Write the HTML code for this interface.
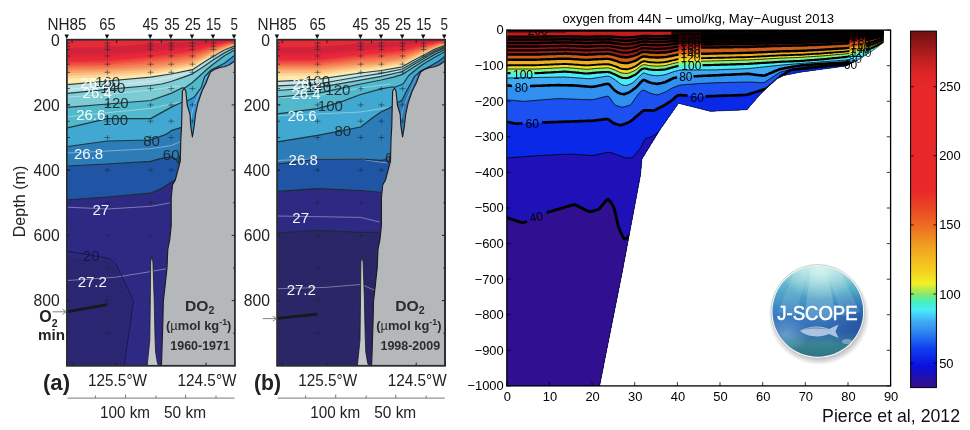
<!DOCTYPE html>
<html><head><meta charset="utf-8"><title>DO2 sections</title>
<style>
html,body{margin:0;padding:0;background:#fff;}
body{width:970px;height:430px;overflow:hidden;font-family:'Liberation Sans', sans-serif;}
svg{display:block;font-family:'Liberation Sans', sans-serif;}
</style></head>
<body>
<svg width="970" height="430" viewBox="0 0 970 430">
<rect width="970" height="430" fill="#fff"/>
<clipPath id="clipa"><rect x="66.9" y="39.7" width="168.0" height="326.1"/></clipPath>
<g clip-path="url(#clipa)">
<rect x="66.9" y="39.7" width="168.0" height="326.1" fill="#e62a38"/>
<polygon points="66.9,48.0 67.4,48.0 107.4,47.3 150.6,43.8 171.2,42.7 192.4,41.5 213.4,40.5 234.7,40.0 235.1,40.0 235.1,365.8 66.9,365.8" fill="#d2213a"/>
<polygon points="66.9,54.5 67.4,54.5 107.4,53.8 150.6,50.5 171.2,48.3 192.4,45.5 213.4,42.3 234.7,40.2 235.1,40.2 235.1,365.8 66.9,365.8" fill="#dc2439"/>
<polygon points="66.9,57.0 67.4,57.0 107.4,56.3 150.6,52.5 171.2,50.0 192.4,47.0 213.4,43.2 234.7,40.4 235.1,40.4 235.1,365.8 66.9,365.8" fill="#e8283a"/>
<polygon points="66.9,61.5 67.4,61.5 107.4,60.8 150.6,56.5 171.2,54.0 192.4,51.0 213.4,45.3 234.7,40.9 235.1,40.9 235.1,365.8 66.9,365.8" fill="#ec3c3d"/>
<polygon points="66.9,63.5 67.4,63.5 107.4,62.8 150.6,58.5 171.2,56.0 192.4,53.0 213.4,46.7 234.7,41.4 235.1,41.4 235.1,365.8 66.9,365.8" fill="#ef5243"/>
<polygon points="66.9,65.5 67.4,65.5 107.4,64.8 150.6,60.8 171.2,58.2 192.4,55.0 213.4,48.0 234.7,41.9 235.1,41.9 235.1,365.8 66.9,365.8" fill="#f26848"/>
<polygon points="66.9,67.3 67.4,67.3 107.4,66.5 150.6,63.0 171.2,60.4 192.4,57.0 213.4,49.3 234.7,42.5 235.1,42.5 235.1,365.8 66.9,365.8" fill="#f47c52"/>
<polygon points="66.9,69.0 67.4,69.0 107.4,68.2 150.6,65.3 171.2,62.6 192.4,59.0 213.4,50.5 234.7,43.1 235.1,43.1 235.1,365.8 66.9,365.8" fill="#f68f5c"/>
<polygon points="66.9,71.0 67.4,71.0 107.4,70.0 150.6,67.5 171.2,64.8 192.4,61.0 213.4,51.8 234.7,43.7 235.1,43.7 235.1,365.8 66.9,365.8" fill="#f8a76c"/>
<polygon points="66.9,73.2 67.4,73.2 107.4,72.0 150.6,69.8 171.2,66.8 192.4,63.0 213.4,53.0 234.7,44.3 235.1,44.3 235.1,365.8 66.9,365.8" fill="#fabf80"/>
<polygon points="66.9,75.8 67.4,75.8 107.4,74.3 150.6,72.0 171.2,68.8 192.4,65.0 213.4,54.2 234.7,44.8 235.1,44.8 235.1,365.8 66.9,365.8" fill="#fcd696"/>
<polygon points="66.9,78.5 67.4,78.5 107.4,77.0 150.6,74.3 171.2,70.8 192.4,66.8 213.4,55.2 234.7,45.4 235.1,45.4 235.1,365.8 66.9,365.8" fill="#fdeaac"/>
<polygon points="66.9,84.7 67.4,84.7 107.4,81.0 150.6,77.2 171.0,74.0 192.4,69.7 202.3,63.3 213.4,56.3 224.4,50.0 234.7,45.9 235.1,45.9 235.1,365.8 66.9,365.8" fill="#b2dfe2"/>
<polygon points="66.9,93.4 67.4,93.4 107.4,89.4 150.6,85.5 161.6,84.0 171.0,81.5 183.7,77.2 192.4,73.8 202.3,67.4 213.4,59.8 224.4,52.9 234.7,47.6 235.1,47.6 235.1,365.8 66.9,365.8" fill="#7ccbd5"/>
<polygon points="66.9,107.4 67.4,107.4 107.4,104.0 150.6,100.5 171.0,93.4 181.4,88.2 185.5,87.6 192.4,82.5 198.8,76.7 205.8,70.3 213.4,63.9 224.4,55.8 234.7,50.0 235.1,50.0 235.1,365.8 66.9,365.8" fill="#52b9cc"/>
<polygon points="66.9,127.9 67.4,127.9 107.4,118.6 150.6,118.6 171.0,107.4 180.8,102.7 187.2,101.0 194.2,97.0 201.2,87.6 204.7,76.5 205.8,75.5 210.5,70.3 217.4,66.8 224.4,63.3 234.7,55.2 235.1,55.2 235.1,365.8 66.9,365.8" fill="#41a9d1"/>
<polygon points="67.4,146.5 107.4,141.0 150.6,140.0 166.0,134.4 171.2,130.7 180.0,127.9 183.0,127.0 184.0,127.0 184.0,365.8 66.9,365.8" fill="#2c7cb8"/>
<polygon points="67.4,166.0 107.4,164.0 150.6,161.4 160.4,158.6 171.2,156.7 176.2,159.5 178.0,163.0 179.3,158.0 181.0,154.0 184.0,154.0 184.0,365.8 66.9,365.8" fill="#2055a5"/>
<polygon points="67.4,199.8 107.4,197.0 150.6,193.2 161.3,188.6 173.4,181.0 177.0,178.5 184.0,178.5 184.0,365.8 66.9,365.8" fill="#2e2a84"/>
<polygon points="187.2,101.0 194.2,97.0 201.2,87.6 204.7,76.5 210.5,70.3 217.4,66.8 224.4,63.3 234.7,55.2 234.7,70.0 200.0,140.0 187.0,140.0" fill="#2f95d3"/>
<polygon points="67.4,251.2 84.2,254.0 109.3,258.6 115.8,264.2 133.4,300.4 130.7,320.0 124.2,365.5 67.4,365.5" fill="#2c287c"/>
<polygon points="67.4,257.7 107.4,260.5 113.9,265.1 131.6,301.4 128.8,320.0 122.0,365.5 67.4,365.5" fill="#2a2672"/>
<polyline points="67.4,89.5 107.4,86.0 150.6,81.5 190.0,73.0" fill="none" stroke="#ffffff" stroke-width="0.9" stroke-linejoin="round" stroke-opacity="0.42"/>
<polyline points="67.4,97.0 107.0,94.5 150.6,90.0 180.0,86.0" fill="none" stroke="#ffffff" stroke-width="0.9" stroke-linejoin="round" stroke-opacity="0.42"/>
<polyline points="67.4,116.7 150.6,108.4 181.0,101.9" fill="none" stroke="#ffffff" stroke-width="0.9" stroke-linejoin="round" stroke-opacity="0.42"/>
<polyline points="67.4,153.0 107.4,151.0 150.6,148.7 171.2,145.6 180.0,141.8" fill="none" stroke="#ffffff" stroke-width="0.9" stroke-linejoin="round" stroke-opacity="0.42"/>
<polyline points="67.4,207.2 107.4,209.0 150.6,206.3 169.7,203.0" fill="none" stroke="#ffffff" stroke-width="0.9" stroke-linejoin="round" stroke-opacity="0.42"/>
<polyline points="67.4,280.5 115.8,277.2 150.6,271.6 166.0,268.8" fill="none" stroke="#ffffff" stroke-width="0.9" stroke-linejoin="round" stroke-opacity="0.42"/>
<polyline points="190.5,120.0 193.0,108.0 198.0,96.0 203.0,84.0 207.0,75.0" fill="none" stroke="#ffffff" stroke-width="0.8" stroke-linejoin="round" stroke-opacity="0.45"/>
<polyline points="67.4,84.7 107.4,81.0 150.6,77.2 171.0,74.0 192.4,69.7 202.3,63.3 213.4,56.3 224.4,50.0 234.7,45.9" fill="none" stroke="#1e2a30" stroke-width="1.25" stroke-linejoin="round" stroke-opacity="0.9"/>
<polyline points="67.4,93.4 107.4,89.4 150.6,85.5 161.6,84.0 171.0,81.5 183.7,77.2 192.4,73.8 202.3,67.4 213.4,59.8 224.4,52.9 234.7,47.6" fill="none" stroke="#1e2a30" stroke-width="1.25" stroke-linejoin="round" stroke-opacity="0.9"/>
<polyline points="67.4,107.4 107.4,104.0 150.6,100.5 171.0,93.4 181.4,88.2 185.5,87.6 192.4,82.5 198.8,76.7 205.8,70.3 213.4,63.9 224.4,55.8 234.7,50.0" fill="none" stroke="#1e2a30" stroke-width="1.25" stroke-linejoin="round" stroke-opacity="0.9"/>
<polyline points="67.4,127.9 107.4,118.6 150.6,118.6 171.0,107.4 180.8,102.7 187.2,101.0 194.2,97.0 201.2,87.6 204.7,76.5 205.8,75.5 210.5,70.3 217.4,66.8 224.4,63.3 234.7,55.2" fill="none" stroke="#1e2a30" stroke-width="1.25" stroke-linejoin="round" stroke-opacity="0.9"/>
<polyline points="67.4,146.5 107.4,141.0 150.6,140.0 166.0,134.4 171.2,130.7 180.0,127.9 183.0,127.0" fill="none" stroke="#1e2a30" stroke-width="1.25" stroke-linejoin="round" stroke-opacity="0.9"/>
<polyline points="67.4,166.0 107.4,164.0 150.6,161.4 160.4,158.6 171.2,156.7 176.2,159.5 178.0,163.0 179.3,158.0 181.0,154.0" fill="none" stroke="#1e2a30" stroke-width="1.25" stroke-linejoin="round" stroke-opacity="0.9"/>
<polyline points="67.4,199.8 107.4,197.0 150.6,193.2 161.3,188.6 173.4,181.0 177.0,178.5" fill="none" stroke="#1e2a30" stroke-width="1.25" stroke-linejoin="round" stroke-opacity="0.9"/>
<polyline points="67.4,251.2 84.2,254.0 109.3,258.6 115.8,264.2 133.4,300.4 130.7,320.0 124.2,365.5" fill="none" stroke="#15153a" stroke-width="0.9" stroke-linejoin="round" stroke-opacity="0.9"/>
<path d="M104.4,43.0h6M107.4,40.5v5M104.4,46.2h6M107.4,43.7v5M104.4,49.5h6M107.4,47.0v5M104.4,56.0h6M107.4,53.5v5M104.4,64.2h6M107.4,61.7v5M104.4,72.3h6M107.4,69.8v5M104.4,88.6h6M107.4,86.1v5M104.4,104.9h6M107.4,102.4v5M104.4,121.2h6M107.4,118.7v5M104.4,137.5h6M107.4,135.0v5M104.4,170.1h6M107.4,167.6v5M104.4,202.8h6M107.4,200.2v5M104.4,235.4h6M107.4,232.9v5M104.4,268.0h6M107.4,265.5v5M104.4,300.6h6M107.4,298.1v5M104.4,333.2h6M107.4,330.7v5M147.6,43.0h6M150.6,40.5v5M147.6,46.2h6M150.6,43.7v5M147.6,49.5h6M150.6,47.0v5M147.6,56.0h6M150.6,53.5v5M147.6,64.2h6M150.6,61.7v5M147.6,72.3h6M150.6,69.8v5M147.6,88.6h6M150.6,86.1v5M147.6,104.9h6M150.6,102.4v5M147.6,121.2h6M150.6,118.7v5M147.6,137.5h6M150.6,135.0v5M147.6,170.1h6M150.6,167.6v5M147.6,202.8h6M150.6,200.2v5M147.6,235.4h6M150.6,232.9v5M147.6,268.0h6M150.6,265.5v5M147.6,300.6h6M150.6,298.1v5M147.6,333.2h6M150.6,330.7v5M168.2,43.0h6M171.2,40.5v5M168.2,46.2h6M171.2,43.7v5M168.2,49.5h6M171.2,47.0v5M168.2,56.0h6M171.2,53.5v5M168.2,64.2h6M171.2,61.7v5M168.2,72.3h6M171.2,69.8v5M168.2,88.6h6M171.2,86.1v5M168.2,104.9h6M171.2,102.4v5M168.2,121.2h6M171.2,118.7v5M168.2,137.5h6M171.2,135.0v5M168.2,170.1h6M171.2,167.6v5M189.4,43.0h6M192.4,40.5v5M189.4,46.2h6M192.4,43.7v5M189.4,49.5h6M192.4,47.0v5M189.4,56.0h6M192.4,53.5v5M189.4,64.2h6M192.4,61.7v5M189.4,72.3h6M192.4,69.8v5M189.4,88.6h6M192.4,86.1v5M189.4,104.9h6M192.4,102.4v5M189.4,121.2h6M192.4,118.7v5M210.4,43.0h6M213.4,40.5v5M210.4,46.2h6M213.4,43.7v5M210.4,49.5h6M213.4,47.0v5M210.4,56.0h6M213.4,53.5v5M231.4,43.0h6M234.4,40.5v5" stroke="#1c2630" stroke-width="0.85" stroke-opacity="0.62" fill="none"/>
<path d="M66.9,43.0h3M66.9,46.2h3M66.9,49.5h3M66.9,56.0h3M66.9,64.2h3M66.9,72.3h3M66.9,88.6h3M66.9,104.9h3M66.9,121.2h3M66.9,137.5h3M66.9,170.1h3M66.9,202.8h3M66.9,235.4h3M66.9,268.0h3M66.9,300.6h3M66.9,333.2h3" stroke="#1c2630" stroke-width="0.8" fill="none"/>
<text x="95.2" y="87.3" font-size="15" fill="#1a2228" text-anchor="start" font-weight="normal" fill-opacity="0.9">160</text>
<text x="100.3" y="93.3" font-size="15" fill="#1a2228" text-anchor="start" font-weight="normal" fill-opacity="0.9">140</text>
<text x="103.7" y="108.3" font-size="15" fill="#1a2228" text-anchor="start" font-weight="normal" fill-opacity="0.9">120</text>
<text x="103.0" y="125.3" font-size="15" fill="#1a2228" text-anchor="start" font-weight="normal" fill-opacity="0.9">100</text>
<text x="143.2" y="146.0" font-size="15" fill="#1a2228" text-anchor="start" font-weight="normal" fill-opacity="0.9">80</text>
<text x="162.8" y="160.0" font-size="15" fill="#1a2228" text-anchor="start" font-weight="normal" fill-opacity="0.9">60</text>
<text x="82.8" y="261.4" font-size="15" fill="#14143c" text-anchor="start" font-weight="normal" fill-opacity="0.85">20</text>
<polygon points="234.7,61.0 229.0,65.0 224.4,66.8 219.8,67.4 215.0,69.1 210.5,72.0 208.5,76.5 206.0,83.0 202.0,91.0 198.0,102.7 195.5,114.4 194.2,126.0 192.4,137.0 190.7,126.0 190.0,114.4 187.2,105.0 185.8,91.0 184.3,88.2 182.4,91.0 181.6,126.0 180.8,140.0 180.3,161.0 175.3,180.0 172.5,185.0 171.2,198.0 171.2,225.8 169.7,240.0 167.8,249.3 167.0,268.0 165.0,286.5 163.3,301.4 162.9,320.0 161.7,358.0 161.4,365.5 234.7,365.5" fill="#b5b8bb" stroke="#1c1c1c" stroke-width="1.15" stroke-linejoin="round"/>
<polygon points="147.2,365.5 149.8,340.0 150.3,300.0 150.7,262.0 151.7,256.3 152.9,262.0 154.2,300.0 155.0,337.0 155.6,352.0 157.4,363.0 158.6,365.5" fill="#c4c8cb" stroke="#1c1c1c" stroke-width="0.8" stroke-linejoin="round"/>
<text x="80.3" y="88.2" font-size="15" fill="#ffffff" text-anchor="start" font-weight="normal" fill-opacity="0.95">26.2</text>
<text x="82.6" y="98.0" font-size="15" fill="#ffffff" text-anchor="start" font-weight="normal" fill-opacity="0.95">26.4</text>
<text x="76.2" y="120.4" font-size="15" fill="#ffffff" text-anchor="start" font-weight="normal" fill-opacity="0.95">26.6</text>
<text x="74.0" y="158.6" font-size="15" fill="#ffffff" text-anchor="start" font-weight="normal" fill-opacity="0.95">26.8</text>
<text x="92.5" y="215.0" font-size="15" fill="#ffffff" text-anchor="start" font-weight="normal" fill-opacity="0.95">27</text>
<text x="77.7" y="286.5" font-size="15" fill="#ffffff" text-anchor="start" font-weight="normal" fill-opacity="0.95">27.2</text>
<polyline points="67.4,311.6 107.4,304.7" fill="none" stroke="#17171c" stroke-width="2.8" stroke-linejoin="round" />
</g>
<rect x="66.9" y="39.7" width="168.0" height="326.1" fill="none" stroke="#2a2d30" stroke-width="1.8"/>
<path d="M234.9,104.9h-3.2M66.9,104.9h3.2M234.9,170.1h-3.2M66.9,170.1h3.2M234.9,235.4h-3.2M66.9,235.4h3.2M234.9,300.6h-3.2M66.9,300.6h3.2M234.9,72.3h-1.8M234.9,137.5h-1.8M234.9,202.8h-1.8M234.9,268.0h-1.8M234.9,333.2h-1.8M72.1,39.7v3.4M72.1,365.8v-3.2M116.7,39.7v3.4M116.7,365.8v-3.2M161.3,39.7v3.4M161.3,365.8v-3.2M206.0,39.7v3.4M206.0,365.8v-3.2" stroke="#222" stroke-width="1" fill="none"/>
<path d="M64.5,34.6h4.4l-2.2,4.3zM104.8,34.6h4.4l-2.2,4.3zM148.0,34.6h4.4l-2.2,4.3zM168.6,34.6h4.4l-2.2,4.3zM189.8,34.6h4.4l-2.2,4.3zM210.8,34.6h4.4l-2.2,4.3zM231.8,34.6h4.4l-2.2,4.3z" fill="#111"/>
<text x="47.4" y="29.8" font-size="15.6" fill="#222" text-anchor="start" font-weight="normal" textLength="39.1" lengthAdjust="spacingAndGlyphs" >NH85</text>
<text x="99.3" y="29.8" font-size="15.6" fill="#222" text-anchor="start" font-weight="normal" textLength="16.3" lengthAdjust="spacingAndGlyphs" >65</text>
<text x="142.4" y="29.8" font-size="15.6" fill="#222" text-anchor="start" font-weight="normal" textLength="16.0" lengthAdjust="spacingAndGlyphs" >45</text>
<text x="164.3" y="29.8" font-size="15.6" fill="#222" text-anchor="start" font-weight="normal" textLength="15.5" lengthAdjust="spacingAndGlyphs" >35</text>
<text x="184.7" y="29.8" font-size="15.6" fill="#222" text-anchor="start" font-weight="normal" textLength="16.2" lengthAdjust="spacingAndGlyphs" >25</text>
<text x="206.0" y="29.8" font-size="15.6" fill="#222" text-anchor="start" font-weight="normal" textLength="15.2" lengthAdjust="spacingAndGlyphs" >15</text>
<text x="230.4" y="29.8" font-size="15.6" fill="#222" text-anchor="start" font-weight="normal" textLength="7.5" lengthAdjust="spacingAndGlyphs" >5</text>
<text x="59.8" y="45.5" font-size="15.7" fill="#222" text-anchor="end" font-weight="normal" >0</text>
<text x="59.8" y="110.7" font-size="15.7" fill="#222" text-anchor="end" font-weight="normal" >200</text>
<text x="59.8" y="175.9" font-size="15.7" fill="#222" text-anchor="end" font-weight="normal" >400</text>
<text x="59.8" y="241.2" font-size="15.7" fill="#222" text-anchor="end" font-weight="normal" >600</text>
<text x="59.8" y="306.4" font-size="15.7" fill="#222" text-anchor="end" font-weight="normal" >800</text>
<text x="185.0" y="310.6" font-size="15.4" fill="#2c2c2c" text-anchor="start" font-weight="bold" textLength="29.4" lengthAdjust="spacingAndGlyphs" >DO<tspan font-size="10.5" dy="3.8">2</tspan></text>
<text x="166.0" y="330.1" font-size="12.3" fill="#2c2c2c" text-anchor="start" font-weight="bold" textLength="65.4" lengthAdjust="spacingAndGlyphs" >(<tspan font-weight="normal">µ</tspan>mol kg<tspan font-size="8.5" dy="-5.6">-1</tspan><tspan dy="5.6">)</tspan></text>
<text x="170.3" y="349.5" font-size="12.4" fill="#2c2c2c" text-anchor="start" font-weight="bold" textLength="59.6" lengthAdjust="spacingAndGlyphs" >1960-1971</text>
<text x="43.0" y="390.0" font-size="22" fill="#222" text-anchor="start" font-weight="bold" textLength="27.0" lengthAdjust="spacingAndGlyphs" >(a)</text>
<text x="88.0" y="385.8" font-size="15.6" fill="#222" text-anchor="start" font-weight="normal" textLength="59.0" lengthAdjust="spacingAndGlyphs" >125.5°W</text>
<text x="177.5" y="385.8" font-size="15.6" fill="#222" text-anchor="start" font-weight="normal" textLength="59.0" lengthAdjust="spacingAndGlyphs" >124.5°W</text>
<path d="M67.5,398.1H234.5M95.4,398.1v-2.6M125.5,398.1v-3.4M156.0,398.1v-2.6M185.6,398.1v-3.4M216.0,398.1v-2.6" stroke="#777" stroke-width="1" fill="none"/>
<text x="100.0" y="418.1" font-size="15.6" fill="#222" text-anchor="start" font-weight="normal" textLength="50.0" lengthAdjust="spacingAndGlyphs" >100 km</text>
<text x="164.0" y="418.1" font-size="15.6" fill="#222" text-anchor="start" font-weight="normal" textLength="42.0" lengthAdjust="spacingAndGlyphs" >50 km</text>
<path d="M52.5,311.8H66.3M62.5,309.2L66.3,311.8L62.5,314.4" stroke="#666" stroke-width="0.8" fill="none"/>
<clipPath id="clipb"><rect x="277.1" y="39.7" width="168.0" height="326.1"/></clipPath>
<g clip-path="url(#clipb)">
<rect x="277.1" y="39.7" width="168.0" height="326.1" fill="#e62a38"/>
<polygon points="277.1,47.4 277.6,47.4 317.6,47.0 360.8,43.3 381.4,42.4 402.6,41.4 423.6,40.4 444.9,40.0 445.3,40.0 445.3,365.8 277.1,365.8" fill="#d2213a"/>
<polygon points="277.1,53.4 277.6,53.4 317.6,53.2 360.8,49.2 381.4,47.5 402.6,45.0 423.6,42.1 444.9,40.2 445.3,40.2 445.3,365.8 277.1,365.8" fill="#dc2439"/>
<polygon points="277.1,55.8 277.6,55.8 317.6,55.6 360.8,51.0 381.4,49.0 402.6,46.4 423.6,43.0 444.9,40.3 445.3,40.3 445.3,365.8 277.1,365.8" fill="#e8283a"/>
<polygon points="277.1,59.9 277.6,59.9 317.6,59.9 360.8,54.5 381.4,52.7 402.6,50.1 423.6,44.9 444.9,40.8 445.3,40.8 445.3,365.8 277.1,365.8" fill="#ec3c3d"/>
<polygon points="277.1,61.8 277.6,61.8 317.6,61.8 360.8,56.3 381.4,54.5 402.6,51.9 423.6,46.2 444.9,41.2 445.3,41.2 445.3,365.8 277.1,365.8" fill="#ef5243"/>
<polygon points="277.1,63.7 277.6,63.7 317.6,63.8 360.8,58.4 381.4,56.5 402.6,53.8 423.6,47.5 444.9,41.7 445.3,41.7 445.3,365.8 277.1,365.8" fill="#f26848"/>
<polygon points="277.1,65.3 277.6,65.3 317.6,65.4 360.8,60.3 381.4,58.5 402.6,55.6 423.6,48.7 444.9,42.2 445.3,42.2 445.3,365.8 277.1,365.8" fill="#f47c52"/>
<polygon points="277.1,66.9 277.6,66.9 317.6,67.0 360.8,62.3 381.4,60.4 402.6,57.4 423.6,49.8 444.9,42.8 445.3,42.8 445.3,365.8 277.1,365.8" fill="#f68f5c"/>
<polygon points="277.1,68.8 277.6,68.8 317.6,68.8 360.8,64.3 381.4,62.4 402.6,59.3 423.6,51.0 444.9,43.3 445.3,43.3 445.3,365.8 277.1,365.8" fill="#f8a76c"/>
<polygon points="277.1,70.8 277.6,70.8 317.6,70.7 360.8,66.3 381.4,64.2 402.6,61.1 423.6,52.1 444.9,43.9 445.3,43.9 445.3,365.8 277.1,365.8" fill="#fabf80"/>
<polygon points="277.1,73.2 277.6,73.2 317.6,72.9 360.8,68.3 381.4,66.1 402.6,62.9 423.6,53.2 444.9,44.3 445.3,44.3 445.3,365.8 277.1,365.8" fill="#fcd696"/>
<polygon points="277.1,75.7 277.6,75.7 317.6,75.5 360.8,70.3 381.4,67.9 402.6,64.6 423.6,54.2 444.9,44.8 445.3,44.8 445.3,365.8 277.1,365.8" fill="#fdeaac"/>
<polygon points="277.1,81.3 277.4,81.3 317.4,79.3 360.6,73.0 381.2,70.5 402.4,66.8 412.3,61.0 423.4,55.2 434.4,49.4 444.9,45.3 445.3,45.3 445.3,365.8 277.1,365.8" fill="#c2e7e6"/>
<polygon points="277.1,85.9 277.4,85.9 317.4,84.0 360.6,76.5 381.2,73.4 402.4,69.0 412.3,63.2 423.4,57.0 434.4,51.1 444.9,46.5 445.3,46.5 445.3,365.8 277.1,365.8" fill="#9dd7dc"/>
<polygon points="277.1,90.5 277.4,90.5 317.4,87.6 360.6,80.2 381.2,76.3 402.4,71.5 412.3,65.3 423.4,58.7 434.4,52.5 444.9,47.6 445.3,47.6 445.3,365.8 277.1,365.8" fill="#74c8d4"/>
<polygon points="277.1,97.0 277.4,97.0 317.4,93.3 360.6,84.0 381.2,80.0 393.7,77.2 402.4,74.4 412.3,68.0 423.4,61.0 434.4,54.6 444.9,49.4 445.3,49.4 445.3,365.8 277.1,365.8" fill="#52b9cc"/>
<polygon points="277.1,113.8 277.4,113.8 317.4,108.7 339.0,102.7 360.6,94.5 381.2,88.8 391.4,87.0 395.5,87.0 403.0,84.0 408.8,75.5 415.8,69.7 423.4,64.0 434.4,57.5 444.9,51.7 445.3,51.7 445.3,365.8 277.1,365.8" fill="#41a9d1"/>
<polygon points="277.1,141.8 277.4,141.8 317.4,135.3 360.6,127.0 371.6,118.5 381.0,112.0 390.8,107.4 397.2,102.7 401.9,100.4 406.5,91.0 411.0,83.0 414.7,76.0 415.8,75.5 420.5,71.0 429.8,66.2 439.0,61.0 444.9,56.3 445.3,56.3 445.3,365.8 277.1,365.8" fill="#2c7cb8"/>
<polygon points="277.4,164.2 317.4,159.0 360.6,159.0 381.2,160.4 386.2,159.5 388.7,163.0 389.7,157.0 391.2,154.0 394.2,154.0 394.2,365.8 277.1,365.8" fill="#2055a5"/>
<polygon points="277.4,191.4 317.4,188.6 360.6,190.5 381.2,192.3 388.2,192.5 394.2,192.5 394.2,365.8 277.1,365.8" fill="#2e2a84"/>
<polygon points="277.4,233.2 317.4,230.4 360.6,232.3 381.2,232.3 394.2,232.3 394.2,365.8 277.1,365.8" fill="#2a2668"/>
<polyline points="277.6,89.0 317.6,86.5 360.8,79.0 400.2,71.0" fill="none" stroke="#ffffff" stroke-width="0.9" stroke-linejoin="round" stroke-opacity="0.42"/>
<polyline points="277.4,98.0 317.2,95.5 360.2,88.0 390.2,84.0" fill="none" stroke="#ffffff" stroke-width="0.9" stroke-linejoin="round" stroke-opacity="0.42"/>
<polyline points="277.4,115.8 360.6,112.0 389.0,107.4" fill="none" stroke="#ffffff" stroke-width="0.9" stroke-linejoin="round" stroke-opacity="0.42"/>
<polyline points="277.4,160.4 325.8,158.6 360.6,159.0 381.2,162.3 390.2,163.0" fill="none" stroke="#ffffff" stroke-width="0.9" stroke-linejoin="round" stroke-opacity="0.42"/>
<polyline points="277.4,216.0 360.6,217.4 379.7,222.0" fill="none" stroke="#ffffff" stroke-width="0.9" stroke-linejoin="round" stroke-opacity="0.42"/>
<polyline points="277.4,288.7 325.8,287.4 359.3,284.6 364.0,285.6 374.0,290.0" fill="none" stroke="#ffffff" stroke-width="0.9" stroke-linejoin="round" stroke-opacity="0.42"/>
<polyline points="400.7,120.0 403.2,108.0 408.2,96.0 413.2,84.0 417.2,75.0" fill="none" stroke="#ffffff" stroke-width="0.8" stroke-linejoin="round" stroke-opacity="0.4"/>
<polyline points="277.4,81.3 317.4,79.3 360.6,73.0 381.2,70.5 402.4,66.8 412.3,61.0 423.4,55.2 434.4,49.4 444.9,45.3" fill="none" stroke="#1e2a30" stroke-width="1.25" stroke-linejoin="round" stroke-opacity="0.9"/>
<polyline points="277.4,85.9 317.4,84.0 360.6,76.5 381.2,73.4 402.4,69.0 412.3,63.2 423.4,57.0 434.4,51.1 444.9,46.5" fill="none" stroke="#1e2a30" stroke-width="1.25" stroke-linejoin="round" stroke-opacity="0.9"/>
<polyline points="277.4,90.5 317.4,87.6 360.6,80.2 381.2,76.3 402.4,71.5 412.3,65.3 423.4,58.7 434.4,52.5 444.9,47.6" fill="none" stroke="#1e2a30" stroke-width="1.25" stroke-linejoin="round" stroke-opacity="0.9"/>
<polyline points="277.4,97.0 317.4,93.3 360.6,84.0 381.2,80.0 393.7,77.2 402.4,74.4 412.3,68.0 423.4,61.0 434.4,54.6 444.9,49.4" fill="none" stroke="#1e2a30" stroke-width="1.25" stroke-linejoin="round" stroke-opacity="0.9"/>
<polyline points="277.4,113.8 317.4,108.7 339.0,102.7 360.6,94.5 381.2,88.8 391.4,87.0 395.5,87.0 403.0,84.0 408.8,75.5 415.8,69.7 423.4,64.0 434.4,57.5 444.9,51.7" fill="none" stroke="#1e2a30" stroke-width="1.25" stroke-linejoin="round" stroke-opacity="0.9"/>
<polyline points="277.4,141.8 317.4,135.3 360.6,127.0 371.6,118.5 381.0,112.0 390.8,107.4 397.2,102.7 401.9,100.4 406.5,91.0 411.0,83.0 414.7,76.0 415.8,75.5 420.5,71.0 429.8,66.2 439.0,61.0 444.9,56.3" fill="none" stroke="#1e2a30" stroke-width="1.25" stroke-linejoin="round" stroke-opacity="0.9"/>
<polyline points="277.4,164.2 317.4,159.0 360.6,159.0 381.2,160.4 386.2,159.5 388.7,163.0 389.7,157.0 391.2,154.0" fill="none" stroke="#1e2a30" stroke-width="1.25" stroke-linejoin="round" stroke-opacity="0.9"/>
<polyline points="277.4,191.4 317.4,188.6 360.6,190.5 381.2,192.3 388.2,192.5" fill="none" stroke="#1e2a30" stroke-width="1.25" stroke-linejoin="round" stroke-opacity="0.9"/>
<polyline points="277.4,233.2 317.4,230.4 360.6,232.3 381.2,232.3" fill="none" stroke="#1e2a30" stroke-width="1.25" stroke-linejoin="round" stroke-opacity="0.9"/>
<path d="M314.6,43.0h6M317.6,40.5v5M314.6,46.2h6M317.6,43.7v5M314.6,49.5h6M317.6,47.0v5M314.6,56.0h6M317.6,53.5v5M314.6,64.2h6M317.6,61.7v5M314.6,72.3h6M317.6,69.8v5M314.6,88.6h6M317.6,86.1v5M314.6,104.9h6M317.6,102.4v5M314.6,121.2h6M317.6,118.7v5M314.6,137.5h6M317.6,135.0v5M314.6,170.1h6M317.6,167.6v5M314.6,202.8h6M317.6,200.2v5M314.6,235.4h6M317.6,232.9v5M314.6,268.0h6M317.6,265.5v5M314.6,300.6h6M317.6,298.1v5M314.6,333.2h6M317.6,330.7v5M357.8,43.0h6M360.8,40.5v5M357.8,46.2h6M360.8,43.7v5M357.8,49.5h6M360.8,47.0v5M357.8,56.0h6M360.8,53.5v5M357.8,64.2h6M360.8,61.7v5M357.8,72.3h6M360.8,69.8v5M357.8,88.6h6M360.8,86.1v5M357.8,104.9h6M360.8,102.4v5M357.8,121.2h6M360.8,118.7v5M357.8,137.5h6M360.8,135.0v5M357.8,170.1h6M360.8,167.6v5M357.8,202.8h6M360.8,200.2v5M357.8,235.4h6M360.8,232.9v5M357.8,268.0h6M360.8,265.5v5M357.8,300.6h6M360.8,298.1v5M357.8,333.2h6M360.8,330.7v5M378.4,43.0h6M381.4,40.5v5M378.4,46.2h6M381.4,43.7v5M378.4,49.5h6M381.4,47.0v5M378.4,56.0h6M381.4,53.5v5M378.4,64.2h6M381.4,61.7v5M378.4,72.3h6M381.4,69.8v5M378.4,88.6h6M381.4,86.1v5M378.4,104.9h6M381.4,102.4v5M378.4,121.2h6M381.4,118.7v5M378.4,137.5h6M381.4,135.0v5M378.4,170.1h6M381.4,167.6v5M399.6,43.0h6M402.6,40.5v5M399.6,46.2h6M402.6,43.7v5M399.6,49.5h6M402.6,47.0v5M399.6,56.0h6M402.6,53.5v5M399.6,64.2h6M402.6,61.7v5M399.6,72.3h6M402.6,69.8v5M399.6,88.6h6M402.6,86.1v5M399.6,104.9h6M402.6,102.4v5M399.6,121.2h6M402.6,118.7v5M420.6,43.0h6M423.6,40.5v5M420.6,46.2h6M423.6,43.7v5M420.6,49.5h6M423.6,47.0v5M420.6,56.0h6M423.6,53.5v5M441.6,43.0h6M444.6,40.5v5" stroke="#1c2630" stroke-width="0.85" stroke-opacity="0.62" fill="none"/>
<path d="M277.1,43.0h3M277.1,46.2h3M277.1,49.5h3M277.1,56.0h3M277.1,64.2h3M277.1,72.3h3M277.1,88.6h3M277.1,104.9h3M277.1,121.2h3M277.1,137.5h3M277.1,170.1h3M277.1,202.8h3M277.1,235.4h3M277.1,268.0h3M277.1,300.6h3M277.1,333.2h3" stroke="#1c2630" stroke-width="0.8" fill="none"/>
<text x="305.0" y="86.3" font-size="15" fill="#1a2228" text-anchor="start" font-weight="normal" fill-opacity="0.9">160</text>
<text x="306.0" y="91.5" font-size="15" fill="#1a2228" text-anchor="start" font-weight="normal" fill-opacity="0.9">140</text>
<text x="325.3" y="95.0" font-size="15" fill="#1a2228" text-anchor="start" font-weight="normal" fill-opacity="0.9">120</text>
<text x="317.8" y="111.3" font-size="15" fill="#1a2228" text-anchor="start" font-weight="normal" fill-opacity="0.9">100</text>
<text x="334.5" y="136.3" font-size="15" fill="#1a2228" text-anchor="start" font-weight="normal" fill-opacity="0.9">80</text>
<text x="385.0" y="163.0" font-size="15" fill="#1a2228" text-anchor="start" font-weight="normal" fill-opacity="0.9">60</text>
<polygon points="444.9,61.0 439.2,65.0 434.6,66.8 430.0,67.4 425.2,69.1 420.7,72.0 418.7,76.5 416.2,83.0 412.2,91.0 408.2,102.7 405.7,114.4 404.4,126.0 402.6,137.0 400.9,126.0 400.2,114.4 397.4,105.0 396.0,91.0 394.5,88.2 392.6,91.0 391.8,126.0 391.0,140.0 390.5,161.0 385.5,180.0 382.7,185.0 381.4,198.0 381.4,225.8 379.9,240.0 378.0,249.3 377.2,268.0 375.2,286.5 373.5,301.4 373.1,320.0 371.9,358.0 371.6,365.5 444.9,365.5" fill="#b5b8bb" stroke="#1c1c1c" stroke-width="1.15" stroke-linejoin="round"/>
<polygon points="357.4,365.5 360.0,340.0 360.5,300.0 360.9,262.0 361.9,256.3 363.1,262.0 364.4,300.0 365.2,337.0 365.8,352.0 367.6,363.0 368.8,365.5" fill="#c4c8cb" stroke="#1c1c1c" stroke-width="0.8" stroke-linejoin="round"/>
<text x="292.6" y="88.8" font-size="15" fill="#ffffff" text-anchor="start" font-weight="normal" fill-opacity="0.95">26.2</text>
<text x="291.4" y="99.3" font-size="15" fill="#ffffff" text-anchor="start" font-weight="normal" fill-opacity="0.95">26.4</text>
<text x="287.4" y="121.3" font-size="15" fill="#ffffff" text-anchor="start" font-weight="normal" fill-opacity="0.95">26.6</text>
<text x="288.6" y="165.0" font-size="15" fill="#ffffff" text-anchor="start" font-weight="normal" fill-opacity="0.95">26.8</text>
<text x="292.3" y="223.0" font-size="15" fill="#ffffff" text-anchor="start" font-weight="normal" fill-opacity="0.95">27</text>
<text x="286.7" y="295.2" font-size="15" fill="#ffffff" text-anchor="start" font-weight="normal" fill-opacity="0.95">27.2</text>
<polyline points="277.4,318.4 317.4,314.1" fill="none" stroke="#17171c" stroke-width="2.8" stroke-linejoin="round" />
</g>
<rect x="277.1" y="39.7" width="168.0" height="326.1" fill="none" stroke="#2a2d30" stroke-width="1.8"/>
<path d="M445.1,104.9h-3.2M277.1,104.9h3.2M445.1,170.1h-3.2M277.1,170.1h3.2M445.1,235.4h-3.2M277.1,235.4h3.2M445.1,300.6h-3.2M277.1,300.6h3.2M445.1,72.3h-1.8M445.1,137.5h-1.8M445.1,202.8h-1.8M445.1,268.0h-1.8M445.1,333.2h-1.8M282.3,39.7v3.4M282.3,365.8v-3.2M326.9,39.7v3.4M326.9,365.8v-3.2M371.5,39.7v3.4M371.5,365.8v-3.2M416.2,39.7v3.4M416.2,365.8v-3.2" stroke="#222" stroke-width="1" fill="none"/>
<path d="M274.7,34.6h4.4l-2.2,4.3zM315.0,34.6h4.4l-2.2,4.3zM358.2,34.6h4.4l-2.2,4.3zM378.8,34.6h4.4l-2.2,4.3zM400.0,34.6h4.4l-2.2,4.3zM421.0,34.6h4.4l-2.2,4.3zM442.0,34.6h4.4l-2.2,4.3z" fill="#111"/>
<text x="257.6" y="29.8" font-size="15.6" fill="#222" text-anchor="start" font-weight="normal" textLength="39.1" lengthAdjust="spacingAndGlyphs" >NH85</text>
<text x="309.5" y="29.8" font-size="15.6" fill="#222" text-anchor="start" font-weight="normal" textLength="16.3" lengthAdjust="spacingAndGlyphs" >65</text>
<text x="352.6" y="29.8" font-size="15.6" fill="#222" text-anchor="start" font-weight="normal" textLength="16.0" lengthAdjust="spacingAndGlyphs" >45</text>
<text x="374.5" y="29.8" font-size="15.6" fill="#222" text-anchor="start" font-weight="normal" textLength="15.5" lengthAdjust="spacingAndGlyphs" >35</text>
<text x="394.9" y="29.8" font-size="15.6" fill="#222" text-anchor="start" font-weight="normal" textLength="16.2" lengthAdjust="spacingAndGlyphs" >25</text>
<text x="416.2" y="29.8" font-size="15.6" fill="#222" text-anchor="start" font-weight="normal" textLength="15.2" lengthAdjust="spacingAndGlyphs" >15</text>
<text x="440.6" y="29.8" font-size="15.6" fill="#222" text-anchor="start" font-weight="normal" textLength="7.5" lengthAdjust="spacingAndGlyphs" >5</text>
<text x="270.0" y="45.5" font-size="15.7" fill="#222" text-anchor="end" font-weight="normal" >0</text>
<text x="270.0" y="110.7" font-size="15.7" fill="#222" text-anchor="end" font-weight="normal" >200</text>
<text x="270.0" y="175.9" font-size="15.7" fill="#222" text-anchor="end" font-weight="normal" >400</text>
<text x="270.0" y="241.2" font-size="15.7" fill="#222" text-anchor="end" font-weight="normal" >600</text>
<text x="270.0" y="306.4" font-size="15.7" fill="#222" text-anchor="end" font-weight="normal" >800</text>
<text x="395.2" y="310.6" font-size="15.4" fill="#2c2c2c" text-anchor="start" font-weight="bold" textLength="29.4" lengthAdjust="spacingAndGlyphs" >DO<tspan font-size="10.5" dy="3.8">2</tspan></text>
<text x="376.2" y="330.1" font-size="12.3" fill="#2c2c2c" text-anchor="start" font-weight="bold" textLength="65.4" lengthAdjust="spacingAndGlyphs" >(<tspan font-weight="normal">µ</tspan>mol kg<tspan font-size="8.5" dy="-5.6">-1</tspan><tspan dy="5.6">)</tspan></text>
<text x="380.5" y="349.5" font-size="12.4" fill="#2c2c2c" text-anchor="start" font-weight="bold" textLength="59.6" lengthAdjust="spacingAndGlyphs" >1998-2009</text>
<text x="254.0" y="390.0" font-size="22" fill="#222" text-anchor="start" font-weight="bold" textLength="27.0" lengthAdjust="spacingAndGlyphs" >(b)</text>
<text x="298.2" y="385.8" font-size="15.6" fill="#222" text-anchor="start" font-weight="normal" textLength="59.0" lengthAdjust="spacingAndGlyphs" >125.5°W</text>
<text x="387.7" y="385.8" font-size="15.6" fill="#222" text-anchor="start" font-weight="normal" textLength="59.0" lengthAdjust="spacingAndGlyphs" >124.5°W</text>
<path d="M277.7,398.1H444.7M305.6,398.1v-2.6M335.7,398.1v-3.4M366.2,398.1v-2.6M395.8,398.1v-3.4M426.2,398.1v-2.6" stroke="#777" stroke-width="1" fill="none"/>
<text x="310.2" y="418.1" font-size="15.6" fill="#222" text-anchor="start" font-weight="normal" textLength="50.0" lengthAdjust="spacingAndGlyphs" >100 km</text>
<text x="374.2" y="418.1" font-size="15.6" fill="#222" text-anchor="start" font-weight="normal" textLength="42.0" lengthAdjust="spacingAndGlyphs" >50 km</text>
<path d="M262.7,318.6H276.5M272.7,316.0L276.5,318.6L272.7,321.2" stroke="#666" stroke-width="0.8" fill="none"/>
<text transform="translate(25.2,201.5) rotate(-90)" font-size="15.6" fill="#222" text-anchor="middle" textLength="71.5" lengthAdjust="spacingAndGlyphs">Depth (m)</text>
<text x="39.2" y="322.4" font-size="16" fill="#222" text-anchor="start" font-weight="bold" >O<tspan font-size="10.5" dy="4.2">2</tspan></text>
<text x="38.0" y="340.4" font-size="15" fill="#222" text-anchor="start" font-weight="bold" textLength="27.0" lengthAdjust="spacingAndGlyphs" >min</text>
<clipPath id="water"><polygon points="507.4,30.0 883.4,30.0 883.4,42.4 872.0,51.0 858.0,60.0 846.0,66.0 820.0,69.5 800.0,72.2 783.6,75.5 777.0,78.7 760.5,94.0 746.9,109.7 710.3,111.3 678.5,103.2 659.8,130.0 641.9,159.0 640.5,175.0 622.6,270.0 599.6,385.7 507.4,385.7"/></clipPath>
<g clip-path="url(#water)">
<rect x="507" y="30" width="380" height="356" fill="#c21c1c"/>
<polygon points="506.0,36.6 507.5,36.6 509.0,36.6 510.5,36.6 512.0,36.6 513.5,36.6 515.0,36.6 516.5,36.6 518.0,36.6 519.5,36.6 521.0,36.6 522.5,36.6 524.0,36.6 525.5,36.6 527.0,36.6 528.5,36.6 530.0,36.6 531.5,36.6 533.0,36.6 534.5,36.6 536.0,36.6 537.5,36.6 539.0,36.6 540.5,36.6 542.0,36.5 543.5,36.5 545.0,36.5 546.5,36.5 548.0,36.5 549.5,36.5 551.0,36.5 552.5,36.5 554.0,36.4 555.5,36.4 557.0,36.4 558.5,36.4 560.0,36.4 561.5,36.4 563.0,36.4 564.5,36.4 566.0,36.4 567.5,36.4 569.0,36.4 570.5,36.4 572.0,36.4 573.5,36.5 575.0,36.5 576.5,36.5 578.0,36.5 579.5,36.5 581.0,36.6 582.5,36.6 584.0,36.6 585.5,36.6 587.0,36.6 588.5,36.6 590.0,36.6 591.5,36.6 593.0,36.6 594.5,36.5 596.0,36.5 597.5,36.5 599.0,36.5 600.5,36.5 602.0,36.5 603.5,36.4 605.0,36.4 606.5,36.4 608.0,36.4 609.5,36.5 611.0,36.5 612.5,36.6 614.0,36.7 615.5,36.8 617.0,36.9 618.5,37.1 620.0,37.2 621.5,37.3 623.0,37.3 624.5,37.3 626.0,37.4 627.5,37.3 629.0,37.3 630.5,37.2 632.0,37.1 633.5,37.0 635.0,36.8 636.5,36.7 638.0,36.5 639.5,36.3 641.0,36.1 642.5,35.9 644.0,35.9 645.5,35.9 647.0,35.9 648.5,36.0 650.0,36.0 651.5,36.1 653.0,36.1 654.5,36.1 656.0,36.1 657.5,36.1 659.0,36.1 660.5,36.1 662.0,36.1 663.5,36.1 665.0,36.0 666.5,36.0 668.0,35.9 669.5,35.8 671.0,35.8 672.5,35.7 674.0,35.6 675.5,35.5 677.0,35.4 678.5,35.3 680.0,35.3 681.5,35.2 683.0,35.2 684.5,35.1 686.0,35.1 687.5,35.1 689.0,35.0 690.5,35.0 692.0,34.9 693.5,34.9 695.0,34.9 696.5,34.8 698.0,34.8 699.5,34.8 701.0,34.8 702.5,34.7 704.0,34.7 705.5,34.7 707.0,34.7 708.5,34.7 710.0,34.7 711.5,34.7 713.0,34.7 714.5,34.7 716.0,34.7 717.5,34.7 719.0,34.7 720.5,34.7 722.0,34.7 723.5,34.7 725.0,34.7 726.5,34.6 728.0,34.6 729.5,34.6 731.0,34.6 732.5,34.6 734.0,34.6 735.5,34.6 737.0,34.6 738.5,34.6 740.0,34.6 741.5,34.6 743.0,34.6 744.5,34.6 746.0,34.6 747.5,34.6 749.0,34.5 750.5,34.5 752.0,34.5 753.5,34.5 755.0,34.5 756.5,34.5 758.0,34.5 759.5,34.5 761.0,34.4 762.5,34.4 764.0,34.4 765.5,34.4 767.0,34.4 768.5,34.4 770.0,34.4 771.5,34.4 773.0,34.3 774.5,34.3 776.0,34.3 777.5,34.3 779.0,34.3 780.5,34.3 782.0,34.3 783.5,34.3 785.0,34.2 786.5,34.2 788.0,34.2 789.5,34.2 791.0,34.2 792.5,34.2 794.0,34.2 795.5,34.2 797.0,34.2 798.5,34.2 800.0,34.2 801.5,34.2 803.0,34.1 804.5,34.1 806.0,34.1 807.5,34.1 809.0,34.1 810.5,34.1 812.0,34.0 813.5,34.0 815.0,34.0 816.5,34.0 818.0,34.0 819.5,34.0 821.0,34.0 822.5,33.9 824.0,33.9 825.5,33.9 827.0,33.9 828.5,33.9 830.0,33.8 831.5,33.8 833.0,33.8 834.5,33.8 836.0,33.8 837.5,33.7 839.0,33.7 840.5,33.7 842.0,33.7 843.5,33.7 845.0,33.6 846.5,33.6 848.0,33.6 849.5,33.5 851.0,33.5 852.5,33.4 854.0,33.4 855.5,33.3 857.0,33.3 858.5,33.2 860.0,33.1 861.5,33.0 863.0,32.9 864.5,32.9 866.0,32.8 867.5,32.7 869.0,32.6 870.5,32.5 872.0,32.4 873.5,32.3 875.0,32.2 876.5,32.1 878.0,32.0 879.5,31.9 881.0,31.8 882.5,31.7 884.0,31.6 886.0,31.6 886.0,386.0 507.0,386.0" fill="#861212"/>
<polygon points="506.0,39.6 507.5,39.6 509.0,39.6 510.5,39.6 512.0,39.6 513.5,39.6 515.0,39.6 516.5,39.6 518.0,39.6 519.5,39.6 521.0,39.6 522.5,39.6 524.0,39.6 525.5,39.6 527.0,39.6 528.5,39.6 530.0,39.6 531.5,39.6 533.0,39.6 534.5,39.6 536.0,39.6 537.5,39.6 539.0,39.6 540.5,39.5 542.0,39.5 543.5,39.5 545.0,39.5 546.5,39.5 548.0,39.5 549.5,39.4 551.0,39.4 552.5,39.4 554.0,39.4 555.5,39.4 557.0,39.3 558.5,39.3 560.0,39.3 561.5,39.3 563.0,39.3 564.5,39.3 566.0,39.3 567.5,39.3 569.0,39.3 570.5,39.3 572.0,39.4 573.5,39.4 575.0,39.4 576.5,39.5 578.0,39.5 579.5,39.5 581.0,39.6 582.5,39.6 584.0,39.6 585.5,39.7 587.0,39.7 588.5,39.6 590.0,39.6 591.5,39.6 593.0,39.5 594.5,39.5 596.0,39.5 597.5,39.4 599.0,39.4 600.5,39.4 602.0,39.4 603.5,39.4 605.0,39.4 606.5,39.3 608.0,39.3 609.5,39.4 611.0,39.5 612.5,39.6 614.0,39.8 615.5,39.9 617.0,40.1 618.5,40.3 620.0,40.4 621.5,40.6 623.0,40.6 624.5,40.7 626.0,40.7 627.5,40.7 629.0,40.6 630.5,40.4 632.0,40.3 633.5,40.1 635.0,40.0 636.5,39.7 638.0,39.4 639.5,39.1 641.0,38.8 642.5,38.6 644.0,38.5 645.5,38.6 647.0,38.6 648.5,38.7 650.0,38.8 651.5,38.8 653.0,38.8 654.5,38.9 656.0,38.9 657.5,38.9 659.0,38.9 660.5,38.9 662.0,38.8 663.5,38.8 665.0,38.8 666.5,38.7 668.0,38.6 669.5,38.5 671.0,38.4 672.5,38.3 674.0,38.1 675.5,38.0 677.0,37.9 678.5,37.7 680.0,37.6 681.5,37.6 683.0,37.5 684.5,37.5 686.0,37.4 687.5,37.4 689.0,37.3 690.5,37.3 692.0,37.2 693.5,37.1 695.0,37.1 696.5,37.0 698.0,37.0 699.5,36.9 701.0,36.9 702.5,36.9 704.0,36.9 705.5,36.9 707.0,36.9 708.5,36.9 710.0,36.9 711.5,36.8 713.0,36.8 714.5,36.8 716.0,36.8 717.5,36.8 719.0,36.8 720.5,36.8 722.0,36.8 723.5,36.8 725.0,36.8 726.5,36.8 728.0,36.7 729.5,36.7 731.0,36.7 732.5,36.7 734.0,36.7 735.5,36.7 737.0,36.7 738.5,36.7 740.0,36.7 741.5,36.7 743.0,36.7 744.5,36.7 746.0,36.6 747.5,36.6 749.0,36.6 750.5,36.6 752.0,36.6 753.5,36.6 755.0,36.5 756.5,36.5 758.0,36.5 759.5,36.5 761.0,36.5 762.5,36.4 764.0,36.4 765.5,36.4 767.0,36.4 768.5,36.4 770.0,36.3 771.5,36.3 773.0,36.3 774.5,36.3 776.0,36.3 777.5,36.3 779.0,36.2 780.5,36.2 782.0,36.2 783.5,36.2 785.0,36.2 786.5,36.2 788.0,36.2 789.5,36.1 791.0,36.1 792.5,36.1 794.0,36.1 795.5,36.1 797.0,36.1 798.5,36.1 800.0,36.1 801.5,36.0 803.0,36.0 804.5,36.0 806.0,36.0 807.5,36.0 809.0,35.9 810.5,35.9 812.0,35.9 813.5,35.9 815.0,35.8 816.5,35.8 818.0,35.8 819.5,35.8 821.0,35.7 822.5,35.7 824.0,35.7 825.5,35.7 827.0,35.6 828.5,35.6 830.0,35.6 831.5,35.6 833.0,35.5 834.5,35.5 836.0,35.5 837.5,35.4 839.0,35.4 840.5,35.4 842.0,35.4 843.5,35.3 845.0,35.3 846.5,35.2 848.0,35.2 849.5,35.1 851.0,35.0 852.5,35.0 854.0,34.9 855.5,34.8 857.0,34.7 858.5,34.6 860.0,34.5 861.5,34.4 863.0,34.3 864.5,34.1 866.0,34.0 867.5,33.9 869.0,33.8 870.5,33.6 872.0,33.5 873.5,33.4 875.0,33.2 876.5,33.1 878.0,32.9 879.5,32.8 881.0,32.6 882.5,32.5 884.0,32.4 886.0,32.4 886.0,386.0 507.0,386.0" fill="#8c1313"/>
<polygon points="506.0,42.9 507.5,42.9 509.0,42.9 510.5,42.9 512.0,42.9 513.5,42.9 515.0,42.9 516.5,42.9 518.0,42.9 519.5,42.9 521.0,42.9 522.5,42.9 524.0,42.9 525.5,42.9 527.0,42.9 528.5,42.9 530.0,42.9 531.5,42.9 533.0,42.9 534.5,42.9 536.0,42.9 537.5,42.9 539.0,42.9 540.5,42.8 542.0,42.8 543.5,42.8 545.0,42.8 546.5,42.7 548.0,42.7 549.5,42.7 551.0,42.7 552.5,42.6 554.0,42.6 555.5,42.6 557.0,42.6 558.5,42.5 560.0,42.5 561.5,42.5 563.0,42.5 564.5,42.4 566.0,42.5 567.5,42.5 569.0,42.5 570.5,42.6 572.0,42.6 573.5,42.6 575.0,42.7 576.5,42.7 578.0,42.8 579.5,42.8 581.0,42.8 582.5,42.9 584.0,42.9 585.5,43.0 587.0,43.0 588.5,43.0 590.0,42.9 591.5,42.9 593.0,42.8 594.5,42.8 596.0,42.7 597.5,42.7 599.0,42.7 600.5,42.6 602.0,42.6 603.5,42.6 605.0,42.6 606.5,42.5 608.0,42.5 609.5,42.6 611.0,42.8 612.5,43.0 614.0,43.1 615.5,43.4 617.0,43.6 618.5,43.8 620.0,44.0 621.5,44.2 623.0,44.3 624.5,44.3 626.0,44.4 627.5,44.3 629.0,44.2 630.5,44.0 632.0,43.8 633.5,43.6 635.0,43.4 636.5,43.1 638.0,42.7 639.5,42.2 641.0,41.9 642.5,41.6 644.0,41.5 645.5,41.5 647.0,41.6 648.5,41.7 650.0,41.8 651.5,41.9 653.0,41.9 654.5,41.9 656.0,41.9 657.5,42.0 659.0,41.9 660.5,41.9 662.0,41.9 663.5,41.8 665.0,41.8 666.5,41.7 668.0,41.5 669.5,41.4 671.0,41.3 672.5,41.1 674.0,40.9 675.5,40.8 677.0,40.6 678.5,40.4 680.0,40.3 681.5,40.2 683.0,40.1 684.5,40.0 686.0,40.0 687.5,39.9 689.0,39.8 690.5,39.7 692.0,39.7 693.5,39.6 695.0,39.5 696.5,39.5 698.0,39.4 699.5,39.3 701.0,39.3 702.5,39.3 704.0,39.3 705.5,39.3 707.0,39.2 708.5,39.2 710.0,39.2 711.5,39.2 713.0,39.2 714.5,39.2 716.0,39.2 717.5,39.2 719.0,39.1 720.5,39.1 722.0,39.1 723.5,39.1 725.0,39.1 726.5,39.1 728.0,39.1 729.5,39.1 731.0,39.0 732.5,39.0 734.0,39.0 735.5,39.0 737.0,39.0 738.5,39.0 740.0,39.0 741.5,39.0 743.0,38.9 744.5,38.9 746.0,38.9 747.5,38.9 749.0,38.9 750.5,38.9 752.0,38.8 753.5,38.8 755.0,38.8 756.5,38.8 758.0,38.7 759.5,38.7 761.0,38.7 762.5,38.7 764.0,38.6 765.5,38.6 767.0,38.6 768.5,38.6 770.0,38.5 771.5,38.5 773.0,38.5 774.5,38.5 776.0,38.4 777.5,38.4 779.0,38.4 780.5,38.4 782.0,38.3 783.5,38.3 785.0,38.3 786.5,38.3 788.0,38.3 789.5,38.3 791.0,38.2 792.5,38.2 794.0,38.2 795.5,38.2 797.0,38.2 798.5,38.2 800.0,38.1 801.5,38.1 803.0,38.1 804.5,38.1 806.0,38.0 807.5,38.0 809.0,38.0 810.5,37.9 812.0,37.9 813.5,37.9 815.0,37.9 816.5,37.8 818.0,37.8 819.5,37.8 821.0,37.7 822.5,37.7 824.0,37.7 825.5,37.6 827.0,37.6 828.5,37.5 830.0,37.5 831.5,37.5 833.0,37.4 834.5,37.4 836.0,37.3 837.5,37.3 839.0,37.3 840.5,37.2 842.0,37.2 843.5,37.2 845.0,37.1 846.5,37.1 848.0,37.0 849.5,36.9 851.0,36.8 852.5,36.7 854.0,36.6 855.5,36.5 857.0,36.4 858.5,36.2 860.0,36.1 861.5,35.9 863.0,35.7 864.5,35.6 866.0,35.4 867.5,35.2 869.0,35.1 870.5,34.9 872.0,34.7 873.5,34.5 875.0,34.3 876.5,34.1 878.0,33.9 879.5,33.7 881.0,33.5 882.5,33.4 884.0,33.2 886.0,33.2 886.0,386.0 507.0,386.0" fill="#961515"/>
<polygon points="506.0,46.5 507.5,46.5 509.0,46.5 510.5,46.5 512.0,46.5 513.5,46.5 515.0,46.5 516.5,46.5 518.0,46.5 519.5,46.5 521.0,46.5 522.5,46.5 524.0,46.5 525.5,46.5 527.0,46.5 528.5,46.5 530.0,46.5 531.5,46.5 533.0,46.5 534.5,46.5 536.0,46.5 537.5,46.5 539.0,46.4 540.5,46.4 542.0,46.4 543.5,46.3 545.0,46.3 546.5,46.3 548.0,46.2 549.5,46.2 551.0,46.2 552.5,46.2 554.0,46.1 555.5,46.1 557.0,46.1 558.5,46.0 560.0,46.0 561.5,46.0 563.0,45.9 564.5,45.9 566.0,45.9 567.5,46.0 569.0,46.0 570.5,46.1 572.0,46.1 573.5,46.1 575.0,46.2 576.5,46.3 578.0,46.3 579.5,46.4 581.0,46.4 582.5,46.5 584.0,46.6 585.5,46.6 587.0,46.6 588.5,46.6 590.0,46.5 591.5,46.5 593.0,46.4 594.5,46.3 596.0,46.3 597.5,46.2 599.0,46.2 600.5,46.2 602.0,46.1 603.5,46.1 605.0,46.1 606.5,46.0 608.0,46.1 609.5,46.2 611.0,46.4 612.5,46.6 614.0,46.8 615.5,47.1 617.0,47.4 618.5,47.6 620.0,47.9 621.5,48.2 623.0,48.3 624.5,48.3 626.0,48.4 627.5,48.4 629.0,48.2 630.5,47.9 632.0,47.7 633.5,47.4 635.0,47.1 636.5,46.7 638.0,46.2 639.5,45.7 641.0,45.2 642.5,44.8 644.0,44.7 645.5,44.7 647.0,44.8 648.5,45.0 650.0,45.1 651.5,45.2 653.0,45.2 654.5,45.2 656.0,45.3 657.5,45.3 659.0,45.3 660.5,45.2 662.0,45.2 663.5,45.1 665.0,45.1 666.5,44.9 668.0,44.8 669.5,44.6 671.0,44.4 672.5,44.2 674.0,44.0 675.5,43.8 677.0,43.5 678.5,43.3 680.0,43.1 681.5,43.0 683.0,42.9 684.5,42.8 686.0,42.7 687.5,42.6 689.0,42.6 690.5,42.5 692.0,42.4 693.5,42.3 695.0,42.2 696.5,42.1 698.0,42.0 699.5,41.9 701.0,41.9 702.5,41.9 704.0,41.8 705.5,41.8 707.0,41.8 708.5,41.8 710.0,41.8 711.5,41.8 713.0,41.8 714.5,41.7 716.0,41.7 717.5,41.7 719.0,41.7 720.5,41.7 722.0,41.7 723.5,41.6 725.0,41.6 726.5,41.6 728.0,41.6 729.5,41.6 731.0,41.6 732.5,41.6 734.0,41.5 735.5,41.5 737.0,41.5 738.5,41.5 740.0,41.5 741.5,41.5 743.0,41.4 744.5,41.4 746.0,41.4 747.5,41.4 749.0,41.4 750.5,41.3 752.0,41.3 753.5,41.3 755.0,41.2 756.5,41.2 758.0,41.2 759.5,41.1 761.0,41.1 762.5,41.1 764.0,41.0 765.5,41.0 767.0,41.0 768.5,40.9 770.0,40.9 771.5,40.9 773.0,40.8 774.5,40.8 776.0,40.8 777.5,40.7 779.0,40.7 780.5,40.7 782.0,40.7 783.5,40.6 785.0,40.6 786.5,40.6 788.0,40.6 789.5,40.6 791.0,40.5 792.5,40.5 794.0,40.5 795.5,40.5 797.0,40.5 798.5,40.4 800.0,40.4 801.5,40.4 803.0,40.3 804.5,40.3 806.0,40.3 807.5,40.2 809.0,40.2 810.5,40.2 812.0,40.1 813.5,40.1 815.0,40.0 816.5,40.0 818.0,40.0 819.5,39.9 821.0,39.9 822.5,39.8 824.0,39.8 825.5,39.7 827.0,39.7 828.5,39.6 830.0,39.6 831.5,39.5 833.0,39.5 834.5,39.4 836.0,39.4 837.5,39.3 839.0,39.3 840.5,39.3 842.0,39.2 843.5,39.2 845.0,39.1 846.5,39.0 848.0,38.9 849.5,38.8 851.0,38.7 852.5,38.5 854.0,38.4 855.5,38.3 857.0,38.1 858.5,38.0 860.0,37.8 861.5,37.6 863.0,37.3 864.5,37.1 866.0,36.9 867.5,36.7 869.0,36.5 870.5,36.3 872.0,36.0 873.5,35.8 875.0,35.5 876.5,35.3 878.0,35.0 879.5,34.8 881.0,34.5 882.5,34.3 884.0,34.1 886.0,34.1 886.0,386.0 507.0,386.0" fill="#9e1716"/>
<polygon points="506.0,50.3 507.5,50.3 509.0,50.3 510.5,50.3 512.0,50.3 513.5,50.3 515.0,50.3 516.5,50.3 518.0,50.3 519.5,50.3 521.0,50.3 522.5,50.3 524.0,50.3 525.5,50.3 527.0,50.3 528.5,50.3 530.0,50.3 531.5,50.3 533.0,50.3 534.5,50.3 536.0,50.3 537.5,50.3 539.0,50.2 540.5,50.2 542.0,50.1 543.5,50.1 545.0,50.1 546.5,50.0 548.0,50.0 549.5,49.9 551.0,49.9 552.5,49.9 554.0,49.8 555.5,49.8 557.0,49.8 558.5,49.7 560.0,49.7 561.5,49.6 563.0,49.6 564.5,49.6 566.0,49.6 567.5,49.6 569.0,49.7 570.5,49.8 572.0,49.8 573.5,49.9 575.0,49.9 576.5,50.0 578.0,50.1 579.5,50.1 581.0,50.2 582.5,50.3 584.0,50.4 585.5,50.4 587.0,50.4 588.5,50.4 590.0,50.3 591.5,50.3 593.0,50.2 594.5,50.1 596.0,50.0 597.5,50.0 599.0,49.9 600.5,49.9 602.0,49.8 603.5,49.8 605.0,49.8 606.5,49.7 608.0,49.7 609.5,49.9 611.0,50.1 612.5,50.4 614.0,50.7 615.5,51.0 617.0,51.4 618.5,51.7 620.0,52.1 621.5,52.3 623.0,52.5 624.5,52.6 626.0,52.6 627.5,52.6 629.0,52.4 630.5,52.1 632.0,51.8 633.5,51.4 635.0,51.0 636.5,50.6 638.0,50.0 639.5,49.3 641.0,48.7 642.5,48.2 644.0,48.1 645.5,48.1 647.0,48.3 648.5,48.5 650.0,48.6 651.5,48.6 653.0,48.7 654.5,48.8 656.0,48.8 657.5,48.8 659.0,48.8 660.5,48.7 662.0,48.7 663.5,48.6 665.0,48.5 666.5,48.4 668.0,48.2 669.5,48.0 671.0,47.8 672.5,47.5 674.0,47.2 675.5,46.9 677.0,46.7 678.5,46.4 680.0,46.2 681.5,46.0 683.0,45.9 684.5,45.8 686.0,45.7 687.5,45.6 689.0,45.4 690.5,45.3 692.0,45.2 693.5,45.1 695.0,45.0 696.5,44.9 698.0,44.8 699.5,44.7 701.0,44.6 702.5,44.6 704.0,44.6 705.5,44.6 707.0,44.5 708.5,44.5 710.0,44.5 711.5,44.5 713.0,44.5 714.5,44.4 716.0,44.4 717.5,44.4 719.0,44.4 720.5,44.4 722.0,44.3 723.5,44.3 725.0,44.3 726.5,44.3 728.0,44.3 729.5,44.3 731.0,44.2 732.5,44.2 734.0,44.2 735.5,44.2 737.0,44.2 738.5,44.1 740.0,44.1 741.5,44.1 743.0,44.1 744.5,44.1 746.0,44.0 747.5,44.0 749.0,44.0 750.5,44.0 752.0,43.9 753.5,43.9 755.0,43.8 756.5,43.8 758.0,43.7 759.5,43.7 761.0,43.7 762.5,43.6 764.0,43.6 765.5,43.5 767.0,43.5 768.5,43.5 770.0,43.4 771.5,43.4 773.0,43.3 774.5,43.3 776.0,43.3 777.5,43.2 779.0,43.2 780.5,43.1 782.0,43.1 783.5,43.1 785.0,43.1 786.5,43.0 788.0,43.0 789.5,43.0 791.0,43.0 792.5,42.9 794.0,42.9 795.5,42.9 797.0,42.9 798.5,42.8 800.0,42.8 801.5,42.8 803.0,42.7 804.5,42.7 806.0,42.6 807.5,42.6 809.0,42.5 810.5,42.5 812.0,42.4 813.5,42.4 815.0,42.4 816.5,42.3 818.0,42.3 819.5,42.2 821.0,42.2 822.5,42.1 824.0,42.0 825.5,42.0 827.0,41.9 828.5,41.9 830.0,41.8 831.5,41.7 833.0,41.7 834.5,41.6 836.0,41.6 837.5,41.5 839.0,41.4 840.5,41.4 842.0,41.3 843.5,41.3 845.0,41.2 846.5,41.1 848.0,41.0 849.5,40.8 851.0,40.6 852.5,40.5 854.0,40.3 855.5,40.2 857.0,40.0 858.5,39.8 860.0,39.6 861.5,39.3 863.0,39.0 864.5,38.8 866.0,38.5 867.5,38.2 869.0,38.0 870.5,37.7 872.0,37.4 873.5,37.1 875.0,36.8 876.5,36.5 878.0,36.2 879.5,35.9 881.0,35.6 882.5,35.3 884.0,35.0 886.0,35.0 886.0,386.0 507.0,386.0" fill="#a61c16"/>
<polygon points="506.0,54.5 507.5,54.5 509.0,54.5 510.5,54.5 512.0,54.5 513.5,54.5 515.0,54.5 516.5,54.5 518.0,54.5 519.5,54.5 521.0,54.5 522.5,54.5 524.0,54.5 525.5,54.5 527.0,54.5 528.5,54.5 530.0,54.5 531.5,54.5 533.0,54.5 534.5,54.5 536.0,54.5 537.5,54.5 539.0,54.4 540.5,54.4 542.0,54.3 543.5,54.3 545.0,54.2 546.5,54.2 548.0,54.1 549.5,54.1 551.0,54.0 552.5,54.0 554.0,53.9 555.5,53.9 557.0,53.8 558.5,53.8 560.0,53.7 561.5,53.7 563.0,53.7 564.5,53.6 566.0,53.6 567.5,53.7 569.0,53.8 570.5,53.8 572.0,53.9 573.5,54.0 575.0,54.1 576.5,54.1 578.0,54.2 579.5,54.3 581.0,54.4 582.5,54.5 584.0,54.6 585.5,54.7 587.0,54.7 588.5,54.6 590.0,54.5 591.5,54.4 593.0,54.4 594.5,54.3 596.0,54.2 597.5,54.1 599.0,54.0 600.5,54.0 602.0,53.9 603.5,53.9 605.0,53.9 606.5,53.8 608.0,53.8 609.5,54.0 611.0,54.3 612.5,54.6 614.0,55.0 615.5,55.4 617.0,55.8 618.5,56.2 620.0,56.6 621.5,57.0 623.0,57.1 624.5,57.2 626.0,57.3 627.5,57.3 629.0,57.0 630.5,56.6 632.0,56.3 633.5,55.9 635.0,55.4 636.5,54.8 638.0,54.1 639.5,53.3 641.0,52.5 642.5,52.0 644.0,51.8 645.5,51.9 647.0,52.0 648.5,52.3 650.0,52.4 651.5,52.5 653.0,52.6 654.5,52.6 656.0,52.7 657.5,52.7 659.0,52.7 660.5,52.6 662.0,52.5 663.5,52.5 665.0,52.4 666.5,52.2 668.0,51.9 669.5,51.7 671.0,51.4 672.5,51.1 674.0,50.8 675.5,50.4 677.0,50.1 678.5,49.8 680.0,49.5 681.5,49.3 683.0,49.2 684.5,49.0 686.0,48.9 687.5,48.8 689.0,48.6 690.5,48.5 692.0,48.4 693.5,48.2 695.0,48.1 696.5,48.0 698.0,47.8 699.5,47.7 701.0,47.6 702.5,47.6 704.0,47.6 705.5,47.6 707.0,47.5 708.5,47.5 710.0,47.5 711.5,47.5 713.0,47.5 714.5,47.4 716.0,47.4 717.5,47.4 719.0,47.4 720.5,47.3 722.0,47.3 723.5,47.3 725.0,47.3 726.5,47.2 728.0,47.2 729.5,47.2 731.0,47.2 732.5,47.2 734.0,47.1 735.5,47.1 737.0,47.1 738.5,47.1 740.0,47.0 741.5,47.0 743.0,47.0 744.5,47.0 746.0,46.9 747.5,46.9 749.0,46.9 750.5,46.8 752.0,46.8 753.5,46.7 755.0,46.7 756.5,46.6 758.0,46.6 759.5,46.5 761.0,46.5 762.5,46.4 764.0,46.4 765.5,46.3 767.0,46.3 768.5,46.2 770.0,46.2 771.5,46.1 773.0,46.1 774.5,46.1 776.0,46.0 777.5,46.0 779.0,45.9 780.5,45.9 782.0,45.8 783.5,45.8 785.0,45.8 786.5,45.7 788.0,45.7 789.5,45.7 791.0,45.7 792.5,45.6 794.0,45.6 795.5,45.6 797.0,45.5 798.5,45.5 800.0,45.5 801.5,45.4 803.0,45.4 804.5,45.3 806.0,45.2 807.5,45.2 809.0,45.1 810.5,45.1 812.0,45.0 813.5,45.0 815.0,44.9 816.5,44.9 818.0,44.8 819.5,44.7 821.0,44.7 822.5,44.6 824.0,44.5 825.5,44.5 827.0,44.4 828.5,44.3 830.0,44.2 831.5,44.2 833.0,44.1 834.5,44.0 836.0,44.0 837.5,43.9 839.0,43.8 840.5,43.7 842.0,43.7 843.5,43.6 845.0,43.5 846.5,43.4 848.0,43.2 849.5,43.0 851.0,42.9 852.5,42.7 854.0,42.5 855.5,42.3 857.0,42.1 858.5,41.8 860.0,41.5 861.5,41.2 863.0,40.9 864.5,40.6 866.0,40.3 867.5,39.9 869.0,39.6 870.5,39.3 872.0,39.0 873.5,38.6 875.0,38.2 876.5,37.9 878.0,37.5 879.5,37.1 881.0,36.7 882.5,36.4 884.0,36.1 886.0,36.1 886.0,386.0 507.0,386.0" fill="#cc5e16"/>
<polygon points="506.0,59.7 507.5,59.7 509.0,59.7 510.5,59.7 512.0,59.7 513.5,59.7 515.0,59.7 516.5,59.7 518.0,59.7 519.5,59.7 521.0,59.7 522.5,59.7 524.0,59.7 525.5,59.7 527.0,59.7 528.5,59.7 530.0,59.7 531.5,59.7 533.0,59.7 534.5,59.7 536.0,59.7 537.5,59.6 539.0,59.6 540.5,59.5 542.0,59.5 543.5,59.4 545.0,59.4 546.5,59.3 548.0,59.2 549.5,59.2 551.0,59.1 552.5,59.1 554.0,59.0 555.5,59.0 557.0,58.9 558.5,58.8 560.0,58.8 561.5,58.7 563.0,58.7 564.5,58.6 566.0,58.7 567.5,58.7 569.0,58.8 570.5,58.9 572.0,59.0 573.5,59.1 575.0,59.2 576.5,59.3 578.0,59.4 579.5,59.5 581.0,59.6 582.5,59.7 584.0,59.8 585.5,59.9 587.0,59.9 588.5,59.8 590.0,59.7 591.5,59.6 593.0,59.5 594.5,59.4 596.0,59.3 597.5,59.2 599.0,59.1 600.5,59.1 602.0,59.0 603.5,59.0 605.0,58.9 606.5,58.9 608.0,58.9 609.5,59.1 611.0,59.4 612.5,59.8 614.0,60.3 615.5,60.7 617.0,61.2 618.5,61.8 620.0,62.3 621.5,62.7 623.0,62.9 624.5,63.0 626.0,63.1 627.5,63.0 629.0,62.7 630.5,62.3 632.0,61.9 633.5,61.4 635.0,60.8 636.5,60.1 638.0,59.2 639.5,58.2 641.0,57.3 642.5,56.7 644.0,56.4 645.5,56.5 647.0,56.7 648.5,57.0 650.0,57.2 651.5,57.3 653.0,57.4 654.5,57.4 656.0,57.5 657.5,57.5 659.0,57.5 660.5,57.4 662.0,57.3 663.5,57.2 665.0,57.1 666.5,56.9 668.0,56.6 669.5,56.3 671.0,56.0 672.5,55.7 674.0,55.4 675.5,55.1 677.0,54.8 678.5,54.5 680.0,54.3 681.5,54.2 683.0,54.2 684.5,54.2 686.0,54.1 687.5,54.1 689.0,54.1 690.5,54.0 692.0,54.0 693.5,54.0 695.0,54.0 696.5,53.9 698.0,53.9 699.5,53.8 701.0,53.8 702.5,53.8 704.0,53.7 705.5,53.7 707.0,53.7 708.5,53.7 710.0,53.6 711.5,53.6 713.0,53.6 714.5,53.5 716.0,53.5 717.5,53.5 719.0,53.4 720.5,53.4 722.0,53.4 723.5,53.3 725.0,53.3 726.5,53.3 728.0,53.3 729.5,53.2 731.0,53.2 732.5,53.2 734.0,53.1 735.5,53.1 737.0,53.1 738.5,53.0 740.0,53.0 741.5,53.0 743.0,52.9 744.5,52.9 746.0,52.9 747.5,52.8 749.0,52.8 750.5,52.7 752.0,52.7 753.5,52.6 755.0,52.5 756.5,52.5 758.0,52.4 759.5,52.3 761.0,52.3 762.5,52.2 764.0,52.1 765.5,52.1 767.0,52.0 768.5,51.9 770.0,51.9 771.5,51.8 773.0,51.7 774.5,51.7 776.0,51.6 777.5,51.5 779.0,51.5 780.5,51.4 782.0,51.4 783.5,51.3 785.0,51.3 786.5,51.3 788.0,51.2 789.5,51.2 791.0,51.1 792.5,51.1 794.0,51.0 795.5,51.0 797.0,51.0 798.5,50.9 800.0,50.9 801.5,50.8 803.0,50.7 804.5,50.7 806.0,50.6 807.5,50.5 809.0,50.4 810.5,50.4 812.0,50.3 813.5,50.2 815.0,50.1 816.5,50.1 818.0,50.0 819.5,49.9 821.0,49.8 822.5,49.7 824.0,49.6 825.5,49.5 827.0,49.4 828.5,49.3 830.0,49.2 831.5,49.1 833.0,49.0 834.5,48.9 836.0,48.8 837.5,48.7 839.0,48.6 840.5,48.5 842.0,48.5 843.5,48.4 845.0,48.2 846.5,48.1 848.0,47.9 849.5,47.6 851.0,47.3 852.5,47.1 854.0,46.8 855.5,46.6 857.0,46.3 858.5,46.0 860.0,45.6 861.5,45.2 863.0,44.7 864.5,44.3 866.0,43.9 867.5,43.4 869.0,43.0 870.5,42.6 872.0,42.1 873.5,41.6 875.0,41.1 876.5,40.6 878.0,40.1 879.5,39.6 881.0,39.1 882.5,38.6 884.0,38.2 886.0,38.2 886.0,386.0 507.0,386.0" fill="#eeb020"/>
<polygon points="506.0,65.2 507.5,65.2 509.0,65.2 510.5,65.2 512.0,65.2 513.5,65.2 515.0,65.2 516.5,65.2 518.0,65.2 519.5,65.2 521.0,65.2 522.5,65.2 524.0,65.2 525.5,65.2 527.0,65.2 528.5,65.2 530.0,65.2 531.5,65.2 533.0,65.2 534.5,65.2 536.0,65.2 537.5,65.1 539.0,65.1 540.5,65.0 542.0,64.9 543.5,64.9 545.0,64.8 546.5,64.7 548.0,64.7 549.5,64.6 551.0,64.5 552.5,64.5 554.0,64.4 555.5,64.3 557.0,64.3 558.5,64.2 560.0,64.1 561.5,64.1 563.0,64.0 564.5,63.9 566.0,64.0 567.5,64.1 569.0,64.2 570.5,64.3 572.0,64.4 573.5,64.5 575.0,64.6 576.5,64.7 578.0,64.8 579.5,64.9 581.0,65.1 582.5,65.2 584.0,65.3 585.5,65.4 587.0,65.4 588.5,65.4 590.0,65.2 591.5,65.1 593.0,65.0 594.5,64.9 596.0,64.7 597.5,64.6 599.0,64.5 600.5,64.5 602.0,64.4 603.5,64.3 605.0,64.3 606.5,64.2 608.0,64.2 609.5,64.5 611.0,64.9 612.5,65.4 614.0,65.9 615.5,66.4 617.0,67.0 618.5,67.6 620.0,68.3 621.5,68.7 623.0,69.0 624.5,69.1 626.0,69.2 627.5,69.2 629.0,68.8 630.5,68.3 632.0,67.8 633.5,67.2 635.0,66.5 636.5,65.7 638.0,64.6 639.5,63.4 641.0,62.4 642.5,61.6 644.0,61.3 645.5,61.4 647.0,61.7 648.5,62.0 650.0,62.2 651.5,62.3 653.0,62.4 654.5,62.5 656.0,62.6 657.5,62.6 659.0,62.6 660.5,62.5 662.0,62.4 663.5,62.3 665.0,62.1 666.5,61.8 668.0,61.5 669.5,61.1 671.0,60.8 672.5,60.4 674.0,60.1 675.5,59.7 677.0,59.4 678.5,59.1 680.0,58.8 681.5,58.7 683.0,58.7 684.5,58.6 686.0,58.6 687.5,58.6 689.0,58.5 690.5,58.5 692.0,58.5 693.5,58.4 695.0,58.4 696.5,58.4 698.0,58.3 699.5,58.3 701.0,58.2 702.5,58.2 704.0,58.1 705.5,58.1 707.0,58.1 708.5,58.0 710.0,58.0 711.5,58.0 713.0,57.9 714.5,57.9 716.0,57.9 717.5,57.8 719.0,57.8 720.5,57.7 722.0,57.7 723.5,57.7 725.0,57.6 726.5,57.6 728.0,57.6 729.5,57.5 731.0,57.5 732.5,57.4 734.0,57.4 735.5,57.4 737.0,57.3 738.5,57.3 740.0,57.3 741.5,57.2 743.0,57.2 744.5,57.2 746.0,57.1 747.5,57.1 749.0,57.0 750.5,56.9 752.0,56.9 753.5,56.8 755.0,56.7 756.5,56.6 758.0,56.5 759.5,56.5 761.0,56.4 762.5,56.3 764.0,56.2 765.5,56.2 767.0,56.1 768.5,56.0 770.0,55.9 771.5,55.8 773.0,55.8 774.5,55.7 776.0,55.6 777.5,55.5 779.0,55.4 780.5,55.4 782.0,55.3 783.5,55.3 785.0,55.2 786.5,55.2 788.0,55.1 789.5,55.1 791.0,55.0 792.5,55.0 794.0,54.9 795.5,54.9 797.0,54.8 798.5,54.8 800.0,54.7 801.5,54.7 803.0,54.6 804.5,54.5 806.0,54.4 807.5,54.3 809.0,54.2 810.5,54.1 812.0,54.0 813.5,53.9 815.0,53.9 816.5,53.8 818.0,53.7 819.5,53.6 821.0,53.5 822.5,53.4 824.0,53.2 825.5,53.1 827.0,53.0 828.5,52.9 830.0,52.8 831.5,52.7 833.0,52.6 834.5,52.4 836.0,52.3 837.5,52.2 839.0,52.1 840.5,52.0 842.0,51.9 843.5,51.8 845.0,51.6 846.5,51.4 848.0,51.2 849.5,50.9 851.0,50.6 852.5,50.3 854.0,50.0 855.5,49.7 857.0,49.3 858.5,49.0 860.0,48.5 861.5,48.0 863.0,47.5 864.5,46.9 866.0,46.4 867.5,45.9 869.0,45.4 870.5,44.9 872.0,44.4 873.5,43.8 875.0,43.2 876.5,42.6 878.0,42.0 879.5,41.4 881.0,40.8 882.5,40.2 884.0,39.7 886.0,39.7 886.0,386.0 507.0,386.0" fill="#f0de24"/>
<polygon points="506.0,69.0 507.5,69.0 509.0,69.0 510.5,69.0 512.0,69.0 513.5,69.0 515.0,69.0 516.5,69.0 518.0,69.0 519.5,69.0 521.0,69.0 522.5,69.0 524.0,69.0 525.5,69.0 527.0,69.0 528.5,69.0 530.0,69.0 531.5,69.0 533.0,69.0 534.5,69.0 536.0,69.0 537.5,68.9 539.0,68.9 540.5,68.8 542.0,68.7 543.5,68.6 545.0,68.6 546.5,68.5 548.0,68.4 549.5,68.3 551.0,68.3 552.5,68.2 554.0,68.1 555.5,68.0 557.0,68.0 558.5,67.9 560.0,67.8 561.5,67.7 563.0,67.7 564.5,67.6 566.0,67.6 567.5,67.7 569.0,67.8 570.5,68.0 572.0,68.1 573.5,68.2 575.0,68.3 576.5,68.4 578.0,68.6 579.5,68.7 581.0,68.8 582.5,69.0 584.0,69.1 585.5,69.2 587.0,69.3 588.5,69.2 590.0,69.0 591.5,68.9 593.0,68.8 594.5,68.6 596.0,68.5 597.5,68.4 599.0,68.3 600.5,68.2 602.0,68.1 603.5,68.1 605.0,68.0 606.5,67.9 608.0,67.9 609.5,68.2 611.0,68.6 612.5,69.2 614.0,69.7 615.5,70.4 617.0,71.0 618.5,71.7 620.0,72.4 621.5,72.9 623.0,73.2 624.5,73.3 626.0,73.5 627.5,73.4 629.0,73.0 630.5,72.4 632.0,71.8 633.5,71.2 635.0,70.4 636.5,69.5 638.0,68.3 639.5,67.0 641.0,65.9 642.5,65.1 644.0,64.7 645.5,64.8 647.0,65.1 648.5,65.5 650.0,65.7 651.5,65.8 653.0,65.9 654.5,66.0 656.0,66.1 657.5,66.1 659.0,66.1 660.5,66.0 662.0,65.9 663.5,65.8 665.0,65.6 666.5,65.3 668.0,64.9 669.5,64.5 671.0,64.1 672.5,63.7 674.0,63.3 675.5,63.0 677.0,62.6 678.5,62.2 680.0,61.9 681.5,61.8 683.0,61.8 684.5,61.7 686.0,61.7 687.5,61.7 689.0,61.6 690.5,61.6 692.0,61.5 693.5,61.5 695.0,61.5 696.5,61.4 698.0,61.4 699.5,61.3 701.0,61.3 702.5,61.2 704.0,61.2 705.5,61.1 707.0,61.1 708.5,61.1 710.0,61.0 711.5,61.0 713.0,60.9 714.5,60.9 716.0,60.9 717.5,60.8 719.0,60.8 720.5,60.7 722.0,60.7 723.5,60.7 725.0,60.6 726.5,60.6 728.0,60.5 729.5,60.5 731.0,60.5 732.5,60.4 734.0,60.4 735.5,60.3 737.0,60.3 738.5,60.2 740.0,60.2 741.5,60.2 743.0,60.1 744.5,60.1 746.0,60.0 747.5,60.0 749.0,59.9 750.5,59.8 752.0,59.8 753.5,59.7 755.0,59.6 756.5,59.5 758.0,59.4 759.5,59.3 761.0,59.2 762.5,59.2 764.0,59.1 765.5,59.0 767.0,58.9 768.5,58.8 770.0,58.7 771.5,58.6 773.0,58.5 774.5,58.5 776.0,58.4 777.5,58.3 779.0,58.2 780.5,58.1 782.0,58.1 783.5,58.0 785.0,58.0 786.5,57.9 788.0,57.9 789.5,57.8 791.0,57.7 792.5,57.7 794.0,57.6 795.5,57.6 797.0,57.5 798.5,57.5 800.0,57.4 801.5,57.3 803.0,57.2 804.5,57.1 806.0,57.0 807.5,56.9 809.0,56.8 810.5,56.7 812.0,56.6 813.5,56.5 815.0,56.4 816.5,56.3 818.0,56.2 819.5,56.1 821.0,56.0 822.5,55.9 824.0,55.8 825.5,55.6 827.0,55.5 828.5,55.4 830.0,55.2 831.5,55.1 833.0,55.0 834.5,54.9 836.0,54.7 837.5,54.6 839.0,54.5 840.5,54.4 842.0,54.2 843.5,54.1 845.0,54.0 846.5,53.7 848.0,53.4 849.5,53.1 851.0,52.8 852.5,52.4 854.0,52.1 855.5,51.8 857.0,51.4 858.5,51.0 860.0,50.5 861.5,49.9 863.0,49.3 864.5,48.8 866.0,48.2 867.5,47.6 869.0,47.1 870.5,46.5 872.0,45.9 873.5,45.3 875.0,44.6 876.5,43.9 878.0,43.3 879.5,42.6 881.0,41.9 882.5,41.3 884.0,40.8 886.0,40.8 886.0,386.0 507.0,386.0" fill="#84f084"/>
<polygon points="506.0,73.2 507.5,73.2 509.0,73.2 510.5,73.2 512.0,73.2 513.5,73.2 515.0,73.2 516.5,73.2 518.0,73.2 519.5,73.2 521.0,73.2 522.5,73.2 524.0,73.2 525.5,73.2 527.0,73.2 528.5,73.2 530.0,73.2 531.5,73.2 533.0,73.2 534.5,73.2 536.0,73.2 537.5,73.1 539.0,73.0 540.5,73.0 542.0,72.9 543.5,72.8 545.0,72.7 546.5,72.6 548.0,72.5 549.5,72.5 551.0,72.4 552.5,72.3 554.0,72.2 555.5,72.1 557.0,72.0 558.5,72.0 560.0,71.9 561.5,71.8 563.0,71.7 564.5,71.7 566.0,71.7 567.5,71.8 569.0,71.9 570.5,72.0 572.0,72.2 573.5,72.3 575.0,72.4 576.5,72.6 578.0,72.7 579.5,72.9 581.0,73.0 582.5,73.2 584.0,73.3 585.5,73.5 587.0,73.5 588.5,73.4 590.0,73.3 591.5,73.1 593.0,72.9 594.5,72.8 596.0,72.6 597.5,72.5 599.0,72.4 600.5,72.3 602.0,72.2 603.5,72.2 605.0,72.1 606.5,72.0 608.0,72.0 609.5,72.3 611.0,72.8 612.5,73.4 614.0,74.0 615.5,74.7 617.0,75.5 618.5,76.2 620.0,77.0 621.5,77.6 623.0,77.9 624.5,78.0 626.0,78.1 627.5,78.0 629.0,77.6 630.5,77.0 632.0,76.3 633.5,75.6 635.0,74.8 636.5,73.8 638.0,72.5 639.5,71.0 641.0,69.7 642.5,68.8 644.0,68.5 645.5,68.5 647.0,68.9 648.5,69.3 650.0,69.5 651.5,69.7 653.0,69.8 654.5,69.9 656.0,70.0 657.5,70.0 659.0,69.9 660.5,69.8 662.0,69.7 663.5,69.6 665.0,69.4 666.5,69.1 668.0,68.6 669.5,68.2 671.0,67.8 672.5,67.4 674.0,67.0 675.5,66.6 677.0,66.2 678.5,65.9 680.0,65.6 681.5,65.5 683.0,65.5 684.5,65.5 686.0,65.5 687.5,65.5 689.0,65.5 690.5,65.4 692.0,65.4 693.5,65.4 695.0,65.4 696.5,65.4 698.0,65.4 699.5,65.4 701.0,65.3 702.5,65.3 704.0,65.2 705.5,65.2 707.0,65.2 708.5,65.1 710.0,65.1 711.5,65.0 713.0,65.0 714.5,64.9 716.0,64.9 717.5,64.8 719.0,64.8 720.5,64.7 722.0,64.7 723.5,64.7 725.0,64.6 726.5,64.6 728.0,64.5 729.5,64.5 731.0,64.4 732.5,64.4 734.0,64.3 735.5,64.3 737.0,64.2 738.5,64.2 740.0,64.1 741.5,64.1 743.0,64.1 744.5,64.0 746.0,64.0 747.5,63.9 749.0,63.8 750.5,63.7 752.0,63.6 753.5,63.5 755.0,63.4 756.5,63.3 758.0,63.2 759.5,63.1 761.0,63.0 762.5,62.9 764.0,62.9 765.5,62.8 767.0,62.7 768.5,62.6 770.0,62.5 771.5,62.4 773.0,62.3 774.5,62.2 776.0,62.1 777.5,62.0 779.0,61.9 780.5,61.8 782.0,61.7 783.5,61.7 785.0,61.6 786.5,61.5 788.0,61.5 789.5,61.4 791.0,61.4 792.5,61.3 794.0,61.2 795.5,61.2 797.0,61.1 798.5,61.1 800.0,61.0 801.5,60.9 803.0,60.8 804.5,60.7 806.0,60.5 807.5,60.4 809.0,60.3 810.5,60.2 812.0,60.1 813.5,60.0 815.0,59.9 816.5,59.8 818.0,59.6 819.5,59.5 821.0,59.4 822.5,59.3 824.0,59.1 825.5,59.0 827.0,58.8 828.5,58.7 830.0,58.5 831.5,58.4 833.0,58.2 834.5,58.1 836.0,58.0 837.5,57.8 839.0,57.7 840.5,57.5 842.0,57.4 843.5,57.2 845.0,57.1 846.5,56.8 848.0,56.5 849.5,56.1 851.0,55.8 852.5,55.4 854.0,55.0 855.5,54.6 857.0,54.2 858.5,53.7 860.0,53.1 861.5,52.5 863.0,51.9 864.5,51.2 866.0,50.6 867.5,49.9 869.0,49.3 870.5,48.6 872.0,48.0 873.5,47.2 875.0,46.5 876.5,45.8 878.0,45.0 879.5,44.2 881.0,43.5 882.5,42.8 884.0,42.2 886.0,42.2 886.0,386.0 507.0,386.0" fill="#48ecf8"/>
<polygon points="506.0,78.0 507.5,78.0 509.0,78.0 510.5,77.9 512.0,77.9 513.5,77.9 515.0,77.9 516.5,77.8 518.0,77.8 519.5,77.8 521.0,77.8 522.5,77.7 524.0,77.7 525.5,77.7 527.0,77.7 528.5,77.6 530.0,77.6 531.5,77.6 533.0,77.6 534.5,77.5 536.0,77.5 537.5,77.5 539.0,77.4 540.5,77.4 542.0,77.4 543.5,77.4 545.0,77.3 546.5,77.3 548.0,77.3 549.5,77.3 551.0,77.2 552.5,77.2 554.0,77.2 555.5,77.2 557.0,77.1 558.5,77.1 560.0,77.1 561.5,77.1 563.0,77.0 564.5,77.0 566.0,77.1 567.5,77.2 569.0,77.3 570.5,77.4 572.0,77.5 573.5,77.6 575.0,77.7 576.5,77.8 578.0,77.9 579.5,78.0 581.0,78.1 582.5,78.2 584.0,78.4 585.5,78.5 587.0,78.6 588.5,78.7 590.0,78.7 591.5,78.6 593.0,78.3 594.5,78.1 596.0,77.9 597.5,77.6 599.0,77.4 600.5,77.2 602.0,76.9 603.5,76.7 605.0,76.5 606.5,76.2 608.0,76.2 609.5,76.5 611.0,77.3 612.5,78.2 614.0,79.1 615.5,80.2 617.0,81.3 618.5,82.4 620.0,83.6 621.5,84.5 623.0,85.1 624.5,85.4 626.0,85.5 627.5,85.2 629.0,84.6 630.5,84.0 632.0,83.3 633.5,82.3 635.0,80.8 636.5,79.1 638.0,77.7 639.5,76.4 641.0,74.8 642.5,73.4 644.0,73.0 645.5,73.4 647.0,74.0 648.5,74.5 650.0,74.9 651.5,75.1 653.0,75.3 654.5,75.6 656.0,75.7 657.5,75.8 659.0,75.6 660.5,75.4 662.0,75.2 663.5,75.0 665.0,74.7 666.5,74.3 668.0,73.7 669.5,73.2 671.0,72.6 672.5,72.1 674.0,71.6 675.5,71.2 677.0,70.8 678.5,70.4 680.0,70.1 681.5,70.0 683.0,70.0 684.5,70.0 686.0,70.0 687.5,70.0 689.0,70.0 690.5,70.0 692.0,70.0 693.5,70.0 695.0,70.0 696.5,70.0 698.0,69.9 699.5,69.9 701.0,69.9 702.5,69.9 704.0,69.9 705.5,69.9 707.0,69.9 708.5,69.9 710.0,69.9 711.5,69.9 713.0,69.9 714.5,69.9 716.0,69.9 717.5,69.8 719.0,69.7 720.5,69.7 722.0,69.6 723.5,69.6 725.0,69.5 726.5,69.4 728.0,69.4 729.5,69.3 731.0,69.3 732.5,69.2 734.0,69.2 735.5,69.1 737.0,69.0 738.5,69.0 740.0,68.9 741.5,68.9 743.0,68.8 744.5,68.7 746.0,68.7 747.5,68.6 749.0,68.5 750.5,68.3 752.0,68.2 753.5,68.0 755.0,67.9 756.5,67.7 758.0,67.5 759.5,67.4 761.0,67.2 762.5,67.1 764.0,66.9 765.5,66.7 767.0,66.6 768.5,66.4 770.0,66.3 771.5,66.1 773.0,65.9 774.5,65.8 776.0,65.6 777.5,65.5 779.0,65.3 780.5,65.2 782.0,65.0 783.5,64.9 785.0,64.8 786.5,64.6 788.0,64.5 789.5,64.4 791.0,64.3 792.5,64.1 794.0,64.0 795.5,63.9 797.0,63.8 798.5,63.6 800.0,63.5 801.5,63.4 803.0,63.3 804.5,63.2 806.0,63.0 807.5,62.9 809.0,62.8 810.5,62.7 812.0,62.6 813.5,62.5 815.0,62.4 816.5,62.3 818.0,62.1 819.5,62.0 821.0,61.9 822.5,61.8 824.0,61.7 825.5,61.6 827.0,61.5 828.5,61.3 830.0,61.2 831.5,61.1 833.0,61.0 834.5,60.9 836.0,60.8 837.5,60.7 839.0,60.5 840.5,60.4 842.0,60.3 843.5,60.2 845.0,60.1 846.5,59.9 848.0,59.7 849.5,59.5 851.0,59.3 852.5,59.1 854.0,58.9 855.5,58.6 857.0,58.4 858.5,58.2 860.0,57.9 861.5,57.3 863.0,56.6 864.5,55.9 866.0,55.2 867.5,54.6 869.0,53.9 870.5,53.2 872.0,52.5 873.5,51.8 875.0,51.1 876.5,50.4 878.0,49.8 879.5,49.1 881.0,48.4 882.5,47.7 884.0,47.2 886.0,47.2 886.0,386.0 507.0,386.0" fill="#40a8f4"/>
<polygon points="506.0,85.3 507.5,85.4 509.0,85.6 510.5,85.8 512.0,86.0 513.5,86.2 515.0,86.3 516.5,86.4 518.0,86.4 519.5,86.4 521.0,86.3 522.5,86.3 524.0,86.2 525.5,86.2 527.0,86.1 528.5,86.1 530.0,86.0 531.5,86.0 533.0,85.9 534.5,85.9 536.0,85.8 537.5,85.8 539.0,85.7 540.5,85.7 542.0,85.6 543.5,85.6 545.0,85.5 546.5,85.5 548.0,85.4 549.5,85.4 551.0,85.3 552.5,85.3 554.0,85.2 555.5,85.2 557.0,85.1 558.5,85.1 560.0,85.1 561.5,85.2 563.0,85.2 564.5,85.3 566.0,85.3 567.5,85.3 569.0,85.4 570.5,85.4 572.0,85.4 573.5,85.5 575.0,85.5 576.5,85.6 578.0,85.8 579.5,85.9 581.0,86.0 582.5,86.1 584.0,86.3 585.5,86.4 587.0,86.5 588.5,86.7 590.0,86.8 591.5,86.9 593.0,86.8 594.5,86.5 596.0,86.2 597.5,85.9 599.0,85.6 600.5,85.3 602.0,84.9 603.5,84.6 605.0,84.3 606.5,84.0 608.0,83.9 609.5,84.7 611.0,86.3 612.5,88.1 614.0,89.7 615.5,90.9 617.0,92.0 618.5,92.8 620.0,93.4 621.5,93.8 623.0,94.1 624.5,94.1 626.0,93.6 627.5,93.1 629.0,92.4 630.5,91.5 632.0,90.5 633.5,89.3 635.0,88.2 636.5,86.9 638.0,85.3 639.5,83.6 641.0,82.0 642.5,80.6 644.0,80.1 645.5,80.5 647.0,81.3 648.5,82.0 650.0,82.5 651.5,82.9 653.0,83.2 654.5,83.5 656.0,83.8 657.5,83.9 659.0,83.6 660.5,83.3 662.0,83.0 663.5,82.6 665.0,82.2 666.5,81.5 668.0,80.8 669.5,80.0 671.0,79.3 672.5,78.6 674.0,78.1 675.5,77.7 677.0,77.3 678.5,76.9 680.0,76.6 681.5,76.5 683.0,76.5 684.5,76.4 686.0,76.4 687.5,76.4 689.0,76.4 690.5,76.3 692.0,76.3 693.5,76.3 695.0,76.2 696.5,76.2 698.0,76.1 699.5,76.0 701.0,76.0 702.5,75.9 704.0,75.8 705.5,75.8 707.0,75.7 708.5,75.6 710.0,75.6 711.5,75.5 713.0,75.4 714.5,75.4 716.0,75.3 717.5,75.2 719.0,75.1 720.5,75.1 722.0,75.0 723.5,74.9 725.0,74.9 726.5,74.8 728.0,74.7 729.5,74.7 731.0,74.6 732.5,74.5 734.0,74.4 735.5,74.4 737.0,74.3 738.5,74.2 740.0,74.2 741.5,74.1 743.0,74.0 744.5,74.0 746.0,73.9 747.5,73.9 749.0,73.9 750.5,74.1 752.0,74.3 753.5,74.5 755.0,74.7 756.5,74.9 758.0,75.0 759.5,75.2 761.0,75.4 762.5,75.6 764.0,75.6 765.5,75.2 767.0,74.5 768.5,73.9 770.0,73.2 771.5,72.6 773.0,72.0 774.5,71.3 776.0,70.7 777.5,70.1 779.0,69.5 780.5,69.0 782.0,68.7 783.5,68.4 785.0,68.1 786.5,67.9 788.0,67.6 789.5,67.3 791.0,67.1 792.5,66.8 794.0,66.5 795.5,66.3 797.0,66.0 798.5,65.8 800.0,65.5 801.5,65.4 803.0,65.3 804.5,65.2 806.0,65.0 807.5,64.9 809.0,64.8 810.5,64.7 812.0,64.6 813.5,64.5 815.0,64.4 816.5,64.3 818.0,64.2 819.5,64.0 821.0,63.9 822.5,63.9 824.0,63.8 825.5,63.7 827.0,63.6 828.5,63.5 830.0,63.4 831.5,63.3 833.0,63.2 834.5,63.2 836.0,63.1 837.5,63.0 839.0,62.9 840.5,62.8 842.0,62.7 843.5,62.6 845.0,62.6 846.5,62.5 848.0,62.4 849.5,62.4 851.0,62.3 852.5,62.3 854.0,62.2 855.5,62.2 857.0,62.1 858.5,62.1 860.0,61.9 861.5,61.4 863.0,60.8 864.5,60.1 866.0,59.5 867.5,58.9 869.0,58.2 870.5,57.6 872.0,57.0 873.5,56.4 875.0,55.8 876.5,55.1 878.0,54.5 879.5,53.9 881.0,53.2 882.5,52.6 884.0,52.2 886.0,52.2 886.0,386.0 507.0,386.0" fill="#3090f0"/>
<polygon points="506.0,99.8 507.5,99.9 509.0,100.0 510.5,100.2 512.0,100.3 513.5,100.4 515.0,100.6 516.5,100.8 518.0,100.9 519.5,101.0 521.0,101.2 522.5,101.3 524.0,101.3 525.5,101.2 527.0,101.1 528.5,101.0 530.0,100.8 531.5,100.7 533.0,100.6 534.5,100.5 536.0,100.4 537.5,100.2 539.0,100.1 540.5,100.0 542.0,99.9 543.5,99.8 545.0,99.6 546.5,99.5 548.0,99.4 549.5,99.3 551.0,99.2 552.5,99.0 554.0,98.9 555.5,98.8 557.0,98.7 558.5,98.6 560.0,98.7 561.5,98.7 563.0,98.8 564.5,98.8 566.0,98.9 567.5,98.9 569.0,99.0 570.5,99.0 572.0,99.1 573.5,99.1 575.0,99.2 576.5,99.3 578.0,99.3 579.5,99.4 581.0,99.4 582.5,99.5 584.0,99.5 585.5,99.6 587.0,99.6 588.5,99.7 590.0,99.7 591.5,99.7 593.0,99.6 594.5,99.3 596.0,98.9 597.5,98.5 599.0,98.1 600.5,97.8 602.0,97.4 603.5,97.0 605.0,96.6 606.5,96.3 608.0,96.2 609.5,97.3 611.0,99.4 612.5,101.8 614.0,103.9 615.5,105.2 617.0,105.8 618.5,106.3 620.0,106.8 621.5,107.2 623.0,107.1 624.5,106.8 626.0,106.4 627.5,105.9 629.0,105.5 630.5,104.7 632.0,103.1 633.5,100.9 635.0,98.7 636.5,96.5 638.0,94.6 639.5,92.9 641.0,91.2 642.5,90.2 644.0,90.2 645.5,90.8 647.0,91.6 648.5,92.4 650.0,93.1 651.5,93.5 653.0,93.9 654.5,94.4 656.0,94.7 657.5,94.8 659.0,94.4 660.5,93.8 662.0,93.3 663.5,92.7 665.0,92.1 666.5,91.3 668.0,90.5 669.5,89.6 671.0,88.8 672.5,87.9 674.0,87.3 675.5,86.7 677.0,86.1 678.5,85.6 680.0,85.1 681.5,84.9 683.0,84.8 684.5,84.7 686.0,84.5 687.5,84.4 689.0,84.3 690.5,84.2 692.0,84.1 693.5,84.0 695.0,83.9 696.5,83.8 698.0,83.7 699.5,83.5 701.0,83.5 702.5,83.4 704.0,83.3 705.5,83.2 707.0,83.2 708.5,83.1 710.0,83.0 711.5,83.0 713.0,82.9 714.5,82.8 716.0,82.8 717.5,82.7 719.0,82.7 720.5,82.7 722.0,82.6 723.5,82.6 725.0,82.6 726.5,82.5 728.0,82.5 729.5,82.4 731.0,82.4 732.5,82.4 734.0,82.3 735.5,82.3 737.0,82.3 738.5,82.2 740.0,82.2 741.5,82.2 743.0,82.1 744.5,82.1 746.0,82.0 747.5,82.0 749.0,82.1 750.5,82.1 752.0,82.2 753.5,82.3 755.0,82.3 756.5,82.4 758.0,82.5 759.5,82.6 761.0,82.7 762.5,82.7 764.0,82.5 765.5,81.8 767.0,80.8 768.5,79.8 770.0,78.8 771.5,77.8 773.0,76.8 774.5,75.8 776.0,74.8 777.5,73.9 779.0,72.9 780.5,72.2 782.0,71.7 783.5,71.3 785.0,71.0 786.5,70.6 788.0,70.2 789.5,69.9 791.0,69.5 792.5,69.1 794.0,68.8 795.5,68.4 797.0,68.0 798.5,67.7 800.0,67.4 801.5,67.2 803.0,67.0 804.5,66.9 806.0,66.8 807.5,66.6 809.0,66.5 810.5,66.4 812.0,66.2 813.5,66.1 815.0,66.0 816.5,65.8 818.0,65.7 819.5,65.6 821.0,65.5 822.5,65.5 824.0,65.4 825.5,65.4 827.0,65.4 828.5,65.3 830.0,65.3 831.5,65.3 833.0,65.2 834.5,65.2 836.0,65.2 837.5,65.2 839.0,65.1 840.5,65.1 842.0,65.1 843.5,65.0 845.0,65.0 846.5,64.8 848.0,64.5 849.5,64.2 851.0,63.8 852.5,63.5 854.0,63.1 855.5,62.8 857.0,62.4 858.5,62.0 860.0,61.7 861.5,61.3 863.0,61.0 864.5,60.6 866.0,60.3 867.5,59.9 869.0,59.6 870.5,59.2 872.0,58.8 873.5,58.5 875.0,58.1 876.5,57.8 878.0,57.4 879.5,57.1 881.0,56.7 882.5,56.4 884.0,56.1 886.0,56.1 886.0,386.0 507.0,386.0" fill="#1c50f0"/>
<polygon points="506.0,121.9 507.5,122.0 509.0,122.3 510.5,122.6 512.0,122.9 513.5,123.2 515.0,123.5 516.5,123.6 518.0,123.6 519.5,123.5 521.0,123.5 522.5,123.4 524.0,123.3 525.5,123.3 527.0,123.2 528.5,123.1 530.0,123.1 531.5,123.0 533.0,122.9 534.5,122.9 536.0,122.8 537.5,122.7 539.0,122.6 540.5,122.6 542.0,122.5 543.5,122.4 545.0,122.4 546.5,122.3 548.0,122.3 549.5,122.2 551.0,122.2 552.5,122.1 554.0,122.1 555.5,122.0 557.0,122.0 558.5,121.9 560.0,121.9 561.5,121.8 563.0,121.8 564.5,121.7 566.0,121.7 567.5,121.6 569.0,121.6 570.5,121.5 572.0,121.5 573.5,121.4 575.0,121.4 576.5,121.3 578.0,121.3 579.5,121.2 581.0,121.2 582.5,121.1 584.0,121.0 585.5,121.0 587.0,120.9 588.5,120.9 590.0,120.8 591.5,120.8 593.0,120.7 594.5,120.5 596.0,120.3 597.5,120.1 599.0,119.9 600.5,119.8 602.0,119.6 603.5,119.4 605.0,119.2 606.5,119.0 608.0,119.2 609.5,120.1 611.0,121.3 612.5,122.5 614.0,123.4 615.5,123.9 617.0,124.3 618.5,124.8 620.0,125.1 621.5,125.0 623.0,124.6 624.5,124.0 626.0,123.4 627.5,122.8 629.0,122.1 630.5,121.3 632.0,120.2 633.5,118.9 635.0,117.6 636.5,116.3 638.0,115.0 639.5,113.7 641.0,112.4 642.5,111.2 644.0,110.4 645.5,110.3 647.0,110.3 648.5,110.4 650.0,110.4 651.5,110.5 653.0,110.5 654.5,110.2 656.0,109.6 657.5,108.8 659.0,108.0 660.5,107.3 662.0,106.5 663.5,105.7 665.0,104.8 666.5,103.9 668.0,102.9 669.5,102.0 671.0,101.0 672.5,99.9 674.0,98.5 675.5,97.0 677.0,95.9 678.5,95.4 680.0,95.2 681.5,95.2 683.0,95.3 684.5,95.4 686.0,95.5 687.5,95.6 689.0,95.7 690.5,95.8 692.0,95.9 693.5,96.0 695.0,96.2 696.5,96.3 698.0,96.4 699.5,96.4 701.0,96.5 702.5,96.4 704.0,96.4 705.5,96.3 707.0,96.3 708.5,96.2 710.0,96.2 711.5,96.1 713.0,96.1 714.5,96.0 716.0,96.0 717.5,95.9 719.0,95.9 720.5,95.8 722.0,95.8 723.5,95.7 725.0,95.7 726.5,95.6 728.0,95.6 729.5,95.5 731.0,95.5 732.5,95.4 734.0,95.4 735.5,95.3 737.0,95.3 738.5,95.2 740.0,95.2 741.5,95.1 743.0,95.1 744.5,95.0 746.0,94.9 747.5,94.5 749.0,94.1 750.5,93.6 752.0,93.1 753.5,92.7 755.0,92.2 756.5,91.8 758.0,91.3 759.5,90.8 761.0,90.4 762.5,89.9 764.0,89.4 765.5,89.0 767.0,88.3 768.5,87.2 770.0,85.8 771.5,84.5 773.0,83.2 774.5,81.9 776.0,80.6 777.5,79.2 779.0,78.0 780.5,76.8 782.0,75.7 783.5,74.7 785.0,73.6 786.5,72.5 788.0,71.4 789.5,70.5 791.0,70.0 792.5,69.7 794.0,69.6 795.5,69.4 797.0,69.3 798.5,69.1 800.0,68.9 801.5,68.8 803.0,68.6 804.5,68.5 806.0,68.3 807.5,68.1 809.0,68.0 810.5,67.8 812.0,67.7 813.5,67.5 815.0,67.3 816.5,67.2 818.0,67.0 819.5,66.9 821.0,66.7 822.5,66.5 824.0,66.4 825.5,66.2 827.0,66.1 828.5,65.9 830.0,65.7 831.5,65.6 833.0,65.4 834.5,65.3 836.0,65.1 837.5,64.9 839.0,64.8 840.5,64.6 842.0,64.5 843.5,64.3 845.0,64.1 846.5,64.0 848.0,63.8 849.5,63.7 851.0,63.5 852.5,63.4 854.0,63.2 855.5,63.0 857.0,62.9 858.5,62.7 860.0,62.6 861.5,62.4 863.0,62.2 864.5,62.1 866.0,61.9 867.5,61.8 869.0,61.6 870.5,61.4 872.0,61.3 873.5,61.1 875.0,61.0 876.5,60.8 878.0,60.6 879.5,60.5 881.0,60.3 882.5,60.2 884.0,60.0 886.0,60.0 886.0,386.0 507.0,386.0" fill="#0a28e8"/>
<polygon points="506.0,157.9 507.5,157.8 509.0,157.8 510.5,157.7 512.0,157.5 513.5,157.4 515.0,157.3 516.5,157.2 518.0,157.1 519.5,157.0 521.0,156.9 522.5,156.8 524.0,156.7 525.5,156.6 527.0,156.5 528.5,156.4 530.0,156.3 531.5,156.2 533.0,156.1 534.5,156.0 536.0,155.8 537.5,155.7 539.0,155.6 540.5,155.5 542.0,155.5 543.5,155.4 545.0,155.3 546.5,155.2 548.0,155.2 549.5,155.1 551.0,155.0 552.5,154.9 554.0,154.8 555.5,154.8 557.0,154.7 558.5,154.6 560.0,154.5 561.5,154.4 563.0,154.4 564.5,154.3 566.0,154.2 567.5,154.1 569.0,154.1 570.5,154.1 572.0,154.1 573.5,154.2 575.0,154.3 576.5,154.5 578.0,154.6 579.5,154.7 581.0,154.8 582.5,154.9 584.0,155.0 585.5,155.1 587.0,155.2 588.5,155.3 590.0,155.4 591.5,155.5 593.0,155.5 594.5,155.3 596.0,154.9 597.5,154.6 599.0,154.2 600.5,153.9 602.0,153.6 603.5,153.2 605.0,152.9 606.5,152.6 608.0,152.3 609.5,152.3 611.0,152.7 612.5,153.2 614.0,153.8 615.5,154.3 617.0,154.8 618.5,155.4 620.0,155.9 621.5,156.4 623.0,157.0 624.5,157.5 626.0,157.8 627.5,157.9 629.0,157.9 630.5,157.9 632.0,157.6 633.5,156.6 635.0,154.9 636.5,153.0 638.0,151.2 639.5,149.3 641.0,147.2 642.5,144.1 644.0,140.8 645.5,138.9 647.0,138.2 648.5,137.7 650.0,137.1 651.5,136.6 653.0,135.9 654.5,135.0 656.0,133.9 657.5,132.6 659.0,131.2 660.5,129.7 662.0,128.2 663.5,126.7 665.0,125.1 666.5,123.6 668.0,122.0 669.5,120.8 671.0,120.1 672.5,119.9 674.0,119.8 675.5,119.7 677.0,119.7 678.5,119.6 680.0,119.5 681.5,119.5 683.0,119.4 684.5,119.3 686.0,119.3 687.5,119.2 689.0,119.1 690.5,119.0 692.0,119.0 693.5,118.9 695.0,118.8 696.5,118.8 698.0,118.7 699.5,118.6 701.0,118.6 702.5,118.5 704.0,118.4 705.5,118.3 707.0,118.3 708.5,118.2 710.0,118.1 711.5,118.1 713.0,118.0 714.5,117.9 716.0,117.9 717.5,117.8 719.0,117.7 720.5,117.6 722.0,117.6 723.5,117.5 725.0,117.4 726.5,117.4 728.0,117.3 729.5,117.2 731.0,117.1 732.5,117.1 734.0,117.0 735.5,116.9 737.0,116.9 738.5,116.8 740.0,116.7 741.5,116.7 743.0,116.6 744.5,116.5 746.0,116.4 747.5,116.4 749.0,116.3 750.5,116.2 752.0,116.2 753.5,116.1 755.0,116.0 756.5,116.0 758.0,115.9 759.5,115.8 761.0,115.7 762.5,115.7 764.0,115.6 765.5,115.5 767.0,115.5 768.5,115.4 770.0,115.3 771.5,115.3 773.0,115.2 774.5,115.1 776.0,115.0 777.5,115.0 779.0,114.9 780.5,114.8 782.0,114.8 783.5,114.7 785.0,114.6 786.5,114.6 788.0,114.5 789.5,114.4 791.0,114.3 792.5,114.3 794.0,114.2 795.5,114.1 797.0,114.1 798.5,114.0 800.0,113.9 801.5,113.9 803.0,113.8 804.5,113.7 806.0,113.6 807.5,113.6 809.0,113.5 810.5,113.4 812.0,113.4 813.5,113.3 815.0,113.2 816.5,113.2 818.0,113.1 819.5,113.0 821.0,112.9 822.5,112.9 824.0,112.8 825.5,112.7 827.0,112.7 828.5,112.6 830.0,112.5 831.5,112.5 833.0,112.4 834.5,112.3 836.0,112.2 837.5,112.2 839.0,112.1 840.5,112.0 842.0,112.0 843.5,111.9 845.0,111.8 846.5,111.8 848.0,111.7 849.5,111.6 851.0,111.5 852.5,111.5 854.0,111.4 855.5,111.3 857.0,111.3 858.5,111.2 860.0,111.1 861.5,111.1 863.0,111.0 864.5,110.9 866.0,110.8 867.5,110.8 869.0,110.7 870.5,110.6 872.0,110.6 873.5,110.5 875.0,110.4 876.5,110.4 878.0,110.3 879.5,110.2 881.0,110.1 882.5,110.1 884.0,110.0 886.0,110.0 886.0,386.0 507.0,386.0" fill="#2010b8"/>
<polygon points="506.0,217.7 507.5,217.9 509.0,218.4 510.5,218.9 512.0,219.4 513.5,219.9 515.0,220.3 516.5,220.8 518.0,221.3 519.5,221.8 521.0,222.3 522.5,222.6 524.0,222.5 525.5,221.9 527.0,221.2 528.5,220.6 530.0,219.9 531.5,219.2 533.0,218.6 534.5,217.9 536.0,217.2 537.5,216.6 539.0,215.9 540.5,215.3 542.0,214.6 543.5,213.9 545.0,213.3 546.5,212.7 548.0,212.2 549.5,211.7 551.0,211.3 552.5,210.8 554.0,210.4 555.5,210.0 557.0,209.5 558.5,209.1 560.0,208.6 561.5,208.2 563.0,207.8 564.5,207.3 566.0,206.9 567.5,206.4 569.0,206.0 570.5,205.5 572.0,205.1 573.5,204.8 575.0,204.9 576.5,205.4 578.0,206.2 579.5,206.9 581.0,207.7 582.5,208.4 584.0,209.2 585.5,209.9 587.0,210.7 588.5,211.3 590.0,211.6 591.5,211.4 593.0,211.0 594.5,210.6 596.0,210.2 597.5,209.8 599.0,209.0 600.5,207.4 602.0,205.6 603.5,203.8 605.0,202.0 606.5,200.2 608.0,199.4 609.5,200.6 611.0,202.7 612.5,204.8 614.0,208.2 615.5,213.8 617.0,220.7 618.5,226.7 620.0,230.8 621.5,233.9 623.0,236.9 624.5,238.8 626.0,238.7 627.5,237.6 629.0,236.3 630.5,234.8 632.0,233.2 633.5,231.6 635.0,230.4 636.5,229.8 638.0,229.6 639.5,229.5 641.0,229.3 642.5,229.1 644.0,228.9 645.5,228.7 647.0,228.6 648.5,228.4 650.0,228.2 651.5,228.0 653.0,227.8 654.5,227.7 656.0,227.5 657.5,227.3 659.0,227.1 660.5,226.9 662.0,226.7 663.5,226.6 665.0,226.4 666.5,226.2 668.0,226.0 669.5,225.8 671.0,225.7 672.5,225.5 674.0,225.3 675.5,225.1 677.0,224.9 678.5,224.8 680.0,224.6 681.5,224.4 683.0,224.2 684.5,224.0 686.0,223.9 687.5,223.7 689.0,223.5 690.5,223.3 692.0,223.1 693.5,223.0 695.0,222.8 696.5,222.6 698.0,222.4 699.5,222.2 701.0,222.0 702.5,221.9 704.0,221.7 705.5,221.5 707.0,221.3 708.5,221.1 710.0,221.0 711.5,220.8 713.0,220.6 714.5,220.4 716.0,220.2 717.5,220.1 719.0,219.9 720.5,219.7 722.0,219.5 723.5,219.3 725.0,219.2 726.5,219.0 728.0,218.8 729.5,218.6 731.0,218.4 732.5,218.3 734.0,218.1 735.5,217.9 737.0,217.7 738.5,217.5 740.0,217.3 741.5,217.2 743.0,217.0 744.5,216.8 746.0,216.6 747.5,216.4 749.0,216.3 750.5,216.1 752.0,215.9 753.5,215.7 755.0,215.5 756.5,215.4 758.0,215.2 759.5,215.0 761.0,214.8 762.5,214.6 764.0,214.5 765.5,214.3 767.0,214.1 768.5,213.9 770.0,213.7 771.5,213.6 773.0,213.4 774.5,213.2 776.0,213.0 777.5,212.8 779.0,212.7 780.5,212.5 782.0,212.3 783.5,212.1 785.0,211.9 786.5,211.7 788.0,211.6 789.5,211.4 791.0,211.2 792.5,211.0 794.0,210.8 795.5,210.7 797.0,210.5 798.5,210.3 800.0,210.1 801.5,209.9 803.0,209.8 804.5,209.6 806.0,209.4 807.5,209.2 809.0,209.0 810.5,208.9 812.0,208.7 813.5,208.5 815.0,208.3 816.5,208.1 818.0,208.0 819.5,207.8 821.0,207.6 822.5,207.4 824.0,207.2 825.5,207.0 827.0,206.9 828.5,206.7 830.0,206.5 831.5,206.3 833.0,206.1 834.5,206.0 836.0,205.8 837.5,205.6 839.0,205.4 840.5,205.2 842.0,205.1 843.5,204.9 845.0,204.7 846.5,204.5 848.0,204.3 849.5,204.2 851.0,204.0 852.5,203.8 854.0,203.6 855.5,203.4 857.0,203.3 858.5,203.1 860.0,202.9 861.5,202.7 863.0,202.5 864.5,202.3 866.0,202.2 867.5,202.0 869.0,201.8 870.5,201.6 872.0,201.4 873.5,201.3 875.0,201.1 876.5,200.9 878.0,200.7 879.5,200.5 881.0,200.4 882.5,200.2 884.0,200.0 886.0,200.0 886.0,386.0 507.0,386.0" fill="#301090"/>
<rect x="671" y="30" width="215" height="5.6" fill="#5a0c0c"/>
<rect x="506" y="30" width="380" height="1.7" fill="#000"/>
<rect x="506" y="31.7" width="60" height="1.2" fill="#000" fill-opacity="0.45"/>
<polyline points="506.0,36.6 507.5,36.6 509.0,36.6 510.5,36.6 512.0,36.6 513.5,36.6 515.0,36.6 516.5,36.6 518.0,36.6 519.5,36.6 521.0,36.6 522.5,36.6 524.0,36.6 525.5,36.6 527.0,36.6 528.5,36.6 530.0,36.6 531.5,36.6 533.0,36.6 534.5,36.6 536.0,36.6 537.5,36.6 539.0,36.6 540.5,36.6 542.0,36.5 543.5,36.5 545.0,36.5 546.5,36.5 548.0,36.5 549.5,36.5 551.0,36.5 552.5,36.5 554.0,36.4 555.5,36.4 557.0,36.4 558.5,36.4 560.0,36.4 561.5,36.4 563.0,36.4 564.5,36.4 566.0,36.4 567.5,36.4 569.0,36.4 570.5,36.4 572.0,36.4 573.5,36.5 575.0,36.5 576.5,36.5 578.0,36.5 579.5,36.5 581.0,36.6 582.5,36.6 584.0,36.6 585.5,36.6 587.0,36.6 588.5,36.6 590.0,36.6 591.5,36.6 593.0,36.6 594.5,36.5 596.0,36.5 597.5,36.5 599.0,36.5 600.5,36.5 602.0,36.5 603.5,36.4 605.0,36.4 606.5,36.4 608.0,36.4 609.5,36.5 611.0,36.5 612.5,36.6 614.0,36.7 615.5,36.8 617.0,36.9 618.5,37.1 620.0,37.2 621.5,37.3 623.0,37.3 624.5,37.3 626.0,37.4 627.5,37.3 629.0,37.3 630.5,37.2 632.0,37.1 633.5,37.0 635.0,36.8 636.5,36.7 638.0,36.5 639.5,36.3 641.0,36.1 642.5,35.9 644.0,35.9 645.5,35.9 647.0,35.9 648.5,36.0 650.0,36.0 651.5,36.1 653.0,36.1 654.5,36.1 656.0,36.1 657.5,36.1 659.0,36.1 660.5,36.1 662.0,36.1 663.5,36.1 665.0,36.0 666.5,36.0 668.0,35.9 669.5,35.8 671.0,35.8 672.5,35.7 674.0,35.6 675.5,35.5 677.0,35.4 678.5,35.3" fill="none" stroke="#000" stroke-width="2.3" stroke-linejoin="round" />
<polyline points="701.0,34.8 702.5,34.7 704.0,34.7 705.5,34.7 707.0,34.7 708.5,34.7 710.0,34.7 711.5,34.7 713.0,34.7 714.5,34.7 716.0,34.7 717.5,34.7 719.0,34.7 720.5,34.7 722.0,34.7 723.5,34.7 725.0,34.7 726.5,34.6 728.0,34.6 729.5,34.6 731.0,34.6 732.5,34.6 734.0,34.6 735.5,34.6 737.0,34.6 738.5,34.6 740.0,34.6 741.5,34.6 743.0,34.6 744.5,34.6 746.0,34.6 747.5,34.6 749.0,34.5 750.5,34.5 752.0,34.5 753.5,34.5 755.0,34.5 756.5,34.5 758.0,34.5 759.5,34.5 761.0,34.4 762.5,34.4 764.0,34.4 765.5,34.4 767.0,34.4 768.5,34.4 770.0,34.4 771.5,34.4 773.0,34.3 774.5,34.3 776.0,34.3 777.5,34.3 779.0,34.3 780.5,34.3 782.0,34.3 783.5,34.3 785.0,34.2 786.5,34.2 788.0,34.2 789.5,34.2 791.0,34.2 792.5,34.2 794.0,34.2 795.5,34.2 797.0,34.2 798.5,34.2 800.0,34.2 801.5,34.2 803.0,34.1 804.5,34.1 806.0,34.1 807.5,34.1 809.0,34.1 810.5,34.1 812.0,34.0 813.5,34.0 815.0,34.0 816.5,34.0 818.0,34.0 819.5,34.0 821.0,34.0 822.5,33.9 824.0,33.9 825.5,33.9 827.0,33.9 828.5,33.9 830.0,33.8 831.5,33.8 833.0,33.8 834.5,33.8 836.0,33.8 837.5,33.7 839.0,33.7 840.5,33.7 842.0,33.7 843.5,33.7 845.0,33.6 846.5,33.6 848.0,33.6 849.5,33.5" fill="none" stroke="#000" stroke-width="2.3" stroke-linejoin="round" />
<polyline points="866.0,32.8 867.5,32.7 869.0,32.6 870.5,32.5 872.0,32.4 873.5,32.3 875.0,32.2 876.5,32.1 878.0,32.0 879.5,31.9 881.0,31.8 882.5,31.7 884.0,31.6" fill="none" stroke="#000" stroke-width="2.3" stroke-linejoin="round" />
<polyline points="506.0,39.6 507.5,39.6 509.0,39.6 510.5,39.6 512.0,39.6 513.5,39.6 515.0,39.6 516.5,39.6 518.0,39.6 519.5,39.6 521.0,39.6 522.5,39.6 524.0,39.6 525.5,39.6 527.0,39.6 528.5,39.6 530.0,39.6 531.5,39.6 533.0,39.6 534.5,39.6 536.0,39.6 537.5,39.6 539.0,39.6 540.5,39.5 542.0,39.5 543.5,39.5 545.0,39.5 546.5,39.5 548.0,39.5 549.5,39.4 551.0,39.4 552.5,39.4 554.0,39.4 555.5,39.4 557.0,39.3 558.5,39.3 560.0,39.3 561.5,39.3 563.0,39.3 564.5,39.3 566.0,39.3 567.5,39.3 569.0,39.3 570.5,39.3 572.0,39.4 573.5,39.4 575.0,39.4 576.5,39.5 578.0,39.5 579.5,39.5 581.0,39.6 582.5,39.6 584.0,39.6 585.5,39.7 587.0,39.7 588.5,39.6 590.0,39.6 591.5,39.6 593.0,39.5 594.5,39.5 596.0,39.5 597.5,39.4 599.0,39.4 600.5,39.4 602.0,39.4 603.5,39.4 605.0,39.4 606.5,39.3 608.0,39.3 609.5,39.4 611.0,39.5 612.5,39.6 614.0,39.8 615.5,39.9 617.0,40.1 618.5,40.3 620.0,40.4 621.5,40.6 623.0,40.6 624.5,40.7 626.0,40.7 627.5,40.7 629.0,40.6 630.5,40.4 632.0,40.3 633.5,40.1 635.0,40.0 636.5,39.7 638.0,39.4 639.5,39.1 641.0,38.8 642.5,38.6 644.0,38.5 645.5,38.6 647.0,38.6 648.5,38.7 650.0,38.8 651.5,38.8 653.0,38.8 654.5,38.9 656.0,38.9 657.5,38.9 659.0,38.9 660.5,38.9 662.0,38.8 663.5,38.8 665.0,38.8 666.5,38.7 668.0,38.6 669.5,38.5 671.0,38.4 672.5,38.3 674.0,38.1 675.5,38.0 677.0,37.9 678.5,37.7" fill="none" stroke="#000" stroke-width="2.5" stroke-linejoin="round" />
<polyline points="701.0,36.9 702.5,36.9 704.0,36.9 705.5,36.9 707.0,36.9 708.5,36.9 710.0,36.9 711.5,36.8 713.0,36.8 714.5,36.8 716.0,36.8 717.5,36.8 719.0,36.8 720.5,36.8 722.0,36.8 723.5,36.8 725.0,36.8 726.5,36.8 728.0,36.7 729.5,36.7 731.0,36.7 732.5,36.7 734.0,36.7 735.5,36.7 737.0,36.7 738.5,36.7 740.0,36.7 741.5,36.7 743.0,36.7 744.5,36.7 746.0,36.6 747.5,36.6 749.0,36.6 750.5,36.6 752.0,36.6 753.5,36.6 755.0,36.5 756.5,36.5 758.0,36.5 759.5,36.5 761.0,36.5 762.5,36.4 764.0,36.4 765.5,36.4 767.0,36.4 768.5,36.4 770.0,36.3 771.5,36.3 773.0,36.3 774.5,36.3 776.0,36.3 777.5,36.3 779.0,36.2 780.5,36.2 782.0,36.2 783.5,36.2 785.0,36.2 786.5,36.2 788.0,36.2 789.5,36.1 791.0,36.1 792.5,36.1 794.0,36.1 795.5,36.1 797.0,36.1 798.5,36.1 800.0,36.1 801.5,36.0 803.0,36.0 804.5,36.0 806.0,36.0 807.5,36.0 809.0,35.9 810.5,35.9 812.0,35.9 813.5,35.9 815.0,35.8 816.5,35.8 818.0,35.8 819.5,35.8 821.0,35.7 822.5,35.7 824.0,35.7 825.5,35.7 827.0,35.6 828.5,35.6 830.0,35.6 831.5,35.6 833.0,35.5 834.5,35.5 836.0,35.5 837.5,35.4 839.0,35.4 840.5,35.4 842.0,35.4 843.5,35.3 845.0,35.3 846.5,35.2 848.0,35.2 849.5,35.1" fill="none" stroke="#000" stroke-width="2.5" stroke-linejoin="round" />
<polyline points="866.0,34.0 867.5,33.9 869.0,33.8 870.5,33.6 872.0,33.5 873.5,33.4 875.0,33.2 876.5,33.1 878.0,32.9 879.5,32.8 881.0,32.6 882.5,32.5 884.0,32.4" fill="none" stroke="#000" stroke-width="2.5" stroke-linejoin="round" />
<polyline points="506.0,42.9 507.5,42.9 509.0,42.9 510.5,42.9 512.0,42.9 513.5,42.9 515.0,42.9 516.5,42.9 518.0,42.9 519.5,42.9 521.0,42.9 522.5,42.9 524.0,42.9 525.5,42.9 527.0,42.9 528.5,42.9 530.0,42.9 531.5,42.9 533.0,42.9 534.5,42.9 536.0,42.9 537.5,42.9 539.0,42.9 540.5,42.8 542.0,42.8 543.5,42.8 545.0,42.8 546.5,42.7 548.0,42.7 549.5,42.7 551.0,42.7 552.5,42.6 554.0,42.6 555.5,42.6 557.0,42.6 558.5,42.5 560.0,42.5 561.5,42.5 563.0,42.5 564.5,42.4 566.0,42.5 567.5,42.5 569.0,42.5 570.5,42.6 572.0,42.6 573.5,42.6 575.0,42.7 576.5,42.7 578.0,42.8 579.5,42.8 581.0,42.8 582.5,42.9 584.0,42.9 585.5,43.0 587.0,43.0 588.5,43.0 590.0,42.9 591.5,42.9 593.0,42.8 594.5,42.8 596.0,42.7 597.5,42.7 599.0,42.7 600.5,42.6 602.0,42.6 603.5,42.6 605.0,42.6 606.5,42.5 608.0,42.5 609.5,42.6 611.0,42.8 612.5,43.0 614.0,43.1 615.5,43.4 617.0,43.6 618.5,43.8 620.0,44.0 621.5,44.2 623.0,44.3 624.5,44.3 626.0,44.4 627.5,44.3 629.0,44.2 630.5,44.0 632.0,43.8 633.5,43.6 635.0,43.4 636.5,43.1 638.0,42.7 639.5,42.2 641.0,41.9 642.5,41.6 644.0,41.5 645.5,41.5 647.0,41.6 648.5,41.7 650.0,41.8 651.5,41.9 653.0,41.9 654.5,41.9 656.0,41.9 657.5,42.0 659.0,41.9 660.5,41.9 662.0,41.9 663.5,41.8 665.0,41.8 666.5,41.7 668.0,41.5 669.5,41.4 671.0,41.3 672.5,41.1 674.0,40.9 675.5,40.8 677.0,40.6 678.5,40.4" fill="none" stroke="#000" stroke-width="2.5" stroke-linejoin="round" />
<polyline points="701.0,39.3 702.5,39.3 704.0,39.3 705.5,39.3 707.0,39.2 708.5,39.2 710.0,39.2 711.5,39.2 713.0,39.2 714.5,39.2 716.0,39.2 717.5,39.2 719.0,39.1 720.5,39.1 722.0,39.1 723.5,39.1 725.0,39.1 726.5,39.1 728.0,39.1 729.5,39.1 731.0,39.0 732.5,39.0 734.0,39.0 735.5,39.0 737.0,39.0 738.5,39.0 740.0,39.0 741.5,39.0 743.0,38.9 744.5,38.9 746.0,38.9 747.5,38.9 749.0,38.9 750.5,38.9 752.0,38.8 753.5,38.8 755.0,38.8 756.5,38.8 758.0,38.7 759.5,38.7 761.0,38.7 762.5,38.7 764.0,38.6 765.5,38.6 767.0,38.6 768.5,38.6 770.0,38.5 771.5,38.5 773.0,38.5 774.5,38.5 776.0,38.4 777.5,38.4 779.0,38.4 780.5,38.4 782.0,38.3 783.5,38.3 785.0,38.3 786.5,38.3 788.0,38.3 789.5,38.3 791.0,38.2 792.5,38.2 794.0,38.2 795.5,38.2 797.0,38.2 798.5,38.2 800.0,38.1 801.5,38.1 803.0,38.1 804.5,38.1 806.0,38.0 807.5,38.0 809.0,38.0 810.5,37.9 812.0,37.9 813.5,37.9 815.0,37.9 816.5,37.8 818.0,37.8 819.5,37.8 821.0,37.7 822.5,37.7 824.0,37.7 825.5,37.6 827.0,37.6 828.5,37.5 830.0,37.5 831.5,37.5 833.0,37.4 834.5,37.4 836.0,37.3 837.5,37.3 839.0,37.3 840.5,37.2 842.0,37.2 843.5,37.2 845.0,37.1 846.5,37.1 848.0,37.0 849.5,36.9" fill="none" stroke="#000" stroke-width="2.5" stroke-linejoin="round" />
<polyline points="866.0,35.4 867.5,35.2 869.0,35.1 870.5,34.9 872.0,34.7 873.5,34.5 875.0,34.3 876.5,34.1 878.0,33.9 879.5,33.7 881.0,33.5 882.5,33.4 884.0,33.2" fill="none" stroke="#000" stroke-width="2.5" stroke-linejoin="round" />
<polyline points="506.0,46.5 507.5,46.5 509.0,46.5 510.5,46.5 512.0,46.5 513.5,46.5 515.0,46.5 516.5,46.5 518.0,46.5 519.5,46.5 521.0,46.5 522.5,46.5 524.0,46.5 525.5,46.5 527.0,46.5 528.5,46.5 530.0,46.5 531.5,46.5 533.0,46.5 534.5,46.5 536.0,46.5 537.5,46.5 539.0,46.4 540.5,46.4 542.0,46.4 543.5,46.3 545.0,46.3 546.5,46.3 548.0,46.2 549.5,46.2 551.0,46.2 552.5,46.2 554.0,46.1 555.5,46.1 557.0,46.1 558.5,46.0 560.0,46.0 561.5,46.0 563.0,45.9 564.5,45.9 566.0,45.9 567.5,46.0 569.0,46.0 570.5,46.1 572.0,46.1 573.5,46.1 575.0,46.2 576.5,46.3 578.0,46.3 579.5,46.4 581.0,46.4 582.5,46.5 584.0,46.6 585.5,46.6 587.0,46.6 588.5,46.6 590.0,46.5 591.5,46.5 593.0,46.4 594.5,46.3 596.0,46.3 597.5,46.2 599.0,46.2 600.5,46.2 602.0,46.1 603.5,46.1 605.0,46.1 606.5,46.0 608.0,46.1 609.5,46.2 611.0,46.4 612.5,46.6 614.0,46.8 615.5,47.1 617.0,47.4 618.5,47.6 620.0,47.9 621.5,48.2 623.0,48.3 624.5,48.3 626.0,48.4 627.5,48.4 629.0,48.2 630.5,47.9 632.0,47.7 633.5,47.4 635.0,47.1 636.5,46.7 638.0,46.2 639.5,45.7 641.0,45.2 642.5,44.8 644.0,44.7 645.5,44.7 647.0,44.8 648.5,45.0 650.0,45.1 651.5,45.2 653.0,45.2 654.5,45.2 656.0,45.3 657.5,45.3 659.0,45.3 660.5,45.2 662.0,45.2 663.5,45.1 665.0,45.1 666.5,44.9 668.0,44.8 669.5,44.6 671.0,44.4 672.5,44.2 674.0,44.0 675.5,43.8 677.0,43.5 678.5,43.3" fill="none" stroke="#000" stroke-width="2.3" stroke-linejoin="round" />
<polyline points="701.0,41.9 702.5,41.9 704.0,41.8 705.5,41.8 707.0,41.8 708.5,41.8 710.0,41.8 711.5,41.8 713.0,41.8 714.5,41.7 716.0,41.7 717.5,41.7 719.0,41.7 720.5,41.7 722.0,41.7 723.5,41.6 725.0,41.6 726.5,41.6 728.0,41.6 729.5,41.6 731.0,41.6 732.5,41.6 734.0,41.5 735.5,41.5 737.0,41.5 738.5,41.5 740.0,41.5 741.5,41.5 743.0,41.4 744.5,41.4 746.0,41.4 747.5,41.4 749.0,41.4 750.5,41.3 752.0,41.3 753.5,41.3 755.0,41.2 756.5,41.2 758.0,41.2 759.5,41.1 761.0,41.1 762.5,41.1 764.0,41.0 765.5,41.0 767.0,41.0 768.5,40.9 770.0,40.9 771.5,40.9 773.0,40.8 774.5,40.8 776.0,40.8 777.5,40.7 779.0,40.7 780.5,40.7 782.0,40.7 783.5,40.6 785.0,40.6 786.5,40.6 788.0,40.6 789.5,40.6 791.0,40.5 792.5,40.5 794.0,40.5 795.5,40.5 797.0,40.5 798.5,40.4 800.0,40.4 801.5,40.4 803.0,40.3 804.5,40.3 806.0,40.3 807.5,40.2 809.0,40.2 810.5,40.2 812.0,40.1 813.5,40.1 815.0,40.0 816.5,40.0 818.0,40.0 819.5,39.9 821.0,39.9 822.5,39.8 824.0,39.8 825.5,39.7 827.0,39.7 828.5,39.6 830.0,39.6 831.5,39.5 833.0,39.5 834.5,39.4 836.0,39.4 837.5,39.3 839.0,39.3 840.5,39.3 842.0,39.2 843.5,39.2 845.0,39.1 846.5,39.0 848.0,38.9 849.5,38.8" fill="none" stroke="#000" stroke-width="2.3" stroke-linejoin="round" />
<polyline points="866.0,36.9 867.5,36.7 869.0,36.5 870.5,36.3 872.0,36.0 873.5,35.8 875.0,35.5 876.5,35.3 878.0,35.0 879.5,34.8 881.0,34.5 882.5,34.3 884.0,34.1" fill="none" stroke="#000" stroke-width="2.3" stroke-linejoin="round" />
<polyline points="506.0,50.3 507.5,50.3 509.0,50.3 510.5,50.3 512.0,50.3 513.5,50.3 515.0,50.3 516.5,50.3 518.0,50.3 519.5,50.3 521.0,50.3 522.5,50.3 524.0,50.3 525.5,50.3 527.0,50.3 528.5,50.3 530.0,50.3 531.5,50.3 533.0,50.3 534.5,50.3 536.0,50.3 537.5,50.3 539.0,50.2 540.5,50.2 542.0,50.1 543.5,50.1 545.0,50.1 546.5,50.0 548.0,50.0 549.5,49.9 551.0,49.9 552.5,49.9 554.0,49.8 555.5,49.8 557.0,49.8 558.5,49.7 560.0,49.7 561.5,49.6 563.0,49.6 564.5,49.6 566.0,49.6 567.5,49.6 569.0,49.7 570.5,49.8 572.0,49.8 573.5,49.9 575.0,49.9 576.5,50.0 578.0,50.1 579.5,50.1 581.0,50.2 582.5,50.3 584.0,50.4 585.5,50.4 587.0,50.4 588.5,50.4 590.0,50.3 591.5,50.3 593.0,50.2 594.5,50.1 596.0,50.0 597.5,50.0 599.0,49.9 600.5,49.9 602.0,49.8 603.5,49.8 605.0,49.8 606.5,49.7 608.0,49.7 609.5,49.9 611.0,50.1 612.5,50.4 614.0,50.7 615.5,51.0 617.0,51.4 618.5,51.7 620.0,52.1 621.5,52.3 623.0,52.5 624.5,52.6 626.0,52.6 627.5,52.6 629.0,52.4 630.5,52.1 632.0,51.8 633.5,51.4 635.0,51.0 636.5,50.6 638.0,50.0 639.5,49.3 641.0,48.7 642.5,48.2 644.0,48.1 645.5,48.1 647.0,48.3 648.5,48.5 650.0,48.6 651.5,48.6 653.0,48.7 654.5,48.8 656.0,48.8 657.5,48.8 659.0,48.8 660.5,48.7 662.0,48.7 663.5,48.6 665.0,48.5 666.5,48.4 668.0,48.2 669.5,48.0 671.0,47.8 672.5,47.5 674.0,47.2 675.5,46.9 677.0,46.7 678.5,46.4" fill="none" stroke="#000" stroke-width="2.3" stroke-linejoin="round" />
<polyline points="701.0,44.6 702.5,44.6 704.0,44.6 705.5,44.6 707.0,44.5 708.5,44.5 710.0,44.5 711.5,44.5 713.0,44.5 714.5,44.4 716.0,44.4 717.5,44.4 719.0,44.4 720.5,44.4 722.0,44.3 723.5,44.3 725.0,44.3 726.5,44.3 728.0,44.3 729.5,44.3 731.0,44.2 732.5,44.2 734.0,44.2 735.5,44.2 737.0,44.2 738.5,44.1 740.0,44.1 741.5,44.1 743.0,44.1 744.5,44.1 746.0,44.0 747.5,44.0 749.0,44.0 750.5,44.0 752.0,43.9 753.5,43.9 755.0,43.8 756.5,43.8 758.0,43.7 759.5,43.7 761.0,43.7 762.5,43.6 764.0,43.6 765.5,43.5 767.0,43.5 768.5,43.5 770.0,43.4 771.5,43.4 773.0,43.3 774.5,43.3 776.0,43.3 777.5,43.2 779.0,43.2 780.5,43.1 782.0,43.1 783.5,43.1 785.0,43.1 786.5,43.0 788.0,43.0 789.5,43.0 791.0,43.0 792.5,42.9 794.0,42.9 795.5,42.9 797.0,42.9 798.5,42.8 800.0,42.8 801.5,42.8 803.0,42.7 804.5,42.7 806.0,42.6 807.5,42.6 809.0,42.5 810.5,42.5 812.0,42.4 813.5,42.4 815.0,42.4 816.5,42.3 818.0,42.3 819.5,42.2 821.0,42.2 822.5,42.1 824.0,42.0 825.5,42.0 827.0,41.9 828.5,41.9 830.0,41.8 831.5,41.7 833.0,41.7 834.5,41.6 836.0,41.6 837.5,41.5 839.0,41.4 840.5,41.4 842.0,41.3 843.5,41.3 845.0,41.2 846.5,41.1 848.0,41.0 849.5,40.8" fill="none" stroke="#000" stroke-width="2.3" stroke-linejoin="round" />
<polyline points="866.0,38.5 867.5,38.2 869.0,38.0 870.5,37.7 872.0,37.4 873.5,37.1 875.0,36.8 876.5,36.5 878.0,36.2 879.5,35.9 881.0,35.6 882.5,35.3 884.0,35.0" fill="none" stroke="#000" stroke-width="2.3" stroke-linejoin="round" />
<polyline points="506.0,54.5 507.5,54.5 509.0,54.5 510.5,54.5 512.0,54.5 513.5,54.5 515.0,54.5 516.5,54.5 518.0,54.5 519.5,54.5 521.0,54.5 522.5,54.5 524.0,54.5 525.5,54.5 527.0,54.5 528.5,54.5 530.0,54.5 531.5,54.5 533.0,54.5 534.5,54.5 536.0,54.5 537.5,54.5 539.0,54.4 540.5,54.4 542.0,54.3 543.5,54.3 545.0,54.2 546.5,54.2 548.0,54.1 549.5,54.1 551.0,54.0 552.5,54.0 554.0,53.9 555.5,53.9 557.0,53.8 558.5,53.8 560.0,53.7 561.5,53.7 563.0,53.7 564.5,53.6 566.0,53.6 567.5,53.7 569.0,53.8 570.5,53.8 572.0,53.9 573.5,54.0 575.0,54.1 576.5,54.1 578.0,54.2 579.5,54.3 581.0,54.4 582.5,54.5 584.0,54.6 585.5,54.7 587.0,54.7 588.5,54.6 590.0,54.5 591.5,54.4 593.0,54.4 594.5,54.3 596.0,54.2 597.5,54.1 599.0,54.0 600.5,54.0 602.0,53.9 603.5,53.9 605.0,53.9 606.5,53.8 608.0,53.8 609.5,54.0 611.0,54.3 612.5,54.6 614.0,55.0 615.5,55.4 617.0,55.8 618.5,56.2 620.0,56.6 621.5,57.0 623.0,57.1 624.5,57.2 626.0,57.3 627.5,57.3 629.0,57.0 630.5,56.6 632.0,56.3 633.5,55.9 635.0,55.4 636.5,54.8 638.0,54.1 639.5,53.3 641.0,52.5 642.5,52.0 644.0,51.8 645.5,51.9 647.0,52.0 648.5,52.3 650.0,52.4 651.5,52.5 653.0,52.6 654.5,52.6 656.0,52.7 657.5,52.7 659.0,52.7 660.5,52.6 662.0,52.5 663.5,52.5 665.0,52.4 666.5,52.2 668.0,51.9 669.5,51.7 671.0,51.4 672.5,51.1 674.0,50.8 675.5,50.4 677.0,50.1 678.5,49.8" fill="none" stroke="#000" stroke-width="2.5" stroke-linejoin="round" />
<polyline points="701.0,47.6 702.5,47.6 704.0,47.6 705.5,47.6 707.0,47.5 708.5,47.5 710.0,47.5 711.5,47.5 713.0,47.5 714.5,47.4 716.0,47.4 717.5,47.4 719.0,47.4 720.5,47.3 722.0,47.3 723.5,47.3 725.0,47.3 726.5,47.2 728.0,47.2 729.5,47.2 731.0,47.2 732.5,47.2 734.0,47.1 735.5,47.1 737.0,47.1 738.5,47.1 740.0,47.0 741.5,47.0 743.0,47.0 744.5,47.0 746.0,46.9 747.5,46.9 749.0,46.9 750.5,46.8 752.0,46.8 753.5,46.7 755.0,46.7 756.5,46.6 758.0,46.6 759.5,46.5 761.0,46.5 762.5,46.4 764.0,46.4 765.5,46.3 767.0,46.3 768.5,46.2 770.0,46.2 771.5,46.1 773.0,46.1 774.5,46.1 776.0,46.0 777.5,46.0 779.0,45.9 780.5,45.9 782.0,45.8 783.5,45.8 785.0,45.8 786.5,45.7 788.0,45.7 789.5,45.7 791.0,45.7 792.5,45.6 794.0,45.6 795.5,45.6 797.0,45.5 798.5,45.5 800.0,45.5 801.5,45.4 803.0,45.4 804.5,45.3 806.0,45.2 807.5,45.2 809.0,45.1 810.5,45.1 812.0,45.0 813.5,45.0 815.0,44.9 816.5,44.9 818.0,44.8 819.5,44.7 821.0,44.7 822.5,44.6 824.0,44.5 825.5,44.5 827.0,44.4 828.5,44.3 830.0,44.2 831.5,44.2 833.0,44.1 834.5,44.0 836.0,44.0 837.5,43.9 839.0,43.8 840.5,43.7 842.0,43.7 843.5,43.6 845.0,43.5 846.5,43.4 848.0,43.2 849.5,43.0" fill="none" stroke="#000" stroke-width="2.5" stroke-linejoin="round" />
<polyline points="866.0,40.3 867.5,39.9 869.0,39.6 870.5,39.3 872.0,39.0 873.5,38.6 875.0,38.2 876.5,37.9 878.0,37.5 879.5,37.1 881.0,36.7 882.5,36.4 884.0,36.1" fill="none" stroke="#000" stroke-width="2.5" stroke-linejoin="round" />
<polyline points="506.0,59.7 507.5,59.7 509.0,59.7 510.5,59.7 512.0,59.7 513.5,59.7 515.0,59.7 516.5,59.7 518.0,59.7 519.5,59.7 521.0,59.7 522.5,59.7 524.0,59.7 525.5,59.7 527.0,59.7 528.5,59.7 530.0,59.7 531.5,59.7 533.0,59.7 534.5,59.7 536.0,59.7 537.5,59.6 539.0,59.6 540.5,59.5 542.0,59.5 543.5,59.4 545.0,59.4 546.5,59.3 548.0,59.2 549.5,59.2 551.0,59.1 552.5,59.1 554.0,59.0 555.5,59.0 557.0,58.9 558.5,58.8 560.0,58.8 561.5,58.7 563.0,58.7 564.5,58.6 566.0,58.7 567.5,58.7 569.0,58.8 570.5,58.9 572.0,59.0 573.5,59.1 575.0,59.2 576.5,59.3 578.0,59.4 579.5,59.5 581.0,59.6 582.5,59.7 584.0,59.8 585.5,59.9 587.0,59.9 588.5,59.8 590.0,59.7 591.5,59.6 593.0,59.5 594.5,59.4 596.0,59.3 597.5,59.2 599.0,59.1 600.5,59.1 602.0,59.0 603.5,59.0 605.0,58.9 606.5,58.9 608.0,58.9 609.5,59.1 611.0,59.4 612.5,59.8 614.0,60.3 615.5,60.7 617.0,61.2 618.5,61.8 620.0,62.3 621.5,62.7 623.0,62.9 624.5,63.0 626.0,63.1 627.5,63.0 629.0,62.7 630.5,62.3 632.0,61.9 633.5,61.4 635.0,60.8 636.5,60.1 638.0,59.2 639.5,58.2 641.0,57.3 642.5,56.7 644.0,56.4 645.5,56.5 647.0,56.7 648.5,57.0 650.0,57.2 651.5,57.3 653.0,57.4 654.5,57.4 656.0,57.5 657.5,57.5 659.0,57.5 660.5,57.4 662.0,57.3 663.5,57.2 665.0,57.1 666.5,56.9 668.0,56.6 669.5,56.3 671.0,56.0 672.5,55.7 674.0,55.4 675.5,55.1 677.0,54.8 678.5,54.5" fill="none" stroke="#000" stroke-width="2.4" stroke-linejoin="round" />
<polyline points="701.0,53.8 702.5,53.8 704.0,53.7 705.5,53.7 707.0,53.7 708.5,53.7 710.0,53.6 711.5,53.6 713.0,53.6 714.5,53.5 716.0,53.5 717.5,53.5 719.0,53.4 720.5,53.4 722.0,53.4 723.5,53.3 725.0,53.3 726.5,53.3 728.0,53.3 729.5,53.2 731.0,53.2 732.5,53.2 734.0,53.1 735.5,53.1 737.0,53.1 738.5,53.0 740.0,53.0 741.5,53.0 743.0,52.9 744.5,52.9 746.0,52.9 747.5,52.8 749.0,52.8 750.5,52.7 752.0,52.7 753.5,52.6 755.0,52.5 756.5,52.5 758.0,52.4 759.5,52.3 761.0,52.3 762.5,52.2 764.0,52.1 765.5,52.1 767.0,52.0 768.5,51.9 770.0,51.9 771.5,51.8 773.0,51.7 774.5,51.7 776.0,51.6 777.5,51.5 779.0,51.5 780.5,51.4 782.0,51.4 783.5,51.3 785.0,51.3 786.5,51.3 788.0,51.2 789.5,51.2 791.0,51.1 792.5,51.1 794.0,51.0 795.5,51.0 797.0,51.0 798.5,50.9 800.0,50.9 801.5,50.8 803.0,50.7 804.5,50.7 806.0,50.6 807.5,50.5 809.0,50.4 810.5,50.4 812.0,50.3 813.5,50.2 815.0,50.1 816.5,50.1 818.0,50.0 819.5,49.9 821.0,49.8 822.5,49.7 824.0,49.6 825.5,49.5 827.0,49.4 828.5,49.3 830.0,49.2 831.5,49.1 833.0,49.0 834.5,48.9 836.0,48.8 837.5,48.7 839.0,48.6 840.5,48.5 842.0,48.5 843.5,48.4 845.0,48.2 846.5,48.1 848.0,47.9 849.5,47.6" fill="none" stroke="#000" stroke-width="2.4" stroke-linejoin="round" />
<polyline points="866.0,43.9 867.5,43.4 869.0,43.0 870.5,42.6 872.0,42.1 873.5,41.6 875.0,41.1 876.5,40.6 878.0,40.1 879.5,39.6 881.0,39.1 882.5,38.6 884.0,38.2" fill="none" stroke="#000" stroke-width="2.4" stroke-linejoin="round" />
<polyline points="506.0,65.2 507.5,65.2 509.0,65.2 510.5,65.2 512.0,65.2 513.5,65.2 515.0,65.2 516.5,65.2 518.0,65.2 519.5,65.2 521.0,65.2 522.5,65.2 524.0,65.2 525.5,65.2 527.0,65.2 528.5,65.2 530.0,65.2 531.5,65.2 533.0,65.2 534.5,65.2 536.0,65.2 537.5,65.1 539.0,65.1 540.5,65.0 542.0,64.9 543.5,64.9 545.0,64.8 546.5,64.7 548.0,64.7 549.5,64.6 551.0,64.5 552.5,64.5 554.0,64.4 555.5,64.3 557.0,64.3 558.5,64.2 560.0,64.1 561.5,64.1 563.0,64.0 564.5,63.9 566.0,64.0 567.5,64.1 569.0,64.2 570.5,64.3 572.0,64.4 573.5,64.5 575.0,64.6 576.5,64.7 578.0,64.8 579.5,64.9 581.0,65.1 582.5,65.2 584.0,65.3 585.5,65.4 587.0,65.4 588.5,65.4 590.0,65.2 591.5,65.1 593.0,65.0 594.5,64.9 596.0,64.7 597.5,64.6 599.0,64.5 600.5,64.5 602.0,64.4 603.5,64.3 605.0,64.3 606.5,64.2 608.0,64.2 609.5,64.5 611.0,64.9 612.5,65.4 614.0,65.9 615.5,66.4 617.0,67.0 618.5,67.6 620.0,68.3 621.5,68.7 623.0,69.0 624.5,69.1 626.0,69.2 627.5,69.2 629.0,68.8 630.5,68.3 632.0,67.8 633.5,67.2 635.0,66.5 636.5,65.7 638.0,64.6 639.5,63.4 641.0,62.4 642.5,61.6 644.0,61.3 645.5,61.4 647.0,61.7 648.5,62.0 650.0,62.2 651.5,62.3 653.0,62.4 654.5,62.5 656.0,62.6 657.5,62.6 659.0,62.6 660.5,62.5 662.0,62.4 663.5,62.3 665.0,62.1 666.5,61.8 668.0,61.5 669.5,61.1 671.0,60.8 672.5,60.4 674.0,60.1 675.5,59.7 677.0,59.4 678.5,59.1" fill="none" stroke="#000" stroke-width="1.9" stroke-linejoin="round" />
<polyline points="701.0,58.2 702.5,58.2 704.0,58.1 705.5,58.1 707.0,58.1 708.5,58.0 710.0,58.0 711.5,58.0 713.0,57.9 714.5,57.9 716.0,57.9 717.5,57.8 719.0,57.8 720.5,57.7 722.0,57.7 723.5,57.7 725.0,57.6 726.5,57.6 728.0,57.6 729.5,57.5 731.0,57.5 732.5,57.4 734.0,57.4 735.5,57.4 737.0,57.3 738.5,57.3 740.0,57.3 741.5,57.2 743.0,57.2 744.5,57.2 746.0,57.1 747.5,57.1 749.0,57.0 750.5,56.9 752.0,56.9 753.5,56.8 755.0,56.7 756.5,56.6 758.0,56.5 759.5,56.5 761.0,56.4 762.5,56.3 764.0,56.2 765.5,56.2 767.0,56.1 768.5,56.0 770.0,55.9 771.5,55.8 773.0,55.8 774.5,55.7 776.0,55.6 777.5,55.5 779.0,55.4 780.5,55.4 782.0,55.3 783.5,55.3 785.0,55.2 786.5,55.2 788.0,55.1 789.5,55.1 791.0,55.0 792.5,55.0 794.0,54.9 795.5,54.9 797.0,54.8 798.5,54.8 800.0,54.7 801.5,54.7 803.0,54.6 804.5,54.5 806.0,54.4 807.5,54.3 809.0,54.2 810.5,54.1 812.0,54.0 813.5,53.9 815.0,53.9 816.5,53.8 818.0,53.7 819.5,53.6 821.0,53.5 822.5,53.4 824.0,53.2 825.5,53.1 827.0,53.0 828.5,52.9 830.0,52.8 831.5,52.7 833.0,52.6 834.5,52.4 836.0,52.3 837.5,52.2 839.0,52.1 840.5,52.0 842.0,51.9 843.5,51.8 845.0,51.6 846.5,51.4 848.0,51.2 849.5,50.9" fill="none" stroke="#000" stroke-width="1.9" stroke-linejoin="round" />
<polyline points="866.0,46.4 867.5,45.9 869.0,45.4 870.5,44.9 872.0,44.4 873.5,43.8 875.0,43.2 876.5,42.6 878.0,42.0 879.5,41.4 881.0,40.8 882.5,40.2 884.0,39.7" fill="none" stroke="#000" stroke-width="1.9" stroke-linejoin="round" />
<polyline points="506.0,69.0 507.5,69.0 509.0,69.0 510.5,69.0 512.0,69.0 513.5,69.0 515.0,69.0 516.5,69.0 518.0,69.0 519.5,69.0 521.0,69.0 522.5,69.0 524.0,69.0 525.5,69.0 527.0,69.0 528.5,69.0 530.0,69.0 531.5,69.0 533.0,69.0 534.5,69.0 536.0,69.0 537.5,68.9 539.0,68.9 540.5,68.8 542.0,68.7 543.5,68.6 545.0,68.6 546.5,68.5 548.0,68.4 549.5,68.3 551.0,68.3 552.5,68.2 554.0,68.1 555.5,68.0 557.0,68.0 558.5,67.9 560.0,67.8 561.5,67.7 563.0,67.7 564.5,67.6 566.0,67.6 567.5,67.7 569.0,67.8 570.5,68.0 572.0,68.1 573.5,68.2 575.0,68.3 576.5,68.4 578.0,68.6 579.5,68.7 581.0,68.8 582.5,69.0 584.0,69.1 585.5,69.2 587.0,69.3 588.5,69.2 590.0,69.0 591.5,68.9 593.0,68.8 594.5,68.6 596.0,68.5 597.5,68.4 599.0,68.3 600.5,68.2 602.0,68.1 603.5,68.1 605.0,68.0 606.5,67.9 608.0,67.9 609.5,68.2 611.0,68.6 612.5,69.2 614.0,69.7 615.5,70.4 617.0,71.0 618.5,71.7 620.0,72.4 621.5,72.9 623.0,73.2 624.5,73.3 626.0,73.5 627.5,73.4 629.0,73.0 630.5,72.4 632.0,71.8 633.5,71.2 635.0,70.4 636.5,69.5 638.0,68.3 639.5,67.0 641.0,65.9 642.5,65.1 644.0,64.7 645.5,64.8 647.0,65.1 648.5,65.5 650.0,65.7 651.5,65.8 653.0,65.9 654.5,66.0 656.0,66.1 657.5,66.1 659.0,66.1 660.5,66.0 662.0,65.9 663.5,65.8 665.0,65.6 666.5,65.3 668.0,64.9 669.5,64.5 671.0,64.1 672.5,63.7 674.0,63.3 675.5,63.0 677.0,62.6 678.5,62.2" fill="none" stroke="#000" stroke-width="0.8" stroke-linejoin="round" />
<polyline points="701.0,61.3 702.5,61.2 704.0,61.2 705.5,61.1 707.0,61.1 708.5,61.1 710.0,61.0 711.5,61.0 713.0,60.9 714.5,60.9 716.0,60.9 717.5,60.8 719.0,60.8 720.5,60.7 722.0,60.7 723.5,60.7 725.0,60.6 726.5,60.6 728.0,60.5 729.5,60.5 731.0,60.5 732.5,60.4 734.0,60.4 735.5,60.3 737.0,60.3 738.5,60.2 740.0,60.2 741.5,60.2 743.0,60.1 744.5,60.1 746.0,60.0 747.5,60.0 749.0,59.9 750.5,59.8 752.0,59.8 753.5,59.7 755.0,59.6 756.5,59.5 758.0,59.4 759.5,59.3 761.0,59.2 762.5,59.2 764.0,59.1 765.5,59.0 767.0,58.9 768.5,58.8 770.0,58.7 771.5,58.6 773.0,58.5 774.5,58.5 776.0,58.4 777.5,58.3 779.0,58.2 780.5,58.1 782.0,58.1 783.5,58.0 785.0,58.0 786.5,57.9 788.0,57.9 789.5,57.8 791.0,57.7 792.5,57.7 794.0,57.6 795.5,57.6 797.0,57.5 798.5,57.5 800.0,57.4 801.5,57.3 803.0,57.2 804.5,57.1 806.0,57.0 807.5,56.9 809.0,56.8 810.5,56.7 812.0,56.6 813.5,56.5 815.0,56.4 816.5,56.3 818.0,56.2 819.5,56.1 821.0,56.0 822.5,55.9 824.0,55.8 825.5,55.6 827.0,55.5 828.5,55.4 830.0,55.2 831.5,55.1 833.0,55.0 834.5,54.9 836.0,54.7 837.5,54.6 839.0,54.5 840.5,54.4 842.0,54.2 843.5,54.1 845.0,54.0 846.5,53.7 848.0,53.4 849.5,53.1" fill="none" stroke="#000" stroke-width="0.8" stroke-linejoin="round" />
<polyline points="866.0,48.2 867.5,47.6 869.0,47.1 870.5,46.5 872.0,45.9 873.5,45.3 875.0,44.6 876.5,43.9 878.0,43.3 879.5,42.6 881.0,41.9 882.5,41.3 884.0,40.8" fill="none" stroke="#000" stroke-width="0.8" stroke-linejoin="round" />
<polyline points="506.0,73.2 507.5,73.2 509.0,73.2 510.5,73.2" fill="none" stroke="#000" stroke-width="2.2" stroke-linejoin="round" />
<polyline points="534.5,73.2 536.0,73.2 537.5,73.1 539.0,73.0 540.5,73.0 542.0,72.9 543.5,72.8 545.0,72.7 546.5,72.6 548.0,72.5 549.5,72.5 551.0,72.4 552.5,72.3 554.0,72.2 555.5,72.1 557.0,72.0 558.5,72.0 560.0,71.9 561.5,71.8 563.0,71.7 564.5,71.7 566.0,71.7 567.5,71.8 569.0,71.9 570.5,72.0 572.0,72.2 573.5,72.3 575.0,72.4 576.5,72.6 578.0,72.7 579.5,72.9 581.0,73.0 582.5,73.2 584.0,73.3 585.5,73.5 587.0,73.5 588.5,73.4 590.0,73.3 591.5,73.1 593.0,72.9 594.5,72.8 596.0,72.6 597.5,72.5 599.0,72.4 600.5,72.3 602.0,72.2 603.5,72.2 605.0,72.1 606.5,72.0 608.0,72.0 609.5,72.3 611.0,72.8 612.5,73.4 614.0,74.0 615.5,74.7 617.0,75.5 618.5,76.2 620.0,77.0 621.5,77.6 623.0,77.9 624.5,78.0 626.0,78.1 627.5,78.0 629.0,77.6 630.5,77.0 632.0,76.3 633.5,75.6 635.0,74.8 636.5,73.8 638.0,72.5 639.5,71.0 641.0,69.7 642.5,68.8 644.0,68.5 645.5,68.5 647.0,68.9 648.5,69.3 650.0,69.5 651.5,69.7 653.0,69.8 654.5,69.9 656.0,70.0 657.5,70.0 659.0,69.9 660.5,69.8 662.0,69.7 663.5,69.6 665.0,69.4 666.5,69.1 668.0,68.6 669.5,68.2 671.0,67.8 672.5,67.4 674.0,67.0 675.5,66.6 677.0,66.2 678.5,65.9" fill="none" stroke="#000" stroke-width="2.2" stroke-linejoin="round" />
<polyline points="702.5,65.3 704.0,65.2 705.5,65.2 707.0,65.2 708.5,65.1 710.0,65.1 711.5,65.0 713.0,65.0 714.5,64.9 716.0,64.9 717.5,64.8 719.0,64.8 720.5,64.7 722.0,64.7 723.5,64.7 725.0,64.6 726.5,64.6 728.0,64.5 729.5,64.5 731.0,64.4 732.5,64.4 734.0,64.3 735.5,64.3 737.0,64.2 738.5,64.2 740.0,64.1 741.5,64.1 743.0,64.1 744.5,64.0 746.0,64.0 747.5,63.9 749.0,63.8 750.5,63.7 752.0,63.6 753.5,63.5 755.0,63.4 756.5,63.3 758.0,63.2 759.5,63.1 761.0,63.0 762.5,62.9 764.0,62.9 765.5,62.8 767.0,62.7 768.5,62.6 770.0,62.5 771.5,62.4 773.0,62.3 774.5,62.2 776.0,62.1 777.5,62.0 779.0,61.9 780.5,61.8 782.0,61.7 783.5,61.7 785.0,61.6 786.5,61.5 788.0,61.5 789.5,61.4 791.0,61.4 792.5,61.3 794.0,61.2 795.5,61.2 797.0,61.1 798.5,61.1 800.0,61.0 801.5,60.9 803.0,60.8 804.5,60.7 806.0,60.5 807.5,60.4 809.0,60.3 810.5,60.2 812.0,60.1 813.5,60.0 815.0,59.9 816.5,59.8 818.0,59.6 819.5,59.5 821.0,59.4 822.5,59.3 824.0,59.1 825.5,59.0 827.0,58.8 828.5,58.7 830.0,58.5 831.5,58.4 833.0,58.2 834.5,58.1 836.0,58.0 837.5,57.8 839.0,57.7 840.5,57.5 842.0,57.4 843.5,57.2 845.0,57.1 846.5,56.8 848.0,56.5 849.5,56.1" fill="none" stroke="#000" stroke-width="2.2" stroke-linejoin="round" />
<polyline points="866.0,50.6 867.5,49.9 869.0,49.3 870.5,48.6 872.0,48.0 873.5,47.2 875.0,46.5 876.5,45.8 878.0,45.0 879.5,44.2 881.0,43.5 882.5,42.8 884.0,42.2" fill="none" stroke="#000" stroke-width="2.2" stroke-linejoin="round" />
<polyline points="506.0,78.0 507.5,78.0 509.0,78.0 510.5,77.9 512.0,77.9 513.5,77.9 515.0,77.9 516.5,77.8 518.0,77.8 519.5,77.8 521.0,77.8 522.5,77.7 524.0,77.7 525.5,77.7 527.0,77.7 528.5,77.6 530.0,77.6 531.5,77.6 533.0,77.6 534.5,77.5 536.0,77.5 537.5,77.5 539.0,77.4 540.5,77.4 542.0,77.4 543.5,77.4 545.0,77.3 546.5,77.3 548.0,77.3 549.5,77.3 551.0,77.2 552.5,77.2 554.0,77.2 555.5,77.2 557.0,77.1 558.5,77.1 560.0,77.1 561.5,77.1 563.0,77.0 564.5,77.0 566.0,77.1 567.5,77.2 569.0,77.3 570.5,77.4 572.0,77.5 573.5,77.6 575.0,77.7 576.5,77.8 578.0,77.9 579.5,78.0 581.0,78.1 582.5,78.2 584.0,78.4 585.5,78.5 587.0,78.6 588.5,78.7 590.0,78.7 591.5,78.6 593.0,78.3 594.5,78.1 596.0,77.9 597.5,77.6 599.0,77.4 600.5,77.2 602.0,76.9 603.5,76.7 605.0,76.5 606.5,76.2 608.0,76.2 609.5,76.5 611.0,77.3 612.5,78.2 614.0,79.1 615.5,80.2 617.0,81.3 618.5,82.4 620.0,83.6 621.5,84.5 623.0,85.1 624.5,85.4 626.0,85.5 627.5,85.2 629.0,84.6 630.5,84.0 632.0,83.3 633.5,82.3 635.0,80.8 636.5,79.1 638.0,77.7 639.5,76.4 641.0,74.8 642.5,73.4 644.0,73.0 645.5,73.4 647.0,74.0 648.5,74.5 650.0,74.9 651.5,75.1 653.0,75.3 654.5,75.6 656.0,75.7 657.5,75.8 659.0,75.6 660.5,75.4 662.0,75.2 663.5,75.0 665.0,74.7 666.5,74.3 668.0,73.7 669.5,73.2 671.0,72.6 672.5,72.1 674.0,71.6 675.5,71.2 677.0,70.8 678.5,70.4 680.0,70.1 681.5,70.0 683.0,70.0 684.5,70.0 686.0,70.0 687.5,70.0 689.0,70.0 690.5,70.0 692.0,70.0 693.5,70.0 695.0,70.0 696.5,70.0 698.0,69.9 699.5,69.9 701.0,69.9 702.5,69.9 704.0,69.9 705.5,69.9 707.0,69.9 708.5,69.9 710.0,69.9 711.5,69.9 713.0,69.9 714.5,69.9 716.0,69.9 717.5,69.8 719.0,69.7 720.5,69.7 722.0,69.6 723.5,69.6 725.0,69.5 726.5,69.4 728.0,69.4 729.5,69.3 731.0,69.3 732.5,69.2 734.0,69.2 735.5,69.1 737.0,69.0 738.5,69.0 740.0,68.9 741.5,68.9 743.0,68.8 744.5,68.7 746.0,68.7 747.5,68.6 749.0,68.5 750.5,68.3 752.0,68.2 753.5,68.0 755.0,67.9 756.5,67.7 758.0,67.5 759.5,67.4 761.0,67.2 762.5,67.1 764.0,66.9 765.5,66.7 767.0,66.6 768.5,66.4 770.0,66.3 771.5,66.1 773.0,65.9 774.5,65.8 776.0,65.6 777.5,65.5 779.0,65.3 780.5,65.2 782.0,65.0 783.5,64.9 785.0,64.8 786.5,64.6 788.0,64.5 789.5,64.4 791.0,64.3 792.5,64.1 794.0,64.0 795.5,63.9 797.0,63.8 798.5,63.6 800.0,63.5 801.5,63.4 803.0,63.3 804.5,63.2 806.0,63.0 807.5,62.9 809.0,62.8 810.5,62.7 812.0,62.6 813.5,62.5 815.0,62.4 816.5,62.3 818.0,62.1 819.5,62.0 821.0,61.9 822.5,61.8 824.0,61.7 825.5,61.6 827.0,61.5 828.5,61.3 830.0,61.2 831.5,61.1 833.0,61.0 834.5,60.9 836.0,60.8 837.5,60.7 839.0,60.5 840.5,60.4 842.0,60.3 843.5,60.2 845.0,60.1 846.5,59.9 848.0,59.7 849.5,59.5" fill="none" stroke="#000" stroke-width="0.8" stroke-linejoin="round" />
<polyline points="866.0,55.2 867.5,54.6 869.0,53.9 870.5,53.2 872.0,52.5 873.5,51.8 875.0,51.1 876.5,50.4 878.0,49.8 879.5,49.1 881.0,48.4 882.5,47.7 884.0,47.2" fill="none" stroke="#000" stroke-width="0.8" stroke-linejoin="round" />
<polyline points="506.0,85.3 507.5,85.4 509.0,85.6 510.5,85.8 512.0,86.0" fill="none" stroke="#000" stroke-width="2.6" stroke-linejoin="round" />
<polyline points="530.0,86.0 531.5,86.0 533.0,85.9 534.5,85.9 536.0,85.8 537.5,85.8 539.0,85.7 540.5,85.7 542.0,85.6 543.5,85.6 545.0,85.5 546.5,85.5 548.0,85.4 549.5,85.4 551.0,85.3 552.5,85.3 554.0,85.2 555.5,85.2 557.0,85.1 558.5,85.1 560.0,85.1 561.5,85.2 563.0,85.2 564.5,85.3 566.0,85.3 567.5,85.3 569.0,85.4 570.5,85.4 572.0,85.4 573.5,85.5 575.0,85.5 576.5,85.6 578.0,85.8 579.5,85.9 581.0,86.0 582.5,86.1 584.0,86.3 585.5,86.4 587.0,86.5 588.5,86.7 590.0,86.8 591.5,86.9 593.0,86.8 594.5,86.5 596.0,86.2 597.5,85.9 599.0,85.6 600.5,85.3 602.0,84.9 603.5,84.6 605.0,84.3 606.5,84.0 608.0,83.9 609.5,84.7 611.0,86.3 612.5,88.1 614.0,89.7 615.5,90.9 617.0,92.0 618.5,92.8 620.0,93.4 621.5,93.8 623.0,94.1 624.5,94.1 626.0,93.6 627.5,93.1 629.0,92.4 630.5,91.5 632.0,90.5 633.5,89.3 635.0,88.2 636.5,86.9 638.0,85.3 639.5,83.6 641.0,82.0 642.5,80.6 644.0,80.1 645.5,80.5 647.0,81.3 648.5,82.0 650.0,82.5 651.5,82.9 653.0,83.2 654.5,83.5 656.0,83.8 657.5,83.9 659.0,83.6 660.5,83.3 662.0,83.0 663.5,82.6 665.0,82.2 666.5,81.5 668.0,80.8 669.5,80.0 671.0,79.3 672.5,78.6 674.0,78.1 675.5,77.7 677.0,77.3" fill="none" stroke="#000" stroke-width="2.6" stroke-linejoin="round" />
<polyline points="693.5,76.3 695.0,76.2 696.5,76.2 698.0,76.1 699.5,76.0 701.0,76.0 702.5,75.9 704.0,75.8 705.5,75.8 707.0,75.7 708.5,75.6 710.0,75.6 711.5,75.5 713.0,75.4 714.5,75.4 716.0,75.3 717.5,75.2 719.0,75.1 720.5,75.1 722.0,75.0 723.5,74.9 725.0,74.9 726.5,74.8 728.0,74.7 729.5,74.7 731.0,74.6 732.5,74.5 734.0,74.4 735.5,74.4 737.0,74.3 738.5,74.2 740.0,74.2 741.5,74.1 743.0,74.0 744.5,74.0 746.0,73.9 747.5,73.9 749.0,73.9 750.5,74.1 752.0,74.3 753.5,74.5 755.0,74.7 756.5,74.9 758.0,75.0 759.5,75.2 761.0,75.4 762.5,75.6 764.0,75.6 765.5,75.2 767.0,74.5 768.5,73.9 770.0,73.2 771.5,72.6 773.0,72.0 774.5,71.3 776.0,70.7 777.5,70.1 779.0,69.5 780.5,69.0 782.0,68.7 783.5,68.4 785.0,68.1 786.5,67.9 788.0,67.6 789.5,67.3 791.0,67.1 792.5,66.8 794.0,66.5 795.5,66.3 797.0,66.0 798.5,65.8 800.0,65.5 801.5,65.4 803.0,65.3 804.5,65.2 806.0,65.0 807.5,64.9 809.0,64.8 810.5,64.7 812.0,64.6 813.5,64.5 815.0,64.4 816.5,64.3 818.0,64.2 819.5,64.0 821.0,63.9 822.5,63.9 824.0,63.8 825.5,63.7 827.0,63.6 828.5,63.5 830.0,63.4 831.5,63.3 833.0,63.2 834.5,63.2 836.0,63.1 837.5,63.0 839.0,62.9 840.5,62.8 842.0,62.7 843.5,62.6 845.0,62.6 846.5,62.5 848.0,62.4 849.5,62.4" fill="none" stroke="#000" stroke-width="2.6" stroke-linejoin="round" />
<polyline points="866.0,59.5 867.5,58.9 869.0,58.2 870.5,57.6 872.0,57.0 873.5,56.4 875.0,55.8 876.5,55.1 878.0,54.5 879.5,53.9 881.0,53.2 882.5,52.6 884.0,52.2" fill="none" stroke="#000" stroke-width="2.6" stroke-linejoin="round" />
<polyline points="506.0,99.8 507.5,99.9 509.0,100.0 510.5,100.2 512.0,100.3 513.5,100.4 515.0,100.6 516.5,100.8 518.0,100.9 519.5,101.0 521.0,101.2 522.5,101.3 524.0,101.3 525.5,101.2 527.0,101.1 528.5,101.0 530.0,100.8 531.5,100.7 533.0,100.6 534.5,100.5 536.0,100.4 537.5,100.2 539.0,100.1 540.5,100.0 542.0,99.9 543.5,99.8 545.0,99.6 546.5,99.5 548.0,99.4 549.5,99.3 551.0,99.2 552.5,99.0 554.0,98.9 555.5,98.8 557.0,98.7 558.5,98.6 560.0,98.7 561.5,98.7 563.0,98.8 564.5,98.8 566.0,98.9 567.5,98.9 569.0,99.0 570.5,99.0 572.0,99.1 573.5,99.1 575.0,99.2 576.5,99.3 578.0,99.3 579.5,99.4 581.0,99.4 582.5,99.5 584.0,99.5 585.5,99.6 587.0,99.6 588.5,99.7 590.0,99.7 591.5,99.7 593.0,99.6 594.5,99.3 596.0,98.9 597.5,98.5 599.0,98.1 600.5,97.8 602.0,97.4 603.5,97.0 605.0,96.6 606.5,96.3 608.0,96.2 609.5,97.3 611.0,99.4 612.5,101.8 614.0,103.9 615.5,105.2 617.0,105.8 618.5,106.3 620.0,106.8 621.5,107.2 623.0,107.1 624.5,106.8 626.0,106.4 627.5,105.9 629.0,105.5 630.5,104.7 632.0,103.1 633.5,100.9 635.0,98.7 636.5,96.5 638.0,94.6 639.5,92.9 641.0,91.2 642.5,90.2 644.0,90.2 645.5,90.8 647.0,91.6 648.5,92.4 650.0,93.1 651.5,93.5 653.0,93.9 654.5,94.4 656.0,94.7 657.5,94.8 659.0,94.4 660.5,93.8 662.0,93.3 663.5,92.7 665.0,92.1 666.5,91.3 668.0,90.5 669.5,89.6 671.0,88.8 672.5,87.9 674.0,87.3 675.5,86.7 677.0,86.1 678.5,85.6 680.0,85.1 681.5,84.9 683.0,84.8 684.5,84.7 686.0,84.5 687.5,84.4 689.0,84.3 690.5,84.2 692.0,84.1 693.5,84.0 695.0,83.9 696.5,83.8 698.0,83.7 699.5,83.5 701.0,83.5 702.5,83.4 704.0,83.3 705.5,83.2 707.0,83.2 708.5,83.1 710.0,83.0 711.5,83.0 713.0,82.9 714.5,82.8 716.0,82.8 717.5,82.7 719.0,82.7 720.5,82.7 722.0,82.6 723.5,82.6 725.0,82.6 726.5,82.5 728.0,82.5 729.5,82.4 731.0,82.4 732.5,82.4 734.0,82.3 735.5,82.3 737.0,82.3 738.5,82.2 740.0,82.2 741.5,82.2 743.0,82.1 744.5,82.1 746.0,82.0 747.5,82.0 749.0,82.1 750.5,82.1 752.0,82.2 753.5,82.3 755.0,82.3 756.5,82.4 758.0,82.5 759.5,82.6 761.0,82.7 762.5,82.7 764.0,82.5 765.5,81.8 767.0,80.8 768.5,79.8 770.0,78.8 771.5,77.8 773.0,76.8 774.5,75.8 776.0,74.8 777.5,73.9 779.0,72.9 780.5,72.2 782.0,71.7 783.5,71.3 785.0,71.0 786.5,70.6 788.0,70.2 789.5,69.9 791.0,69.5 792.5,69.1 794.0,68.8 795.5,68.4 797.0,68.0 798.5,67.7 800.0,67.4 801.5,67.2 803.0,67.0 804.5,66.9 806.0,66.8 807.5,66.6 809.0,66.5 810.5,66.4 812.0,66.2 813.5,66.1 815.0,66.0 816.5,65.8 818.0,65.7 819.5,65.6 821.0,65.5 822.5,65.5 824.0,65.4 825.5,65.4 827.0,65.4 828.5,65.3 830.0,65.3 831.5,65.3 833.0,65.2 834.5,65.2 836.0,65.2 837.5,65.2 839.0,65.1 840.5,65.1 842.0,65.1 843.5,65.0 845.0,65.0 846.5,64.8 848.0,64.5 849.5,64.2 851.0,63.8 852.5,63.5 854.0,63.1 855.5,62.8 857.0,62.4 858.5,62.0 860.0,61.7 861.5,61.3 863.0,61.0 864.5,60.6 866.0,60.3 867.5,59.9 869.0,59.6 870.5,59.2 872.0,58.8 873.5,58.5 875.0,58.1 876.5,57.8 878.0,57.4 879.5,57.1 881.0,56.7 882.5,56.4 884.0,56.1" fill="none" stroke="#000" stroke-width="0.8" stroke-linejoin="round" />
<polyline points="506.0,121.9 507.5,122.0 509.0,122.3 510.5,122.6 512.0,122.9 513.5,123.2 515.0,123.5 516.5,123.6 518.0,123.6 519.5,123.5 521.0,123.5 522.5,123.4" fill="none" stroke="#000" stroke-width="2.7" stroke-linejoin="round" />
<polyline points="542.0,122.5 543.5,122.4 545.0,122.4 546.5,122.3 548.0,122.3 549.5,122.2 551.0,122.2 552.5,122.1 554.0,122.1 555.5,122.0 557.0,122.0 558.5,121.9 560.0,121.9 561.5,121.8 563.0,121.8 564.5,121.7 566.0,121.7 567.5,121.6 569.0,121.6 570.5,121.5 572.0,121.5 573.5,121.4 575.0,121.4 576.5,121.3 578.0,121.3 579.5,121.2 581.0,121.2 582.5,121.1 584.0,121.0 585.5,121.0 587.0,120.9 588.5,120.9 590.0,120.8 591.5,120.8 593.0,120.7 594.5,120.5 596.0,120.3 597.5,120.1 599.0,119.9 600.5,119.8 602.0,119.6 603.5,119.4 605.0,119.2 606.5,119.0 608.0,119.2 609.5,120.1 611.0,121.3 612.5,122.5 614.0,123.4 615.5,123.9 617.0,124.3 618.5,124.8 620.0,125.1 621.5,125.0 623.0,124.6 624.5,124.0 626.0,123.4 627.5,122.8 629.0,122.1 630.5,121.3 632.0,120.2 633.5,118.9 635.0,117.6 636.5,116.3 638.0,115.0 639.5,113.7 641.0,112.4 642.5,111.2 644.0,110.4 645.5,110.3 647.0,110.3 648.5,110.4 650.0,110.4 651.5,110.5 653.0,110.5 654.5,110.2 656.0,109.6 657.5,108.8 659.0,108.0 660.5,107.3 662.0,106.5 663.5,105.7 665.0,104.8 666.5,103.9 668.0,102.9 669.5,102.0 671.0,101.0 672.5,99.9 674.0,98.5 675.5,97.0 677.0,95.9 678.5,95.4 680.0,95.2 681.5,95.2 683.0,95.3 684.5,95.4 686.0,95.5 687.5,95.6" fill="none" stroke="#000" stroke-width="2.7" stroke-linejoin="round" />
<polyline points="705.5,96.3 707.0,96.3 708.5,96.2 710.0,96.2 711.5,96.1 713.0,96.1 714.5,96.0 716.0,96.0 717.5,95.9 719.0,95.9 720.5,95.8 722.0,95.8 723.5,95.7 725.0,95.7 726.5,95.6 728.0,95.6 729.5,95.5 731.0,95.5 732.5,95.4 734.0,95.4 735.5,95.3 737.0,95.3 738.5,95.2 740.0,95.2 741.5,95.1 743.0,95.1 744.5,95.0 746.0,94.9 747.5,94.5 749.0,94.1 750.5,93.6 752.0,93.1 753.5,92.7 755.0,92.2 756.5,91.8 758.0,91.3 759.5,90.8 761.0,90.4 762.5,89.9 764.0,89.4 765.5,89.0 767.0,88.3 768.5,87.2 770.0,85.8 771.5,84.5 773.0,83.2 774.5,81.9 776.0,80.6 777.5,79.2 779.0,78.0 780.5,76.8 782.0,75.7 783.5,74.7 785.0,73.6 786.5,72.5 788.0,71.4 789.5,70.5 791.0,70.0 792.5,69.7 794.0,69.6 795.5,69.4 797.0,69.3 798.5,69.1 800.0,68.9 801.5,68.8 803.0,68.6 804.5,68.5 806.0,68.3 807.5,68.1 809.0,68.0 810.5,67.8 812.0,67.7 813.5,67.5 815.0,67.3 816.5,67.2 818.0,67.0 819.5,66.9 821.0,66.7 822.5,66.5 824.0,66.4 825.5,66.2 827.0,66.1 828.5,65.9 830.0,65.7 831.5,65.6 833.0,65.4 834.5,65.3 836.0,65.1 837.5,64.9 839.0,64.8 840.5,64.6 842.0,64.5 843.5,64.3 845.0,64.1 846.5,64.0 848.0,63.8 849.5,63.7 851.0,63.5 852.5,63.4 854.0,63.2 855.5,63.0 857.0,62.9 858.5,62.7 860.0,62.6 861.5,62.4 863.0,62.2 864.5,62.1 866.0,61.9 867.5,61.8 869.0,61.6 870.5,61.4 872.0,61.3 873.5,61.1 875.0,61.0 876.5,60.8 878.0,60.6 879.5,60.5 881.0,60.3 882.5,60.2 884.0,60.0" fill="none" stroke="#000" stroke-width="2.7" stroke-linejoin="round" />
<polyline points="506.0,157.9 507.5,157.8 509.0,157.8 510.5,157.7 512.0,157.5 513.5,157.4 515.0,157.3 516.5,157.2 518.0,157.1 519.5,157.0 521.0,156.9 522.5,156.8 524.0,156.7 525.5,156.6 527.0,156.5 528.5,156.4 530.0,156.3 531.5,156.2 533.0,156.1 534.5,156.0 536.0,155.8 537.5,155.7 539.0,155.6 540.5,155.5 542.0,155.5 543.5,155.4 545.0,155.3 546.5,155.2 548.0,155.2 549.5,155.1 551.0,155.0 552.5,154.9 554.0,154.8 555.5,154.8 557.0,154.7 558.5,154.6 560.0,154.5 561.5,154.4 563.0,154.4 564.5,154.3 566.0,154.2 567.5,154.1 569.0,154.1 570.5,154.1 572.0,154.1 573.5,154.2 575.0,154.3 576.5,154.5 578.0,154.6 579.5,154.7 581.0,154.8 582.5,154.9 584.0,155.0 585.5,155.1 587.0,155.2 588.5,155.3 590.0,155.4 591.5,155.5 593.0,155.5 594.5,155.3 596.0,154.9 597.5,154.6 599.0,154.2 600.5,153.9 602.0,153.6 603.5,153.2 605.0,152.9 606.5,152.6 608.0,152.3 609.5,152.3 611.0,152.7 612.5,153.2 614.0,153.8 615.5,154.3 617.0,154.8 618.5,155.4 620.0,155.9 621.5,156.4 623.0,157.0 624.5,157.5 626.0,157.8 627.5,157.9 629.0,157.9 630.5,157.9 632.0,157.6 633.5,156.6 635.0,154.9 636.5,153.0 638.0,151.2 639.5,149.3 641.0,147.2 642.5,144.1 644.0,140.8 645.5,138.9 647.0,138.2 648.5,137.7 650.0,137.1 651.5,136.6 653.0,135.9 654.5,135.0 656.0,133.9 657.5,132.6 659.0,131.2 660.5,129.7 662.0,128.2 663.5,126.7 665.0,125.1 666.5,123.6 668.0,122.0 669.5,120.8 671.0,120.1 672.5,119.9 674.0,119.8 675.5,119.7 677.0,119.7 678.5,119.6 680.0,119.5 681.5,119.5 683.0,119.4 684.5,119.3 686.0,119.3 687.5,119.2 689.0,119.1 690.5,119.0 692.0,119.0 693.5,118.9 695.0,118.8 696.5,118.8 698.0,118.7 699.5,118.6 701.0,118.6 702.5,118.5 704.0,118.4 705.5,118.3 707.0,118.3 708.5,118.2 710.0,118.1 711.5,118.1 713.0,118.0 714.5,117.9 716.0,117.9 717.5,117.8 719.0,117.7 720.5,117.6 722.0,117.6 723.5,117.5 725.0,117.4 726.5,117.4 728.0,117.3 729.5,117.2 731.0,117.1 732.5,117.1 734.0,117.0 735.5,116.9 737.0,116.9 738.5,116.8 740.0,116.7 741.5,116.7 743.0,116.6 744.5,116.5 746.0,116.4 747.5,116.4 749.0,116.3 750.5,116.2 752.0,116.2 753.5,116.1 755.0,116.0 756.5,116.0 758.0,115.9 759.5,115.8 761.0,115.7 762.5,115.7 764.0,115.6 765.5,115.5 767.0,115.5 768.5,115.4 770.0,115.3 771.5,115.3 773.0,115.2 774.5,115.1 776.0,115.0 777.5,115.0 779.0,114.9 780.5,114.8 782.0,114.8 783.5,114.7 785.0,114.6 786.5,114.6 788.0,114.5 789.5,114.4 791.0,114.3 792.5,114.3 794.0,114.2 795.5,114.1 797.0,114.1 798.5,114.0 800.0,113.9 801.5,113.9 803.0,113.8 804.5,113.7 806.0,113.6 807.5,113.6 809.0,113.5 810.5,113.4 812.0,113.4 813.5,113.3 815.0,113.2 816.5,113.2 818.0,113.1 819.5,113.0 821.0,112.9 822.5,112.9 824.0,112.8 825.5,112.7 827.0,112.7 828.5,112.6 830.0,112.5 831.5,112.5 833.0,112.4 834.5,112.3 836.0,112.2 837.5,112.2 839.0,112.1 840.5,112.0 842.0,112.0 843.5,111.9 845.0,111.8 846.5,111.8 848.0,111.7 849.5,111.6 851.0,111.5 852.5,111.5 854.0,111.4 855.5,111.3 857.0,111.3 858.5,111.2 860.0,111.1 861.5,111.1 863.0,111.0 864.5,110.9 866.0,110.8 867.5,110.8 869.0,110.7 870.5,110.6 872.0,110.6 873.5,110.5 875.0,110.4 876.5,110.4 878.0,110.3 879.5,110.2 881.0,110.1 882.5,110.1 884.0,110.0" fill="none" stroke="#000" stroke-width="0.8" stroke-linejoin="round" />
<polyline points="506.0,217.7 507.5,217.9 509.0,218.4 510.5,218.9 512.0,219.4 513.5,219.9 515.0,220.3 516.5,220.8 518.0,221.3 519.5,221.8 521.0,222.3 522.5,222.6 524.0,222.5 525.5,221.9 527.0,221.2" fill="none" stroke="#000" stroke-width="2.9" stroke-linejoin="round" />
<polyline points="546.5,212.7 548.0,212.2 549.5,211.7 551.0,211.3 552.5,210.8 554.0,210.4 555.5,210.0 557.0,209.5 558.5,209.1 560.0,208.6 561.5,208.2 563.0,207.8 564.5,207.3 566.0,206.9 567.5,206.4 569.0,206.0 570.5,205.5 572.0,205.1 573.5,204.8 575.0,204.9 576.5,205.4 578.0,206.2 579.5,206.9 581.0,207.7 582.5,208.4 584.0,209.2 585.5,209.9 587.0,210.7 588.5,211.3 590.0,211.6 591.5,211.4 593.0,211.0 594.5,210.6 596.0,210.2 597.5,209.8 599.0,209.0 600.5,207.4 602.0,205.6 603.5,203.8 605.0,202.0 606.5,200.2 608.0,199.4 609.5,200.6 611.0,202.7 612.5,204.8 614.0,208.2 615.5,213.8 617.0,220.7 618.5,226.7 620.0,230.8 621.5,233.9 623.0,236.9 624.5,238.8 626.0,238.7 627.5,237.6 629.0,236.3 630.5,234.8 632.0,233.2 633.5,231.6 635.0,230.4 636.5,229.8 638.0,229.6 639.5,229.5 641.0,229.3 642.5,229.1 644.0,228.9 645.5,228.7 647.0,228.6 648.5,228.4 650.0,228.2 651.5,228.0 653.0,227.8 654.5,227.7 656.0,227.5 657.5,227.3 659.0,227.1 660.5,226.9 662.0,226.7 663.5,226.6 665.0,226.4 666.5,226.2 668.0,226.0 669.5,225.8 671.0,225.7 672.5,225.5 674.0,225.3 675.5,225.1 677.0,224.9 678.5,224.8 680.0,224.6 681.5,224.4 683.0,224.2 684.5,224.0 686.0,223.9 687.5,223.7 689.0,223.5 690.5,223.3 692.0,223.1 693.5,223.0 695.0,222.8 696.5,222.6 698.0,222.4 699.5,222.2 701.0,222.0 702.5,221.9 704.0,221.7 705.5,221.5 707.0,221.3 708.5,221.1 710.0,221.0 711.5,220.8 713.0,220.6 714.5,220.4 716.0,220.2 717.5,220.1 719.0,219.9 720.5,219.7 722.0,219.5 723.5,219.3 725.0,219.2 726.5,219.0 728.0,218.8 729.5,218.6 731.0,218.4 732.5,218.3 734.0,218.1 735.5,217.9 737.0,217.7 738.5,217.5 740.0,217.3 741.5,217.2 743.0,217.0 744.5,216.8 746.0,216.6 747.5,216.4 749.0,216.3 750.5,216.1 752.0,215.9 753.5,215.7 755.0,215.5 756.5,215.4 758.0,215.2 759.5,215.0 761.0,214.8 762.5,214.6 764.0,214.5 765.5,214.3 767.0,214.1 768.5,213.9 770.0,213.7 771.5,213.6 773.0,213.4 774.5,213.2 776.0,213.0 777.5,212.8 779.0,212.7 780.5,212.5 782.0,212.3 783.5,212.1 785.0,211.9 786.5,211.7 788.0,211.6 789.5,211.4 791.0,211.2 792.5,211.0 794.0,210.8 795.5,210.7 797.0,210.5 798.5,210.3 800.0,210.1 801.5,209.9 803.0,209.8 804.5,209.6 806.0,209.4 807.5,209.2 809.0,209.0 810.5,208.9 812.0,208.7 813.5,208.5 815.0,208.3 816.5,208.1 818.0,208.0 819.5,207.8 821.0,207.6 822.5,207.4 824.0,207.2 825.5,207.0 827.0,206.9 828.5,206.7 830.0,206.5 831.5,206.3 833.0,206.1 834.5,206.0 836.0,205.8 837.5,205.6 839.0,205.4 840.5,205.2 842.0,205.1 843.5,204.9 845.0,204.7 846.5,204.5 848.0,204.3 849.5,204.2 851.0,204.0 852.5,203.8 854.0,203.6 855.5,203.4 857.0,203.3 858.5,203.1 860.0,202.9 861.5,202.7 863.0,202.5 864.5,202.3 866.0,202.2 867.5,202.0 869.0,201.8 870.5,201.6 872.0,201.4 873.5,201.3 875.0,201.1 876.5,200.9 878.0,200.7 879.5,200.5 881.0,200.4 882.5,200.2 884.0,200.0" fill="none" stroke="#000" stroke-width="2.9" stroke-linejoin="round" />
<polygon points="672.0,30.0 886.0,30.0 886.0,40.0 884.0,34.9 879.5,35.7 875.0,36.6 870.5,37.5 866.0,38.2 861.5,39.0 857.0,39.7 852.5,40.1 848.0,40.6 843.5,40.9 839.0,41.1 834.5,41.2 830.0,41.4 825.5,41.6 821.0,41.8 816.5,41.9 812.0,42.0 807.5,42.2 803.0,42.3 798.5,42.4 794.0,42.5 789.5,42.6 785.0,42.6 780.5,42.7 776.0,42.8 771.5,42.9 767.0,43.1 762.5,43.2 758.0,43.3 753.5,43.4 749.0,43.5 744.5,43.6 740.0,43.7 735.5,43.7 731.0,43.8 726.5,43.8 722.0,43.9 717.5,43.9 713.0,44.0 708.5,44.0 704.0,44.1 699.5,44.2 695.0,44.2 690.5,44.2 686.0,44.2 681.5,44.2 677.0,44.5 672.5,44.9" fill="#000" fill-opacity="0.72"/>
<polygon points="700.0,30.0 886.0,30.0 886.0,36.0 884.0,33.4 879.5,34.0 875.0,34.6 870.5,35.2 866.0,35.8 861.5,36.3 857.0,36.8 852.5,37.1 848.0,37.4 843.5,37.6 839.0,37.7 834.5,37.9 830.0,38.0 825.5,38.1 821.0,38.2 816.5,38.3 812.0,38.4 807.5,38.5 803.0,38.6 798.5,38.7 794.0,38.7 789.5,38.8 785.0,38.8 780.5,38.9 776.0,39.0 771.5,39.1 767.0,39.1 762.5,39.2 758.0,39.3 753.5,39.4 749.0,39.5 744.5,39.5 740.0,39.6 735.5,39.6 731.0,39.6 726.5,39.7 722.0,39.7 717.5,39.8 713.0,39.8 708.5,39.8 704.0,39.9" fill="#000" fill-opacity="0.6"/>
<text x="527.8" y="35.4" font-size="12" fill="#000" text-anchor="start" font-weight="normal" >200</text>
<text x="680.5" y="41.5" font-size="12" fill="#000" text-anchor="start" font-weight="normal" fill-opacity="0.85">220</text>
<text x="680.5" y="45.5" font-size="12" fill="#000" text-anchor="start" font-weight="normal" fill-opacity="0.85">200</text>
<text x="680.5" y="49.5" font-size="12" fill="#000" text-anchor="start" font-weight="normal" fill-opacity="0.85">180</text>
<text x="680.5" y="53.5" font-size="12" fill="#000" text-anchor="start" font-weight="normal" fill-opacity="0.85">160</text>
<text x="680.5" y="57.5" font-size="12" fill="#000" text-anchor="start" font-weight="normal" fill-opacity="0.85">140</text>
<text x="680.5" y="62.0" font-size="12" fill="#000" text-anchor="start" font-weight="normal" fill-opacity="0.85">120</text>
<text x="851.0" y="41.0" font-size="12" fill="#000" text-anchor="start" font-weight="normal" fill-opacity="0.8">200</text>
<text x="851.0" y="45.0" font-size="12" fill="#000" text-anchor="start" font-weight="normal" fill-opacity="0.8">180</text>
<text x="850.5" y="49.0" font-size="12" fill="#000" text-anchor="start" font-weight="normal" fill-opacity="0.8">160</text>
<text x="850.0" y="53.0" font-size="12" fill="#000" text-anchor="start" font-weight="normal" fill-opacity="0.8">140</text>
<text x="849.0" y="57.0" font-size="12" fill="#000" text-anchor="start" font-weight="normal" fill-opacity="0.8">120</text>
</g>
<polyline points="883.4,30.0 883.4,42.4 872.0,51.0 858.0,60.0 846.0,66.0 820.0,69.5 800.0,72.2 783.6,75.5 777.0,78.7 760.5,94.0 746.9,109.7 710.3,111.3 678.5,103.2 659.8,130.0 641.9,159.0 640.5,175.0 622.6,270.0 599.6,385.7" fill="none" stroke="#000" stroke-width="0.6" stroke-linejoin="round" stroke-opacity="0.8"/>
<text x="513.0" y="78.6" font-size="12" fill="#000" text-anchor="start" font-weight="normal" >100</text>
<text x="514.7" y="92.4" font-size="12" fill="#000" text-anchor="start" font-weight="normal" >80</text>
<text x="525.6" y="127.6" font-size="12" fill="#000" text-anchor="start" font-weight="normal" >60</text>
<text transform="translate(530.5,222.3) rotate(-11)" font-size="12" fill="#000">40</text>
<text x="681.3" y="70.3" font-size="12" fill="#000" text-anchor="start" font-weight="normal" >100</text>
<text x="679.2" y="81.3" font-size="12" fill="#000" text-anchor="start" font-weight="normal" >80</text>
<text x="690.6" y="102.3" font-size="12" fill="#000" text-anchor="start" font-weight="normal" >60</text>
<text x="851.5" y="57.0" font-size="12" fill="#000" text-anchor="start" font-weight="normal" fill-opacity="0.8">100</text>
<text x="848.5" y="62.8" font-size="12" fill="#000" text-anchor="start" font-weight="normal" fill-opacity="0.8">80</text>
<text x="843.8" y="69.2" font-size="12" fill="#000" text-anchor="start" font-weight="normal" >60</text>
<rect x="506.8" y="30.1" width="383.8" height="355.8" fill="none" stroke="#000" stroke-width="1.3"/>
<text x="503.7" y="34.4" font-size="12.9" fill="#000" text-anchor="end" font-weight="normal" >0</text>
<text x="503.7" y="70.0" font-size="12.9" fill="#000" text-anchor="end" font-weight="normal" >−100</text>
<text x="503.7" y="105.6" font-size="12.9" fill="#000" text-anchor="end" font-weight="normal" >−200</text>
<text x="503.7" y="141.1" font-size="12.9" fill="#000" text-anchor="end" font-weight="normal" >−300</text>
<text x="503.7" y="176.7" font-size="12.9" fill="#000" text-anchor="end" font-weight="normal" >−400</text>
<text x="503.7" y="212.3" font-size="12.9" fill="#000" text-anchor="end" font-weight="normal" >−500</text>
<text x="503.7" y="247.9" font-size="12.9" fill="#000" text-anchor="end" font-weight="normal" >−600</text>
<text x="503.7" y="283.5" font-size="12.9" fill="#000" text-anchor="end" font-weight="normal" >−700</text>
<text x="503.7" y="319.0" font-size="12.9" fill="#000" text-anchor="end" font-weight="normal" >−800</text>
<text x="503.7" y="354.6" font-size="12.9" fill="#000" text-anchor="end" font-weight="normal" >−900</text>
<text x="503.7" y="390.2" font-size="12.9" fill="#000" text-anchor="end" font-weight="normal" >−1000</text>
<text x="507.3" y="400.9" font-size="12.9" fill="#000" text-anchor="middle" font-weight="normal" >0</text>
<text x="549.9" y="400.9" font-size="12.9" fill="#000" text-anchor="middle" font-weight="normal" >10</text>
<text x="592.6" y="400.9" font-size="12.9" fill="#000" text-anchor="middle" font-weight="normal" >20</text>
<text x="635.2" y="400.9" font-size="12.9" fill="#000" text-anchor="middle" font-weight="normal" >30</text>
<text x="677.9" y="400.9" font-size="12.9" fill="#000" text-anchor="middle" font-weight="normal" >40</text>
<text x="720.5" y="400.9" font-size="12.9" fill="#000" text-anchor="middle" font-weight="normal" >50</text>
<text x="763.2" y="400.9" font-size="12.9" fill="#000" text-anchor="middle" font-weight="normal" >60</text>
<text x="805.8" y="400.9" font-size="12.9" fill="#000" text-anchor="middle" font-weight="normal" >70</text>
<text x="848.5" y="400.9" font-size="12.9" fill="#000" text-anchor="middle" font-weight="normal" >80</text>
<text x="891.1" y="400.9" font-size="12.9" fill="#000" text-anchor="middle" font-weight="normal" >90</text>
<path d="M506.8,30.1h3.8M890.6,30.1h-3.8M506.8,65.7h3.8M890.6,65.7h-3.8M506.8,101.3h3.8M890.6,101.3h-3.8M506.8,136.8h3.8M890.6,136.8h-3.8M506.8,172.4h3.8M890.6,172.4h-3.8M506.8,208.0h3.8M890.6,208.0h-3.8M506.8,243.6h3.8M890.6,243.6h-3.8M506.8,279.2h3.8M890.6,279.2h-3.8M506.8,314.7h3.8M890.6,314.7h-3.8M506.8,350.3h3.8M890.6,350.3h-3.8M506.8,385.9h3.8M890.6,385.9h-3.8M506.8,385.9v-3.8M549.4,385.9v-3.8M592.1,385.9v-3.8M634.7,385.9v-3.8M677.4,385.9v-3.8M720.0,385.9v-3.8M762.7,385.9v-3.8M805.3,385.9v-3.8M848.0,385.9v-3.8M890.6,385.9v-3.8" stroke="#000" stroke-width="0.8" fill="none"/>
<text x="562.4" y="22.6" font-size="13" fill="#000" text-anchor="start" font-weight="normal" textLength="271.6" lengthAdjust="spacingAndGlyphs" >oxygen from 44N − umol/kg, May−August 2013</text>
<linearGradient id="cb" x1="0" y1="0" x2="0" y2="1">
<stop offset="-0.0011" stop-color="#701010"/>
<stop offset="0.0390" stop-color="#961818"/>
<stop offset="0.0811" stop-color="#c02020"/>
<stop offset="0.1231" stop-color="#e02626"/>
<stop offset="0.1652" stop-color="#e82828"/>
<stop offset="0.4457" stop-color="#e82828"/>
<stop offset="0.4878" stop-color="#ea4024"/>
<stop offset="0.5439" stop-color="#ee6a20"/>
<stop offset="0.6028" stop-color="#f0a020"/>
<stop offset="0.6729" stop-color="#f6d020"/>
<stop offset="0.7094" stop-color="#f0f028"/>
<stop offset="0.7374" stop-color="#88e868"/>
<stop offset="0.7599" stop-color="#44f0c0"/>
<stop offset="0.7823" stop-color="#48ecf8"/>
<stop offset="0.8160" stop-color="#40a8f4"/>
<stop offset="0.8384" stop-color="#3090f0"/>
<stop offset="0.8889" stop-color="#1040f0"/>
<stop offset="0.9394" stop-color="#0a10e0"/>
<stop offset="0.9899" stop-color="#301090"/>
<stop offset="0.9997" stop-color="#301090"/>
</linearGradient>
<rect x="910.6" y="31.1" width="25.8" height="356.5" fill="url(#cb)" stroke="#000" stroke-width="1"/>
<text x="939.2" y="91.2" font-size="12.9" fill="#000" text-anchor="start" font-weight="normal" >250</text>
<text x="939.2" y="160.3" font-size="12.9" fill="#000" text-anchor="start" font-weight="normal" >200</text>
<text x="939.2" y="229.4" font-size="12.9" fill="#000" text-anchor="start" font-weight="normal" >150</text>
<text x="939.2" y="298.5" font-size="12.9" fill="#000" text-anchor="start" font-weight="normal" >100</text>
<text x="939.2" y="367.6" font-size="12.9" fill="#000" text-anchor="start" font-weight="normal" >50</text>
<path d="M910.6,86.7h3M936.4,86.7h-3M910.6,155.8h3M936.4,155.8h-3M910.6,224.9h3M936.4,224.9h-3M910.6,294h3M936.4,294h-3M910.6,363.1h3M936.4,363.1h-3" stroke="#000" stroke-width="0.8" fill="none"/>
<text x="822.1" y="421.7" font-size="17.7" fill="#111" text-anchor="start" font-weight="normal" textLength="138.0" lengthAdjust="spacingAndGlyphs" >Pierce et al, 2012</text>
<defs>
<linearGradient id="lg1" x1="0" y1="0" x2="0" y2="1">
<stop offset="0" stop-color="#9cdcdc"/><stop offset="0.24" stop-color="#58b0c8"/><stop offset="0.47" stop-color="#3c86c6"/><stop offset="0.72" stop-color="#3468b2"/><stop offset="0.86" stop-color="#3a8494"/><stop offset="1" stop-color="#2e7484"/>
</linearGradient>
<radialGradient id="lgt" cx="0.5" cy="0.5" r="0.5"><stop offset="0" stop-color="#e8fbf6" stop-opacity="0.75"/><stop offset="1" stop-color="#e8fbf6" stop-opacity="0"/></radialGradient>
<radialGradient id="lgd" cx="0.5" cy="0.5" r="0.5"><stop offset="0" stop-color="#1c4694" stop-opacity="0.6"/><stop offset="1" stop-color="#1c4694" stop-opacity="0"/></radialGradient>
<radialGradient id="lgl" cx="0.5" cy="0.5" r="0.5"><stop offset="0" stop-color="#86bce0" stop-opacity="0.6"/><stop offset="1" stop-color="#86bce0" stop-opacity="0"/></radialGradient>
<radialGradient id="sh" cx="0.5" cy="0.5" r="0.5"><stop offset="0.82" stop-color="#000" stop-opacity="0.32"/><stop offset="1" stop-color="#000" stop-opacity="0"/></radialGradient>
<clipPath id="lc"><circle cx="817.8" cy="311.4" r="45.3"/></clipPath>
</defs>
<ellipse cx="819" cy="315.5" rx="50.5" ry="49.5" fill="url(#sh)"/>
<circle cx="817.8" cy="311.4" r="46.9" fill="#f6f8fa" stroke="#b8bcc2" stroke-width="0.7"/>
<circle cx="817.8" cy="311.4" r="45.3" fill="url(#lg1)"/>
<g clip-path="url(#lc)">
<ellipse cx="820" cy="270" rx="38" ry="30" fill="url(#lgt)"/>
<ellipse cx="858" cy="322" rx="34" ry="34" fill="url(#lgd)"/>
<ellipse cx="786" cy="334" rx="24" ry="18" fill="url(#lgl)"/>
<polygon points="812,262 826,262 836,318 804,318" fill="#e0f8f2" fill-opacity="0.2"/>
<polygon points="824,262 836,262 860,312 842,316" fill="#e0f8f2" fill-opacity="0.14"/>
<polygon points="798,262 809,262 796,316 778,312" fill="#e0f8f2" fill-opacity="0.12"/>
<path d="M800,331 C807,326 820,325 829,329 L838.5,324.5 L835.5,331.5 L838.5,338 L829,334 C820,338 807,337 800,331 Z" fill="#b4cce4" fill-opacity="0.92"/>
<path d="M802,330.2 C809,326.5 819,326 828,329.5 C820,328.5 810,328.5 802,330.2Z" fill="#5c82b0" fill-opacity="0.7"/>
<path d="M842,340.5 c3,-2 7,-2 10,0 l3,-2 l-1,3 l1,3 l-3,-2 c-3,2 -7,2 -10,0z" fill="#aec4dc" fill-opacity="0.55"/>
</g>
<text x="777.2" y="319.6" font-size="20.5" fill="#fff" stroke="#fff" stroke-width="0.5" textLength="80.4" lengthAdjust="spacingAndGlyphs" style="paint-order:stroke">J-SCOPE</text>
</svg>
</body></html>
